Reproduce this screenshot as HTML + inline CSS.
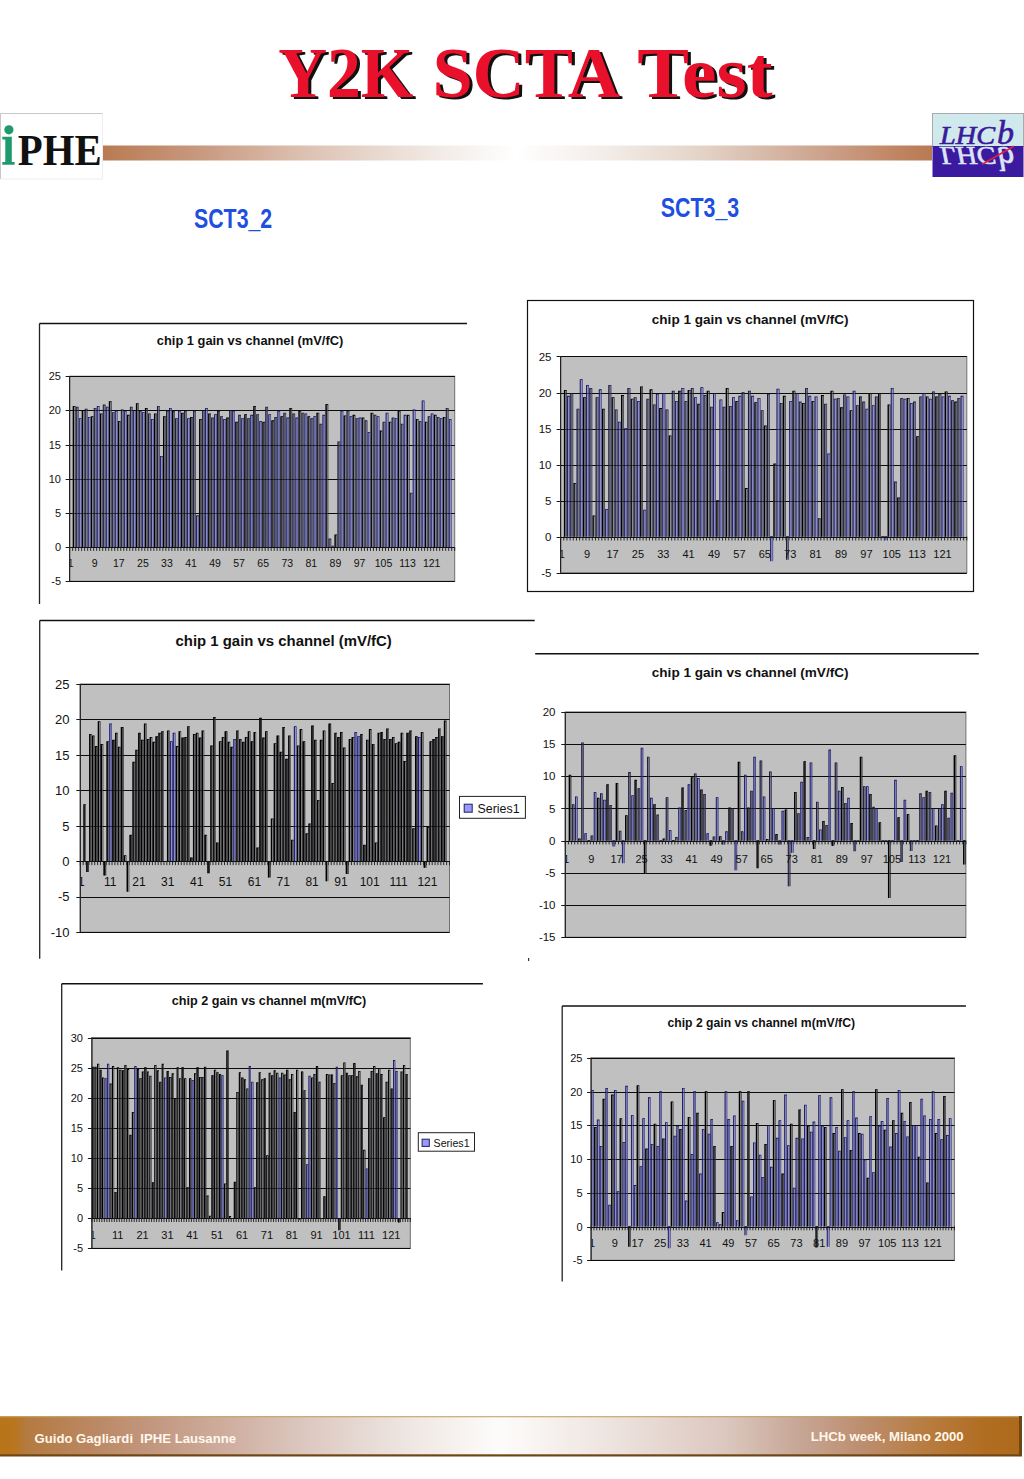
<!DOCTYPE html>
<html><head><meta charset="utf-8"><style>
html,body{margin:0;padding:0;background:#fff;}
svg{display:block;}
text{white-space:pre;}
</style></head><body>
<svg width="1024" height="1479" viewBox="0 0 1024 1479" font-family='"Liberation Sans", sans-serif'>

<defs>
<linearGradient id="hbar" x1="0" x2="1" y1="0" y2="0">
<stop offset="0" stop-color="#b97a52"/>
<stop offset="0.12" stop-color="#c89a80"/>
<stop offset="0.24" stop-color="#dcc0b0"/>
<stop offset="0.36" stop-color="#ece0d8"/>
<stop offset="0.47" stop-color="#fbf9f8"/>
<stop offset="0.5" stop-color="#ffffff"/>
<stop offset="0.53" stop-color="#fbf9f8"/>
<stop offset="0.6" stop-color="#f4eeea"/>
<stop offset="0.72" stop-color="#e4d4c8"/>
<stop offset="0.84" stop-color="#d0ac98"/>
<stop offset="0.96" stop-color="#c08462"/>
<stop offset="1" stop-color="#b97a52"/>
</linearGradient>
<linearGradient id="fbar" x1="0" x2="1" y1="0" y2="0">
<stop offset="0" stop-color="#b87418"/>
<stop offset="0.015" stop-color="#b8761e"/>
<stop offset="0.025" stop-color="#b47a40"/>
<stop offset="0.10" stop-color="#bc8a68"/>
<stop offset="0.16" stop-color="#c49a84"/>
<stop offset="0.23" stop-color="#d0b0a2"/>
<stop offset="0.30" stop-color="#dcc8c0"/>
<stop offset="0.40" stop-color="#eee6e2"/>
<stop offset="0.49" stop-color="#fdfcfb"/>
<stop offset="0.58" stop-color="#f0e8e4"/>
<stop offset="0.71" stop-color="#dcc8c0"/>
<stop offset="0.78" stop-color="#c8a898"/>
<stop offset="0.85" stop-color="#bc8c6c"/>
<stop offset="0.91" stop-color="#b87c40"/>
<stop offset="0.97" stop-color="#b06c20"/>
<stop offset="1" stop-color="#ae6a1c"/>
</linearGradient>
</defs>
<!-- title -->
<g font-family='"Liberation Serif", serif' font-weight="bold" font-size="71">
<g fill="#111" transform="translate(3,2.6)">
<text x="278.2" y="96.5" textLength="135.2" lengthAdjust="spacingAndGlyphs">Y2K</text>
<text x="432.4" y="96.5" textLength="187.6" lengthAdjust="spacingAndGlyphs">SCTA</text>
<text x="637.3" y="96.5" textLength="135.2" lengthAdjust="spacingAndGlyphs">Test</text>
</g>
<g fill="#e8102a">
<text x="278.2" y="96.5" textLength="135.2" lengthAdjust="spacingAndGlyphs">Y2K</text>
<text x="432.4" y="96.5" textLength="187.6" lengthAdjust="spacingAndGlyphs">SCTA</text>
<text x="637.3" y="96.5" textLength="135.2" lengthAdjust="spacingAndGlyphs">Test</text>
</g>
</g>
<!-- gradient bar -->
<rect x="102" y="145.5" width="830" height="15" fill="url(#hbar)"/>
<!-- IPHE logo -->
<rect x="0" y="113" width="103" height="66" fill="#fff"/>
<path d="M0.5 179V113.5H102.5" fill="none" stroke="#c8c8c8" stroke-width="1"/>
<path d="M102.5 113.5V179H0.5" fill="none" stroke="#eee" stroke-width="1"/>
<path d="M2.3 136.7H11.8V162H14.6V164.7H2.3V162H5.3V139.6H2.3Z" fill="#1e9a6e"/>
<circle cx="8.9" cy="129.8" r="4.6" fill="#1e9a6e"/>
<text x="17.8" y="164.7" font-family='"Liberation Serif", serif' font-weight="bold" font-size="44" fill="#111" textLength="83.8" lengthAdjust="spacingAndGlyphs">PHE</text>
<!-- LHCb logo -->
<rect x="932.5" y="113.5" width="91" height="33" fill="#cfe9ec" stroke="#aaa" stroke-width="1"/>
<rect x="932.5" y="146" width="91" height="31" fill="#3c1aa0"/>
<g font-family='"Liberation Serif", serif' font-style="italic" fill="#3a1a9a" stroke="#3a1a9a" stroke-width="0.6">
<text x="940" y="144.4" font-size="24.5" textLength="55" lengthAdjust="spacingAndGlyphs">LHC</text>
<text x="997" y="144.4" font-size="33" textLength="17" lengthAdjust="spacingAndGlyphs">b</text>
</g>
<g transform="translate(0,292) scale(1,-1)" font-family='"Liberation Serif", serif' font-style="italic" fill="#dde4f4" stroke="#dde4f4" stroke-width="0.6">
<text x="940" y="144.6" font-size="24.5" textLength="55" lengthAdjust="spacingAndGlyphs">LHC</text>
<text x="997" y="144.6" font-size="33" textLength="17" lengthAdjust="spacingAndGlyphs">b</text>
</g>
<line x1="982.3" y1="164.3" x2="1013.8" y2="146.2" stroke="#e02040" stroke-width="1.6"/>
<!-- SCT labels -->
<g font-family='"Liberation Sans", sans-serif' font-weight="bold" font-size="27.3" fill="#1f4fe0">
<text x="194" y="227.5" textLength="78.2" lengthAdjust="spacingAndGlyphs">SCT3_2</text>
<text x="660.7" y="216.5" textLength="78.5" lengthAdjust="spacingAndGlyphs">SCT3_3</text>
</g>
<rect x="528" y="958" width="1.2" height="3" fill="#333"/>
<!-- footer -->
<rect x="0" y="1416" width="1022" height="40.5" fill="#6e4612"/>
<rect x="0" y="1416" width="1019" height="38.3" fill="url(#fbar)"/>
<rect x="0" y="1416" width="1019" height="1.3" fill="#c8a46c" opacity="0.85"/>
<g font-family='"Liberation Sans", sans-serif' font-weight="bold" font-size="12.8" fill="#fff8ec">
<text x="34.5" y="1442.8" textLength="201.5" lengthAdjust="spacingAndGlyphs">Guido Gagliardi  IPHE Lausanne</text>
<text x="810.7" y="1441.3" textLength="153" lengthAdjust="spacingAndGlyphs">LHCb week, Milano 2000</text>
</g>

<clipPath id="clip140146022137024"><rect x="70.1" y="376.2" width="385.1" height="245.09999999999997"/></clipPath>
<line x1="39.5" y1="323.5" x2="39.5" y2="604" stroke="#222" stroke-width="1.3"/>
<line x1="39.5" y1="323.5" x2="467" y2="323.5" stroke="#111" stroke-width="1.3"/>
<text x="156.8" y="344.6" font-size="12.5" font-weight="bold" fill="#111" textLength="186.5" lengthAdjust="spacingAndGlyphs">chip 1 gain vs channel (mV/fC)</text>
<rect x="69.6" y="376.2" width="385.1" height="205.09999999999997" fill="#c0c0c0" stroke="#707070" stroke-width="1"/>
<line x1="65.6" y1="581.5" x2="454.7" y2="581.5" stroke="#1a1a1a" stroke-width="1"/>
<text x="61" y="585.3" font-size="11" text-anchor="end" fill="#111">-5</text>
<line x1="65.6" y1="547.5" x2="454.7" y2="547.5" stroke="#1a1a1a" stroke-width="1"/>
<text x="61" y="551.1" font-size="11" text-anchor="end" fill="#111">0</text>
<line x1="65.6" y1="513.5" x2="454.7" y2="513.5" stroke="#1a1a1a" stroke-width="1"/>
<text x="61" y="516.9" font-size="11" text-anchor="end" fill="#111">5</text>
<line x1="65.6" y1="479.5" x2="454.7" y2="479.5" stroke="#1a1a1a" stroke-width="1"/>
<text x="61" y="482.7" font-size="11" text-anchor="end" fill="#111">10</text>
<line x1="65.6" y1="445.5" x2="454.7" y2="445.5" stroke="#1a1a1a" stroke-width="1"/>
<text x="61" y="448.5" font-size="11" text-anchor="end" fill="#111">15</text>
<line x1="65.6" y1="410.5" x2="454.7" y2="410.5" stroke="#1a1a1a" stroke-width="1"/>
<text x="61" y="414.3" font-size="11" text-anchor="end" fill="#111">20</text>
<line x1="65.6" y1="376.5" x2="454.7" y2="376.5" stroke="#1a1a1a" stroke-width="1"/>
<text x="61" y="380.2" font-size="11" text-anchor="end" fill="#111">25</text>
<path d="M69.60 547.1v3.8 M72.61 547.1v3.8 M75.62 547.1v3.8 M78.63 547.1v3.8 M81.63 547.1v3.8 M84.64 547.1v3.8 M87.65 547.1v3.8 M90.66 547.1v3.8 M93.67 547.1v3.8 M96.68 547.1v3.8 M99.69 547.1v3.8 M102.69 547.1v3.8 M105.70 547.1v3.8 M108.71 547.1v3.8 M111.72 547.1v3.8 M114.73 547.1v3.8 M117.74 547.1v3.8 M120.75 547.1v3.8 M123.75 547.1v3.8 M126.76 547.1v3.8 M129.77 547.1v3.8 M132.78 547.1v3.8 M135.79 547.1v3.8 M138.80 547.1v3.8 M141.81 547.1v3.8 M144.81 547.1v3.8 M147.82 547.1v3.8 M150.83 547.1v3.8 M153.84 547.1v3.8 M156.85 547.1v3.8 M159.86 547.1v3.8 M162.87 547.1v3.8 M165.88 547.1v3.8 M168.88 547.1v3.8 M171.89 547.1v3.8 M174.90 547.1v3.8 M177.91 547.1v3.8 M180.92 547.1v3.8 M183.93 547.1v3.8 M186.94 547.1v3.8 M189.94 547.1v3.8 M192.95 547.1v3.8 M195.96 547.1v3.8 M198.97 547.1v3.8 M201.98 547.1v3.8 M204.99 547.1v3.8 M208.00 547.1v3.8 M211.00 547.1v3.8 M214.01 547.1v3.8 M217.02 547.1v3.8 M220.03 547.1v3.8 M223.04 547.1v3.8 M226.05 547.1v3.8 M229.06 547.1v3.8 M232.06 547.1v3.8 M235.07 547.1v3.8 M238.08 547.1v3.8 M241.09 547.1v3.8 M244.10 547.1v3.8 M247.11 547.1v3.8 M250.12 547.1v3.8 M253.12 547.1v3.8 M256.13 547.1v3.8 M259.14 547.1v3.8 M262.15 547.1v3.8 M265.16 547.1v3.8 M268.17 547.1v3.8 M271.18 547.1v3.8 M274.18 547.1v3.8 M277.19 547.1v3.8 M280.20 547.1v3.8 M283.21 547.1v3.8 M286.22 547.1v3.8 M289.23 547.1v3.8 M292.24 547.1v3.8 M295.24 547.1v3.8 M298.25 547.1v3.8 M301.26 547.1v3.8 M304.27 547.1v3.8 M307.28 547.1v3.8 M310.29 547.1v3.8 M313.30 547.1v3.8 M316.30 547.1v3.8 M319.31 547.1v3.8 M322.32 547.1v3.8 M325.33 547.1v3.8 M328.34 547.1v3.8 M331.35 547.1v3.8 M334.36 547.1v3.8 M337.36 547.1v3.8 M340.37 547.1v3.8 M343.38 547.1v3.8 M346.39 547.1v3.8 M349.40 547.1v3.8 M352.41 547.1v3.8 M355.42 547.1v3.8 M358.43 547.1v3.8 M361.43 547.1v3.8 M364.44 547.1v3.8 M367.45 547.1v3.8 M370.46 547.1v3.8 M373.47 547.1v3.8 M376.48 547.1v3.8 M379.49 547.1v3.8 M382.49 547.1v3.8 M385.50 547.1v3.8 M388.51 547.1v3.8 M391.52 547.1v3.8 M394.53 547.1v3.8 M397.54 547.1v3.8 M400.55 547.1v3.8 M403.55 547.1v3.8 M406.56 547.1v3.8 M409.57 547.1v3.8 M412.58 547.1v3.8 M415.59 547.1v3.8 M418.60 547.1v3.8 M421.61 547.1v3.8 M424.61 547.1v3.8 M427.62 547.1v3.8 M430.63 547.1v3.8 M433.64 547.1v3.8 M436.65 547.1v3.8 M439.66 547.1v3.8 M442.67 547.1v3.8 M445.67 547.1v3.8 M448.68 547.1v3.8 M451.69 547.1v3.8 M454.70 547.1v3.8" stroke="#1a1a1a" stroke-width="0.9"/>
<path d="M72.73 406.28h2.76v140.84h-2.76Z M81.76 410.38h2.76v136.73h-2.76Z M90.79 416.54h2.76v130.58h-2.76Z M99.81 413.80h2.76v133.32h-2.76Z M108.84 401.50h2.76v145.62h-2.76Z M117.86 421.32h2.76v125.79h-2.76Z M126.89 415.17h2.76v131.95h-2.76Z M135.91 403.55h2.76v143.57h-2.76Z M144.94 408.33h2.76v138.78h-2.76Z M153.97 413.80h2.76v133.32h-2.76Z M162.99 416.54h2.76v130.58h-2.76Z M172.02 411.07h2.76v136.05h-2.76Z M181.04 413.12h2.76v134.00h-2.76Z M190.07 417.22h2.76v129.90h-2.76Z M199.09 419.27h2.76v127.85h-2.76Z M208.12 413.80h2.76v133.32h-2.76Z M217.15 411.07h2.76v136.05h-2.76Z M226.17 417.90h2.76v129.21h-2.76Z M235.20 422.01h2.76v125.11h-2.76Z M244.22 414.49h2.76v132.63h-2.76Z M253.25 406.28h2.76v140.84h-2.76Z M262.27 422.01h2.76v125.11h-2.76Z M271.30 420.64h2.76v126.48h-2.76Z M280.33 416.54h2.76v130.58h-2.76Z M289.35 408.33h2.76v138.78h-2.76Z M298.38 411.07h2.76v136.05h-2.76Z M307.40 416.54h2.76v130.58h-2.76Z M316.43 413.12h2.76v134.00h-2.76Z M325.46 404.23h2.76v142.89h-2.76Z M334.48 534.81h2.76v12.31h-2.76Z M343.51 415.85h2.76v131.26h-2.76Z M352.53 415.17h2.76v131.95h-2.76Z M361.56 417.90h2.76v129.21h-2.76Z M370.58 413.12h2.76v134.00h-2.76Z M379.61 430.89h2.76v116.22h-2.76Z M388.64 422.01h2.76v125.11h-2.76Z M397.66 411.07h2.76v136.05h-2.76Z M406.69 415.17h2.76v131.95h-2.76Z M415.71 419.27h2.76v127.85h-2.76Z M424.74 422.01h2.76v125.11h-2.76Z M433.76 415.17h2.76v131.95h-2.76Z M442.79 417.22h2.76v129.90h-2.76Z" fill="#8a8a94"/>
<path d="M72.73 405.98h1.30v141.14h-1.30Z M72.73 405.98h2.76v0.8h-2.76Z M75.09 406.28h0.40v140.84h-0.40Z M81.76 410.08h1.30v137.03h-1.30Z M81.76 410.08h2.76v0.8h-2.76Z M84.12 410.38h0.40v136.73h-0.40Z M90.79 416.24h1.30v130.88h-1.30Z M90.79 416.24h2.76v0.8h-2.76Z M93.14 416.54h0.40v130.58h-0.40Z M99.81 413.50h1.30v133.62h-1.30Z M99.81 413.50h2.76v0.8h-2.76Z M102.17 413.80h0.40v133.32h-0.40Z M108.84 401.20h1.30v145.92h-1.30Z M108.84 401.20h2.76v0.8h-2.76Z M111.20 401.50h0.40v145.62h-0.40Z M117.86 421.02h1.30v126.09h-1.30Z M117.86 421.02h2.76v0.8h-2.76Z M120.22 421.32h0.40v125.79h-0.40Z M126.89 414.87h1.30v132.25h-1.30Z M126.89 414.87h2.76v0.8h-2.76Z M129.25 415.17h0.40v131.95h-0.40Z M135.91 403.25h1.30v143.87h-1.30Z M135.91 403.25h2.76v0.8h-2.76Z M138.27 403.55h0.40v143.57h-0.40Z M144.94 408.03h1.30v139.08h-1.30Z M144.94 408.03h2.76v0.8h-2.76Z M147.30 408.33h0.40v138.78h-0.40Z M153.97 413.50h1.30v133.62h-1.30Z M153.97 413.50h2.76v0.8h-2.76Z M156.32 413.80h0.40v133.32h-0.40Z M162.99 416.24h1.30v130.88h-1.30Z M162.99 416.24h2.76v0.8h-2.76Z M165.35 416.54h0.40v130.58h-0.40Z M172.02 410.77h1.30v136.35h-1.30Z M172.02 410.77h2.76v0.8h-2.76Z M174.38 411.07h0.40v136.05h-0.40Z M181.04 412.82h1.30v134.30h-1.30Z M181.04 412.82h2.76v0.8h-2.76Z M183.40 413.12h0.40v134.00h-0.40Z M190.07 416.92h1.30v130.20h-1.30Z M190.07 416.92h2.76v0.8h-2.76Z M192.43 417.22h0.40v129.90h-0.40Z M199.09 418.97h1.30v128.15h-1.30Z M199.09 418.97h2.76v0.8h-2.76Z M201.45 419.27h0.40v127.85h-0.40Z M208.12 413.50h1.30v133.62h-1.30Z M208.12 413.50h2.76v0.8h-2.76Z M210.48 413.80h0.40v133.32h-0.40Z M217.15 410.77h1.30v136.35h-1.30Z M217.15 410.77h2.76v0.8h-2.76Z M219.50 411.07h0.40v136.05h-0.40Z M226.17 417.60h1.30v129.51h-1.30Z M226.17 417.60h2.76v0.8h-2.76Z M228.53 417.90h0.40v129.21h-0.40Z M235.20 421.71h1.30v125.41h-1.30Z M235.20 421.71h2.76v0.8h-2.76Z M237.56 422.01h0.40v125.11h-0.40Z M244.22 414.19h1.30v132.93h-1.30Z M244.22 414.19h2.76v0.8h-2.76Z M246.58 414.49h0.40v132.63h-0.40Z M253.25 405.98h1.30v141.14h-1.30Z M253.25 405.98h2.76v0.8h-2.76Z M255.61 406.28h0.40v140.84h-0.40Z M262.27 421.71h1.30v125.41h-1.30Z M262.27 421.71h2.76v0.8h-2.76Z M264.63 422.01h0.40v125.11h-0.40Z M271.30 420.34h1.30v126.78h-1.30Z M271.30 420.34h2.76v0.8h-2.76Z M273.66 420.64h0.40v126.48h-0.40Z M280.33 416.24h1.30v130.88h-1.30Z M280.33 416.24h2.76v0.8h-2.76Z M282.69 416.54h0.40v130.58h-0.40Z M289.35 408.03h1.30v139.08h-1.30Z M289.35 408.03h2.76v0.8h-2.76Z M291.71 408.33h0.40v138.78h-0.40Z M298.38 410.77h1.30v136.35h-1.30Z M298.38 410.77h2.76v0.8h-2.76Z M300.74 411.07h0.40v136.05h-0.40Z M307.40 416.24h1.30v130.88h-1.30Z M307.40 416.24h2.76v0.8h-2.76Z M309.76 416.54h0.40v130.58h-0.40Z M316.43 412.82h1.30v134.30h-1.30Z M316.43 412.82h2.76v0.8h-2.76Z M318.79 413.12h0.40v134.00h-0.40Z M325.46 403.93h1.30v143.19h-1.30Z M325.46 403.93h2.76v0.8h-2.76Z M327.81 404.23h0.40v142.89h-0.40Z M334.48 534.51h1.30v12.61h-1.30Z M334.48 534.51h2.76v0.8h-2.76Z M336.84 534.81h0.40v12.31h-0.40Z M343.51 415.55h1.30v131.56h-1.30Z M343.51 415.55h2.76v0.8h-2.76Z M345.87 415.85h0.40v131.26h-0.40Z M352.53 414.87h1.30v132.25h-1.30Z M352.53 414.87h2.76v0.8h-2.76Z M354.89 415.17h0.40v131.95h-0.40Z M361.56 417.60h1.30v129.51h-1.30Z M361.56 417.60h2.76v0.8h-2.76Z M363.92 417.90h0.40v129.21h-0.40Z M370.58 412.82h1.30v134.30h-1.30Z M370.58 412.82h2.76v0.8h-2.76Z M372.94 413.12h0.40v134.00h-0.40Z M379.61 430.59h1.30v116.52h-1.30Z M379.61 430.59h2.76v0.8h-2.76Z M381.97 430.89h0.40v116.22h-0.40Z M388.64 421.71h1.30v125.41h-1.30Z M388.64 421.71h2.76v0.8h-2.76Z M390.99 422.01h0.40v125.11h-0.40Z M397.66 410.77h1.30v136.35h-1.30Z M397.66 410.77h2.76v0.8h-2.76Z M400.02 411.07h0.40v136.05h-0.40Z M406.69 414.87h1.30v132.25h-1.30Z M406.69 414.87h2.76v0.8h-2.76Z M409.05 415.17h0.40v131.95h-0.40Z M415.71 418.97h1.30v128.15h-1.30Z M415.71 418.97h2.76v0.8h-2.76Z M418.07 419.27h0.40v127.85h-0.40Z M424.74 421.71h1.30v125.41h-1.30Z M424.74 421.71h2.76v0.8h-2.76Z M427.10 422.01h0.40v125.11h-0.40Z M433.76 414.87h1.30v132.25h-1.30Z M433.76 414.87h2.76v0.8h-2.76Z M436.12 415.17h0.40v131.95h-0.40Z M442.79 416.92h1.30v130.20h-1.30Z M442.79 416.92h2.76v0.8h-2.76Z M445.15 417.22h0.40v129.90h-0.40Z" fill="#000000"/>
<path d="M75.74 406.96h2.76v140.15h-2.76Z M84.77 409.02h2.76v138.10h-2.76Z M93.79 408.33h2.76v138.78h-2.76Z M102.82 404.91h2.76v142.20h-2.76Z M111.85 412.43h2.76v134.68h-2.76Z M120.87 409.70h2.76v137.42h-2.76Z M129.90 406.96h2.76v140.15h-2.76Z M138.92 411.07h2.76v136.05h-2.76Z M147.95 413.80h2.76v133.32h-2.76Z M156.97 406.28h2.76v140.84h-2.76Z M166.00 411.07h2.76v136.05h-2.76Z M175.03 418.59h2.76v128.53h-2.76Z M184.05 411.07h2.76v136.05h-2.76Z M193.08 411.07h2.76v136.05h-2.76Z M202.10 410.38h2.76v136.73h-2.76Z M211.13 417.90h2.76v129.21h-2.76Z M220.15 416.54h2.76v130.58h-2.76Z M229.18 410.38h2.76v136.73h-2.76Z M238.21 415.17h2.76v131.95h-2.76Z M247.23 418.59h2.76v128.53h-2.76Z M256.26 414.49h2.76v132.63h-2.76Z M265.28 406.96h2.76v140.15h-2.76Z M274.31 417.22h2.76v129.90h-2.76Z M283.34 413.12h2.76v134.00h-2.76Z M292.36 413.80h2.76v133.32h-2.76Z M301.39 413.12h2.76v134.00h-2.76Z M310.41 418.59h2.76v128.53h-2.76Z M319.44 424.06h2.76v123.06h-2.76Z M328.46 538.91h2.76v8.20h-2.76Z M337.49 441.83h2.76v105.28h-2.76Z M346.52 411.07h2.76v136.05h-2.76Z M355.54 418.59h2.76v128.53h-2.76Z M364.57 420.64h2.76v126.48h-2.76Z M373.59 415.17h2.76v131.95h-2.76Z M382.62 422.01h2.76v125.11h-2.76Z M391.64 417.90h2.76v129.21h-2.76Z M400.67 424.06h2.76v123.06h-2.76Z M409.70 493.11h2.76v54.01h-2.76Z M418.72 421.32h2.76v125.79h-2.76Z M427.75 416.54h2.76v130.58h-2.76Z M436.77 417.22h2.76v129.90h-2.76Z M445.80 408.33h2.76v138.78h-2.76Z" fill="#76768e"/>
<path d="M75.74 406.66h1.00v140.45h-1.00Z M75.74 406.66h2.76v0.8h-2.76Z M78.10 406.96h0.40v140.15h-0.40Z M84.77 408.72h1.00v138.40h-1.00Z M84.77 408.72h2.76v0.8h-2.76Z M87.13 409.02h0.40v138.10h-0.40Z M93.79 408.03h1.00v139.08h-1.00Z M93.79 408.03h2.76v0.8h-2.76Z M96.15 408.33h0.40v138.78h-0.40Z M102.82 404.61h1.00v142.50h-1.00Z M102.82 404.61h2.76v0.8h-2.76Z M105.18 404.91h0.40v142.20h-0.40Z M111.85 412.13h1.00v134.98h-1.00Z M111.85 412.13h2.76v0.8h-2.76Z M114.20 412.43h0.40v134.68h-0.40Z M120.87 409.40h1.00v137.72h-1.00Z M120.87 409.40h2.76v0.8h-2.76Z M123.23 409.70h0.40v137.42h-0.40Z M129.90 406.66h1.00v140.45h-1.00Z M129.90 406.66h2.76v0.8h-2.76Z M132.26 406.96h0.40v140.15h-0.40Z M138.92 410.77h1.00v136.35h-1.00Z M138.92 410.77h2.76v0.8h-2.76Z M141.28 411.07h0.40v136.05h-0.40Z M147.95 413.50h1.00v133.62h-1.00Z M147.95 413.50h2.76v0.8h-2.76Z M150.31 413.80h0.40v133.32h-0.40Z M156.97 405.98h1.00v141.14h-1.00Z M156.97 405.98h2.76v0.8h-2.76Z M159.33 406.28h0.40v140.84h-0.40Z M166.00 410.77h1.00v136.35h-1.00Z M166.00 410.77h2.76v0.8h-2.76Z M168.36 411.07h0.40v136.05h-0.40Z M175.03 418.29h1.00v128.83h-1.00Z M175.03 418.29h2.76v0.8h-2.76Z M177.38 418.59h0.40v128.53h-0.40Z M184.05 410.77h1.00v136.35h-1.00Z M184.05 410.77h2.76v0.8h-2.76Z M186.41 411.07h0.40v136.05h-0.40Z M193.08 410.77h1.00v136.35h-1.00Z M193.08 410.77h2.76v0.8h-2.76Z M195.44 411.07h0.40v136.05h-0.40Z M202.10 410.08h1.00v137.03h-1.00Z M202.10 410.08h2.76v0.8h-2.76Z M204.46 410.38h0.40v136.73h-0.40Z M211.13 417.60h1.00v129.51h-1.00Z M211.13 417.60h2.76v0.8h-2.76Z M213.49 417.90h0.40v129.21h-0.40Z M220.15 416.24h1.00v130.88h-1.00Z M220.15 416.24h2.76v0.8h-2.76Z M222.51 416.54h0.40v130.58h-0.40Z M229.18 410.08h1.00v137.03h-1.00Z M229.18 410.08h2.76v0.8h-2.76Z M231.54 410.38h0.40v136.73h-0.40Z M238.21 414.87h1.00v132.25h-1.00Z M238.21 414.87h2.76v0.8h-2.76Z M240.56 415.17h0.40v131.95h-0.40Z M247.23 418.29h1.00v128.83h-1.00Z M247.23 418.29h2.76v0.8h-2.76Z M249.59 418.59h0.40v128.53h-0.40Z M256.26 414.19h1.00v132.93h-1.00Z M256.26 414.19h2.76v0.8h-2.76Z M258.62 414.49h0.40v132.63h-0.40Z M265.28 406.66h1.00v140.45h-1.00Z M265.28 406.66h2.76v0.8h-2.76Z M267.64 406.96h0.40v140.15h-0.40Z M274.31 416.92h1.00v130.20h-1.00Z M274.31 416.92h2.76v0.8h-2.76Z M276.67 417.22h0.40v129.90h-0.40Z M283.34 412.82h1.00v134.30h-1.00Z M283.34 412.82h2.76v0.8h-2.76Z M285.69 413.12h0.40v134.00h-0.40Z M292.36 413.50h1.00v133.62h-1.00Z M292.36 413.50h2.76v0.8h-2.76Z M294.72 413.80h0.40v133.32h-0.40Z M301.39 412.82h1.00v134.30h-1.00Z M301.39 412.82h2.76v0.8h-2.76Z M303.75 413.12h0.40v134.00h-0.40Z M310.41 418.29h1.00v128.83h-1.00Z M310.41 418.29h2.76v0.8h-2.76Z M312.77 418.59h0.40v128.53h-0.40Z M319.44 423.76h1.00v123.36h-1.00Z M319.44 423.76h2.76v0.8h-2.76Z M321.80 424.06h0.40v123.06h-0.40Z M328.46 538.61h1.00v8.50h-1.00Z M328.46 538.61h2.76v0.8h-2.76Z M330.82 538.91h0.40v8.20h-0.40Z M337.49 441.53h1.00v105.58h-1.00Z M337.49 441.53h2.76v0.8h-2.76Z M339.85 441.83h0.40v105.28h-0.40Z M346.52 410.77h1.00v136.35h-1.00Z M346.52 410.77h2.76v0.8h-2.76Z M348.87 411.07h0.40v136.05h-0.40Z M355.54 418.29h1.00v128.83h-1.00Z M355.54 418.29h2.76v0.8h-2.76Z M357.90 418.59h0.40v128.53h-0.40Z M364.57 420.34h1.00v126.78h-1.00Z M364.57 420.34h2.76v0.8h-2.76Z M366.93 420.64h0.40v126.48h-0.40Z M373.59 414.87h1.00v132.25h-1.00Z M373.59 414.87h2.76v0.8h-2.76Z M375.95 415.17h0.40v131.95h-0.40Z M382.62 421.71h1.00v125.41h-1.00Z M382.62 421.71h2.76v0.8h-2.76Z M384.98 422.01h0.40v125.11h-0.40Z M391.64 417.60h1.00v129.51h-1.00Z M391.64 417.60h2.76v0.8h-2.76Z M394.00 417.90h0.40v129.21h-0.40Z M400.67 423.76h1.00v123.36h-1.00Z M400.67 423.76h2.76v0.8h-2.76Z M403.03 424.06h0.40v123.06h-0.40Z M409.70 492.81h1.00v54.31h-1.00Z M409.70 492.81h2.76v0.8h-2.76Z M412.05 493.11h0.40v54.01h-0.40Z M418.72 421.02h1.00v126.09h-1.00Z M418.72 421.02h2.76v0.8h-2.76Z M421.08 421.32h0.40v125.79h-0.40Z M427.75 416.24h1.00v130.88h-1.00Z M427.75 416.24h2.76v0.8h-2.76Z M430.11 416.54h0.40v130.58h-0.40Z M436.77 416.92h1.00v130.20h-1.00Z M436.77 416.92h2.76v0.8h-2.76Z M439.13 417.22h0.40v129.90h-0.40Z M445.80 408.03h1.00v139.08h-1.00Z M445.80 408.03h2.76v0.8h-2.76Z M448.16 408.33h0.40v138.78h-0.40Z" fill="#1e1e3a"/>
<path d="M78.75 418.59h2.76v128.53h-2.76Z M87.78 417.22h2.76v129.90h-2.76Z M96.80 406.28h2.76v140.84h-2.76Z M105.83 406.96h2.76v140.15h-2.76Z M114.85 411.07h2.76v136.05h-2.76Z M123.88 411.07h2.76v136.05h-2.76Z M132.91 410.38h2.76v136.73h-2.76Z M141.93 412.43h2.76v134.68h-2.76Z M150.96 419.27h2.76v127.85h-2.76Z M159.98 456.19h2.76v90.93h-2.76Z M169.01 408.33h2.76v138.78h-2.76Z M178.03 411.07h2.76v136.05h-2.76Z M187.06 418.59h2.76v128.53h-2.76Z M196.09 515.67h2.76v31.45h-2.76Z M205.11 408.33h2.76v138.78h-2.76Z M214.14 414.49h2.76v132.63h-2.76Z M223.16 419.27h2.76v127.85h-2.76Z M232.19 411.07h2.76v136.05h-2.76Z M241.21 418.59h2.76v128.53h-2.76Z M250.24 415.17h2.76v131.95h-2.76Z M259.27 421.32h2.76v125.79h-2.76Z M268.29 414.49h2.76v132.63h-2.76Z M277.32 411.07h2.76v136.05h-2.76Z M286.34 417.90h2.76v129.21h-2.76Z M295.37 417.90h2.76v129.21h-2.76Z M304.40 413.80h2.76v133.32h-2.76Z M313.42 416.54h2.76v130.58h-2.76Z M322.45 415.17h2.76v131.95h-2.76Z M331.47 546.09h2.76v1.03h-2.76Z M340.50 411.07h2.76v136.05h-2.76Z M349.52 416.54h2.76v130.58h-2.76Z M358.55 417.90h2.76v129.21h-2.76Z M367.58 432.26h2.76v114.86h-2.76Z M376.60 416.54h2.76v130.58h-2.76Z M385.63 413.12h2.76v134.00h-2.76Z M394.65 418.59h2.76v128.53h-2.76Z M403.68 415.17h2.76v131.95h-2.76Z M412.70 409.70h2.76v137.42h-2.76Z M421.73 400.81h2.76v146.30h-2.76Z M430.76 413.80h2.76v133.32h-2.76Z M439.78 418.59h2.76v128.53h-2.76Z M448.81 419.27h2.76v127.85h-2.76Z" fill="#8c8cc6"/>
<path d="M78.75 418.29h0.90v128.83h-0.90Z M78.75 418.29h2.76v0.8h-2.76Z M81.11 418.59h0.40v128.53h-0.40Z M87.78 416.92h0.90v130.20h-0.90Z M87.78 416.92h2.76v0.8h-2.76Z M90.14 417.22h0.40v129.90h-0.40Z M96.80 405.98h0.90v141.14h-0.90Z M96.80 405.98h2.76v0.8h-2.76Z M99.16 406.28h0.40v140.84h-0.40Z M105.83 406.66h0.90v140.45h-0.90Z M105.83 406.66h2.76v0.8h-2.76Z M108.19 406.96h0.40v140.15h-0.40Z M114.85 410.77h0.90v136.35h-0.90Z M114.85 410.77h2.76v0.8h-2.76Z M117.21 411.07h0.40v136.05h-0.40Z M123.88 410.77h0.90v136.35h-0.90Z M123.88 410.77h2.76v0.8h-2.76Z M126.24 411.07h0.40v136.05h-0.40Z M132.91 410.08h0.90v137.03h-0.90Z M132.91 410.08h2.76v0.8h-2.76Z M135.26 410.38h0.40v136.73h-0.40Z M141.93 412.13h0.90v134.98h-0.90Z M141.93 412.13h2.76v0.8h-2.76Z M144.29 412.43h0.40v134.68h-0.40Z M150.96 418.97h0.90v128.15h-0.90Z M150.96 418.97h2.76v0.8h-2.76Z M153.32 419.27h0.40v127.85h-0.40Z M159.98 455.89h0.90v91.23h-0.90Z M159.98 455.89h2.76v0.8h-2.76Z M162.34 456.19h0.40v90.93h-0.40Z M169.01 408.03h0.90v139.08h-0.90Z M169.01 408.03h2.76v0.8h-2.76Z M171.37 408.33h0.40v138.78h-0.40Z M178.03 410.77h0.90v136.35h-0.90Z M178.03 410.77h2.76v0.8h-2.76Z M180.39 411.07h0.40v136.05h-0.40Z M187.06 418.29h0.90v128.83h-0.90Z M187.06 418.29h2.76v0.8h-2.76Z M189.42 418.59h0.40v128.53h-0.40Z M196.09 515.37h0.90v31.75h-0.90Z M196.09 515.37h2.76v0.8h-2.76Z M198.44 515.67h0.40v31.45h-0.40Z M205.11 408.03h0.90v139.08h-0.90Z M205.11 408.03h2.76v0.8h-2.76Z M207.47 408.33h0.40v138.78h-0.40Z M214.14 414.19h0.90v132.93h-0.90Z M214.14 414.19h2.76v0.8h-2.76Z M216.50 414.49h0.40v132.63h-0.40Z M223.16 418.97h0.90v128.15h-0.90Z M223.16 418.97h2.76v0.8h-2.76Z M225.52 419.27h0.40v127.85h-0.40Z M232.19 410.77h0.90v136.35h-0.90Z M232.19 410.77h2.76v0.8h-2.76Z M234.55 411.07h0.40v136.05h-0.40Z M241.21 418.29h0.90v128.83h-0.90Z M241.21 418.29h2.76v0.8h-2.76Z M243.57 418.59h0.40v128.53h-0.40Z M250.24 414.87h0.90v132.25h-0.90Z M250.24 414.87h2.76v0.8h-2.76Z M252.60 415.17h0.40v131.95h-0.40Z M259.27 421.02h0.90v126.09h-0.90Z M259.27 421.02h2.76v0.8h-2.76Z M261.62 421.32h0.40v125.79h-0.40Z M268.29 414.19h0.90v132.93h-0.90Z M268.29 414.19h2.76v0.8h-2.76Z M270.65 414.49h0.40v132.63h-0.40Z M277.32 410.77h0.90v136.35h-0.90Z M277.32 410.77h2.76v0.8h-2.76Z M279.68 411.07h0.40v136.05h-0.40Z M286.34 417.60h0.90v129.51h-0.90Z M286.34 417.60h2.76v0.8h-2.76Z M288.70 417.90h0.40v129.21h-0.40Z M295.37 417.60h0.90v129.51h-0.90Z M295.37 417.60h2.76v0.8h-2.76Z M297.73 417.90h0.40v129.21h-0.40Z M304.40 413.50h0.90v133.62h-0.90Z M304.40 413.50h2.76v0.8h-2.76Z M306.75 413.80h0.40v133.32h-0.40Z M313.42 416.24h0.90v130.88h-0.90Z M313.42 416.24h2.76v0.8h-2.76Z M315.78 416.54h0.40v130.58h-0.40Z M322.45 414.87h0.90v132.25h-0.90Z M322.45 414.87h2.76v0.8h-2.76Z M324.81 415.17h0.40v131.95h-0.40Z M331.47 545.79h0.90v1.33h-0.90Z M331.47 545.79h2.76v0.8h-2.76Z M333.83 546.09h0.40v1.03h-0.40Z M340.50 410.77h0.90v136.35h-0.90Z M340.50 410.77h2.76v0.8h-2.76Z M342.86 411.07h0.40v136.05h-0.40Z M349.52 416.24h0.90v130.88h-0.90Z M349.52 416.24h2.76v0.8h-2.76Z M351.88 416.54h0.40v130.58h-0.40Z M358.55 417.60h0.90v129.51h-0.90Z M358.55 417.60h2.76v0.8h-2.76Z M360.91 417.90h0.40v129.21h-0.40Z M367.58 431.96h0.90v115.16h-0.90Z M367.58 431.96h2.76v0.8h-2.76Z M369.93 432.26h0.40v114.86h-0.40Z M376.60 416.24h0.90v130.88h-0.90Z M376.60 416.24h2.76v0.8h-2.76Z M378.96 416.54h0.40v130.58h-0.40Z M385.63 412.82h0.90v134.30h-0.90Z M385.63 412.82h2.76v0.8h-2.76Z M387.99 413.12h0.40v134.00h-0.40Z M394.65 418.29h0.90v128.83h-0.90Z M394.65 418.29h2.76v0.8h-2.76Z M397.01 418.59h0.40v128.53h-0.40Z M403.68 414.87h0.90v132.25h-0.90Z M403.68 414.87h2.76v0.8h-2.76Z M406.04 415.17h0.40v131.95h-0.40Z M412.70 409.40h0.90v137.72h-0.90Z M412.70 409.40h2.76v0.8h-2.76Z M415.06 409.70h0.40v137.42h-0.40Z M421.73 400.51h0.90v146.60h-0.90Z M421.73 400.51h2.76v0.8h-2.76Z M424.09 400.81h0.40v146.30h-0.40Z M430.76 413.50h0.90v133.62h-0.90Z M430.76 413.50h2.76v0.8h-2.76Z M433.11 413.80h0.40v133.32h-0.40Z M439.78 418.29h0.90v128.83h-0.90Z M439.78 418.29h2.76v0.8h-2.76Z M442.14 418.59h0.40v128.53h-0.40Z M448.81 418.97h0.90v128.15h-0.90Z M448.81 418.97h2.76v0.8h-2.76Z M451.17 419.27h0.40v127.85h-0.40Z" fill="#18185a"/>
<path d="M69.6 581.5H454.7 M69.6 547.5H454.7 M69.6 513.5H454.7 M69.6 479.5H454.7 M69.6 445.5H454.7 M69.6 410.5H454.7 M69.6 376.5H454.7" stroke="#000" stroke-opacity="0.55" stroke-width="1"/>
<line x1="69.6" y1="376.2" x2="69.6" y2="581.3" stroke="#222" stroke-width="1.2"/>
<line x1="69.6" y1="547.5" x2="454.7" y2="547.5" stroke="#111" stroke-width="1.2"/>
<g clip-path="url(#clip140146022137024)"><text x="70.7" y="566.8" font-size="10.5" text-anchor="middle" fill="#111">1</text><text x="94.7" y="566.8" font-size="10.5" text-anchor="middle" fill="#111">9</text><text x="118.8" y="566.8" font-size="10.5" text-anchor="middle" fill="#111">17</text><text x="142.9" y="566.8" font-size="10.5" text-anchor="middle" fill="#111">25</text><text x="166.9" y="566.8" font-size="10.5" text-anchor="middle" fill="#111">33</text><text x="191.0" y="566.8" font-size="10.5" text-anchor="middle" fill="#111">41</text><text x="215.1" y="566.8" font-size="10.5" text-anchor="middle" fill="#111">49</text><text x="239.1" y="566.8" font-size="10.5" text-anchor="middle" fill="#111">57</text><text x="263.2" y="566.8" font-size="10.5" text-anchor="middle" fill="#111">65</text><text x="287.3" y="566.8" font-size="10.5" text-anchor="middle" fill="#111">73</text><text x="311.3" y="566.8" font-size="10.5" text-anchor="middle" fill="#111">81</text><text x="335.4" y="566.8" font-size="10.5" text-anchor="middle" fill="#111">89</text><text x="359.5" y="566.8" font-size="10.5" text-anchor="middle" fill="#111">97</text><text x="383.5" y="566.8" font-size="10.5" text-anchor="middle" fill="#111">105</text><text x="407.6" y="566.8" font-size="10.5" text-anchor="middle" fill="#111">113</text><text x="431.7" y="566.8" font-size="10.5" text-anchor="middle" fill="#111">121</text></g>
<clipPath id="clip140146022136896"><rect x="561.1" y="356.5" width="406.19999999999993" height="256.20000000000005"/></clipPath>
<rect x="527.5" y="300.5" width="446.0" height="291.0" fill="#fff" stroke="#111" stroke-width="1.2"/>
<text x="651.8" y="323.5" font-size="13" font-weight="bold" fill="#111" textLength="196.7" lengthAdjust="spacingAndGlyphs">chip 1 gain vs channel (mV/fC)</text>
<rect x="560.6" y="356.5" width="406.19999999999993" height="216.20000000000005" fill="#c0c0c0" stroke="#707070" stroke-width="1"/>
<line x1="556.6" y1="573.5" x2="966.8" y2="573.5" stroke="#1a1a1a" stroke-width="1"/>
<text x="551.5" y="576.8" font-size="11.5" text-anchor="end" fill="#111">-5</text>
<line x1="556.6" y1="537.5" x2="966.8" y2="537.5" stroke="#1a1a1a" stroke-width="1"/>
<text x="551.5" y="540.8" font-size="11.5" text-anchor="end" fill="#111">0</text>
<line x1="556.6" y1="501.5" x2="966.8" y2="501.5" stroke="#1a1a1a" stroke-width="1"/>
<text x="551.5" y="504.8" font-size="11.5" text-anchor="end" fill="#111">5</text>
<line x1="556.6" y1="465.5" x2="966.8" y2="465.5" stroke="#1a1a1a" stroke-width="1"/>
<text x="551.5" y="468.7" font-size="11.5" text-anchor="end" fill="#111">10</text>
<line x1="556.6" y1="429.5" x2="966.8" y2="429.5" stroke="#1a1a1a" stroke-width="1"/>
<text x="551.5" y="432.7" font-size="11.5" text-anchor="end" fill="#111">15</text>
<line x1="556.6" y1="393.5" x2="966.8" y2="393.5" stroke="#1a1a1a" stroke-width="1"/>
<text x="551.5" y="396.7" font-size="11.5" text-anchor="end" fill="#111">20</text>
<line x1="556.6" y1="356.5" x2="966.8" y2="356.5" stroke="#1a1a1a" stroke-width="1"/>
<text x="551.5" y="360.6" font-size="11.5" text-anchor="end" fill="#111">25</text>
<path d="M560.60 536.7v3.8 M563.77 536.7v3.8 M566.95 536.7v3.8 M570.12 536.7v3.8 M573.29 536.7v3.8 M576.47 536.7v3.8 M579.64 536.7v3.8 M582.81 536.7v3.8 M585.99 536.7v3.8 M589.16 536.7v3.8 M592.33 536.7v3.8 M595.51 536.7v3.8 M598.68 536.7v3.8 M601.85 536.7v3.8 M605.03 536.7v3.8 M608.20 536.7v3.8 M611.38 536.7v3.8 M614.55 536.7v3.8 M617.72 536.7v3.8 M620.90 536.7v3.8 M624.07 536.7v3.8 M627.24 536.7v3.8 M630.42 536.7v3.8 M633.59 536.7v3.8 M636.76 536.7v3.8 M639.94 536.7v3.8 M643.11 536.7v3.8 M646.28 536.7v3.8 M649.46 536.7v3.8 M652.63 536.7v3.8 M655.80 536.7v3.8 M658.98 536.7v3.8 M662.15 536.7v3.8 M665.32 536.7v3.8 M668.50 536.7v3.8 M671.67 536.7v3.8 M674.84 536.7v3.8 M678.02 536.7v3.8 M681.19 536.7v3.8 M684.36 536.7v3.8 M687.54 536.7v3.8 M690.71 536.7v3.8 M693.88 536.7v3.8 M697.06 536.7v3.8 M700.23 536.7v3.8 M703.40 536.7v3.8 M706.58 536.7v3.8 M709.75 536.7v3.8 M712.92 536.7v3.8 M716.10 536.7v3.8 M719.27 536.7v3.8 M722.45 536.7v3.8 M725.62 536.7v3.8 M728.79 536.7v3.8 M731.97 536.7v3.8 M735.14 536.7v3.8 M738.31 536.7v3.8 M741.49 536.7v3.8 M744.66 536.7v3.8 M747.83 536.7v3.8 M751.01 536.7v3.8 M754.18 536.7v3.8 M757.35 536.7v3.8 M760.53 536.7v3.8 M763.70 536.7v3.8 M766.87 536.7v3.8 M770.05 536.7v3.8 M773.22 536.7v3.8 M776.39 536.7v3.8 M779.57 536.7v3.8 M782.74 536.7v3.8 M785.91 536.7v3.8 M789.09 536.7v3.8 M792.26 536.7v3.8 M795.43 536.7v3.8 M798.61 536.7v3.8 M801.78 536.7v3.8 M804.95 536.7v3.8 M808.13 536.7v3.8 M811.30 536.7v3.8 M814.47 536.7v3.8 M817.65 536.7v3.8 M820.82 536.7v3.8 M824.00 536.7v3.8 M827.17 536.7v3.8 M830.34 536.7v3.8 M833.52 536.7v3.8 M836.69 536.7v3.8 M839.86 536.7v3.8 M843.04 536.7v3.8 M846.21 536.7v3.8 M849.38 536.7v3.8 M852.56 536.7v3.8 M855.73 536.7v3.8 M858.90 536.7v3.8 M862.08 536.7v3.8 M865.25 536.7v3.8 M868.42 536.7v3.8 M871.60 536.7v3.8 M874.77 536.7v3.8 M877.94 536.7v3.8 M881.12 536.7v3.8 M884.29 536.7v3.8 M887.46 536.7v3.8 M890.64 536.7v3.8 M893.81 536.7v3.8 M896.98 536.7v3.8 M900.16 536.7v3.8 M903.33 536.7v3.8 M906.50 536.7v3.8 M909.68 536.7v3.8 M912.85 536.7v3.8 M916.02 536.7v3.8 M919.20 536.7v3.8 M922.37 536.7v3.8 M925.55 536.7v3.8 M928.72 536.7v3.8 M931.89 536.7v3.8 M935.07 536.7v3.8 M938.24 536.7v3.8 M941.41 536.7v3.8 M944.59 536.7v3.8 M947.76 536.7v3.8 M950.93 536.7v3.8 M954.11 536.7v3.8 M957.28 536.7v3.8 M960.45 536.7v3.8 M963.63 536.7v3.8 M966.80 536.7v3.8" stroke="#1a1a1a" stroke-width="0.9"/>
<path d="M563.90 390.37h2.92v146.30h-2.92Z M573.42 483.34h2.92v53.33h-2.92Z M582.94 397.58h2.92v139.09h-2.92Z M592.46 515.77h2.92v20.90h-2.92Z M601.98 409.11h2.92v127.56h-2.92Z M611.50 397.58h2.92v139.09h-2.92Z M621.02 395.42h2.92v141.25h-2.92Z M630.54 399.02h2.92v137.65h-2.92Z M640.06 386.77h2.92v149.90h-2.92Z M649.58 389.65h2.92v147.02h-2.92Z M659.10 408.39h2.92v128.28h-2.92Z M668.62 435.77h2.92v100.89h-2.92Z M678.14 391.09h2.92v145.57h-2.92Z M687.66 390.37h2.92v146.30h-2.92Z M697.18 404.06h2.92v132.60h-2.92Z M706.70 391.09h2.92v145.57h-2.92Z M716.22 500.63h2.92v36.03h-2.92Z M725.74 388.21h2.92v148.46h-2.92Z M735.26 401.18h2.92v135.49h-2.92Z M744.78 488.38h2.92v48.28h-2.92Z M754.30 402.62h2.92v134.04h-2.92Z M763.82 425.68h2.92v110.98h-2.92Z M773.35 463.88h2.92v72.79h-2.92Z M782.87 396.14h2.92v140.53h-2.92Z M792.39 391.09h2.92v145.57h-2.92Z M801.91 403.34h2.92v133.32h-2.92Z M811.43 401.18h2.92v135.49h-2.92Z M820.95 395.42h2.92v141.25h-2.92Z M830.47 391.09h2.92v145.57h-2.92Z M839.99 407.67h2.92v129.00h-2.92Z M849.51 410.55h2.92v126.12h-2.92Z M859.03 396.86h2.92v139.81h-2.92Z M868.55 393.25h2.92v143.41h-2.92Z M878.07 393.25h2.92v143.41h-2.92Z M887.59 404.78h2.92v131.88h-2.92Z M897.11 497.75h2.92v38.92h-2.92Z M906.63 398.30h2.92v138.37h-2.92Z M916.15 436.49h2.92v100.17h-2.92Z M925.67 396.86h2.92v139.81h-2.92Z M935.19 396.86h2.92v139.81h-2.92Z M944.71 391.81h2.92v144.85h-2.92Z M954.23 401.90h2.92v134.76h-2.92Z" fill="#8a8a94"/>
<path d="M563.90 390.07h1.30v146.60h-1.30Z M563.90 390.07h2.92v0.8h-2.92Z M566.42 390.37h0.40v146.30h-0.40Z M573.42 483.04h1.30v53.63h-1.30Z M573.42 483.04h2.92v0.8h-2.92Z M575.94 483.34h0.40v53.33h-0.40Z M582.94 397.28h1.30v139.39h-1.30Z M582.94 397.28h2.92v0.8h-2.92Z M585.46 397.58h0.40v139.09h-0.40Z M592.46 515.47h1.30v21.20h-1.30Z M592.46 515.47h2.92v0.8h-2.92Z M594.98 515.77h0.40v20.90h-0.40Z M601.98 408.81h1.30v127.86h-1.30Z M601.98 408.81h2.92v0.8h-2.92Z M604.50 409.11h0.40v127.56h-0.40Z M611.50 397.28h1.30v139.39h-1.30Z M611.50 397.28h2.92v0.8h-2.92Z M614.02 397.58h0.40v139.09h-0.40Z M621.02 395.12h1.30v141.55h-1.30Z M621.02 395.12h2.92v0.8h-2.92Z M623.54 395.42h0.40v141.25h-0.40Z M630.54 398.72h1.30v137.95h-1.30Z M630.54 398.72h2.92v0.8h-2.92Z M633.06 399.02h0.40v137.65h-0.40Z M640.06 386.47h1.30v150.20h-1.30Z M640.06 386.47h2.92v0.8h-2.92Z M642.58 386.77h0.40v149.90h-0.40Z M649.58 389.35h1.30v147.32h-1.30Z M649.58 389.35h2.92v0.8h-2.92Z M652.10 389.65h0.40v147.02h-0.40Z M659.10 408.09h1.30v128.58h-1.30Z M659.10 408.09h2.92v0.8h-2.92Z M661.62 408.39h0.40v128.28h-0.40Z M668.62 435.47h1.30v101.19h-1.30Z M668.62 435.47h2.92v0.8h-2.92Z M671.15 435.77h0.40v100.89h-0.40Z M678.14 390.79h1.30v145.87h-1.30Z M678.14 390.79h2.92v0.8h-2.92Z M680.67 391.09h0.40v145.57h-0.40Z M687.66 390.07h1.30v146.60h-1.30Z M687.66 390.07h2.92v0.8h-2.92Z M690.19 390.37h0.40v146.30h-0.40Z M697.18 403.76h1.30v132.90h-1.30Z M697.18 403.76h2.92v0.8h-2.92Z M699.71 404.06h0.40v132.60h-0.40Z M706.70 390.79h1.30v145.87h-1.30Z M706.70 390.79h2.92v0.8h-2.92Z M709.23 391.09h0.40v145.57h-0.40Z M716.22 500.33h1.30v36.33h-1.30Z M716.22 500.33h2.92v0.8h-2.92Z M718.75 500.63h0.40v36.03h-0.40Z M725.74 387.91h1.30v148.76h-1.30Z M725.74 387.91h2.92v0.8h-2.92Z M728.27 388.21h0.40v148.46h-0.40Z M735.26 400.88h1.30v135.79h-1.30Z M735.26 400.88h2.92v0.8h-2.92Z M737.79 401.18h0.40v135.49h-0.40Z M744.78 488.08h1.30v48.58h-1.30Z M744.78 488.08h2.92v0.8h-2.92Z M747.31 488.38h0.40v48.28h-0.40Z M754.30 402.32h1.30v134.34h-1.30Z M754.30 402.32h2.92v0.8h-2.92Z M756.83 402.62h0.40v134.04h-0.40Z M763.82 425.38h1.30v111.28h-1.30Z M763.82 425.38h2.92v0.8h-2.92Z M766.35 425.68h0.40v110.98h-0.40Z M773.35 463.58h1.30v73.09h-1.30Z M773.35 463.58h2.92v0.8h-2.92Z M775.87 463.88h0.40v72.79h-0.40Z M782.87 395.84h1.30v140.83h-1.30Z M782.87 395.84h2.92v0.8h-2.92Z M785.39 396.14h0.40v140.53h-0.40Z M792.39 390.79h1.30v145.87h-1.30Z M792.39 390.79h2.92v0.8h-2.92Z M794.91 391.09h0.40v145.57h-0.40Z M801.91 403.04h1.30v133.62h-1.30Z M801.91 403.04h2.92v0.8h-2.92Z M804.43 403.34h0.40v133.32h-0.40Z M811.43 400.88h1.30v135.79h-1.30Z M811.43 400.88h2.92v0.8h-2.92Z M813.95 401.18h0.40v135.49h-0.40Z M820.95 395.12h1.30v141.55h-1.30Z M820.95 395.12h2.92v0.8h-2.92Z M823.47 395.42h0.40v141.25h-0.40Z M830.47 390.79h1.30v145.87h-1.30Z M830.47 390.79h2.92v0.8h-2.92Z M832.99 391.09h0.40v145.57h-0.40Z M839.99 407.37h1.30v129.30h-1.30Z M839.99 407.37h2.92v0.8h-2.92Z M842.51 407.67h0.40v129.00h-0.40Z M849.51 410.25h1.30v126.42h-1.30Z M849.51 410.25h2.92v0.8h-2.92Z M852.03 410.55h0.40v126.12h-0.40Z M859.03 396.56h1.30v140.11h-1.30Z M859.03 396.56h2.92v0.8h-2.92Z M861.55 396.86h0.40v139.81h-0.40Z M868.55 392.95h1.30v143.71h-1.30Z M868.55 392.95h2.92v0.8h-2.92Z M871.07 393.25h0.40v143.41h-0.40Z M878.07 392.95h1.30v143.71h-1.30Z M878.07 392.95h2.92v0.8h-2.92Z M880.59 393.25h0.40v143.41h-0.40Z M887.59 404.48h1.30v132.18h-1.30Z M887.59 404.48h2.92v0.8h-2.92Z M890.11 404.78h0.40v131.88h-0.40Z M897.11 497.45h1.30v39.22h-1.30Z M897.11 497.45h2.92v0.8h-2.92Z M899.63 497.75h0.40v38.92h-0.40Z M906.63 398.00h1.30v138.67h-1.30Z M906.63 398.00h2.92v0.8h-2.92Z M909.15 398.30h0.40v138.37h-0.40Z M916.15 436.19h1.30v100.47h-1.30Z M916.15 436.19h2.92v0.8h-2.92Z M918.67 436.49h0.40v100.17h-0.40Z M925.67 396.56h1.30v140.11h-1.30Z M925.67 396.56h2.92v0.8h-2.92Z M928.19 396.86h0.40v139.81h-0.40Z M935.19 396.56h1.30v140.11h-1.30Z M935.19 396.56h2.92v0.8h-2.92Z M937.71 396.86h0.40v139.81h-0.40Z M944.71 391.51h1.30v145.15h-1.30Z M944.71 391.51h2.92v0.8h-2.92Z M947.23 391.81h0.40v144.85h-0.40Z M954.23 401.60h1.30v135.06h-1.30Z M954.23 401.60h2.92v0.8h-2.92Z M956.75 401.90h0.40v134.76h-0.40Z" fill="#000000"/>
<path d="M567.07 396.14h2.92v140.53h-2.92Z M579.77 379.56h2.92v157.11h-2.92Z M586.11 385.33h2.92v151.34h-2.92Z M598.81 389.65h2.92v147.02h-2.92Z M605.15 509.28h2.92v27.39h-2.92Z M617.85 422.08h2.92v114.59h-2.92Z M624.19 428.57h2.92v108.10h-2.92Z M636.89 401.18h2.92v135.49h-2.92Z M643.23 510.00h2.92v26.66h-2.92Z M655.93 393.97h2.92v142.69h-2.92Z M662.27 393.25h2.92v143.41h-2.92Z M674.97 401.18h2.92v135.49h-2.92Z M681.32 388.21h2.92v148.46h-2.92Z M694.01 397.58h2.92v139.09h-2.92Z M700.36 387.49h2.92v149.18h-2.92Z M713.05 393.25h2.92v143.41h-2.92Z M719.40 399.74h2.92v136.93h-2.92Z M732.09 397.58h2.92v139.09h-2.92Z M738.44 396.14h2.92v140.53h-2.92Z M751.13 396.14h2.92v140.53h-2.92Z M757.48 398.30h2.92v138.37h-2.92Z M770.17 536.67h2.92v24.50h-2.92Z M776.52 388.93h2.92v147.74h-2.92Z M789.21 401.18h2.92v135.49h-2.92Z M795.56 393.25h2.92v143.41h-2.92Z M808.25 396.14h2.92v140.53h-2.92Z M814.60 396.86h2.92v139.81h-2.92Z M827.29 453.79h2.92v82.88h-2.92Z M833.64 399.02h2.92v137.65h-2.92Z M846.33 396.86h2.92v139.81h-2.92Z M852.68 391.09h2.92v145.57h-2.92Z M865.38 409.11h2.92v127.56h-2.92Z M871.72 405.51h2.92v131.16h-2.92Z M884.42 536.67h2.92v3.60h-2.92Z M890.76 388.21h2.92v148.46h-2.92Z M903.46 399.02h2.92v137.65h-2.92Z M909.80 403.34h2.92v133.32h-2.92Z M922.50 393.25h2.92v143.41h-2.92Z M928.84 399.02h2.92v137.65h-2.92Z M941.54 396.86h2.92v139.81h-2.92Z M947.88 396.14h2.92v140.53h-2.92Z M960.58 396.14h2.92v140.53h-2.92Z" fill="#8c8cc6"/>
<path d="M567.07 395.84h0.90v140.83h-0.90Z M567.07 395.84h2.92v0.8h-2.92Z M569.60 396.14h0.40v140.53h-0.40Z M579.77 379.26h0.90v157.41h-0.90Z M579.77 379.26h2.92v0.8h-2.92Z M582.29 379.56h0.40v157.11h-0.40Z M586.11 385.03h0.90v151.64h-0.90Z M586.11 385.03h2.92v0.8h-2.92Z M588.64 385.33h0.40v151.34h-0.40Z M598.81 389.35h0.90v147.32h-0.90Z M598.81 389.35h2.92v0.8h-2.92Z M601.33 389.65h0.40v147.02h-0.40Z M605.15 508.98h0.90v27.69h-0.90Z M605.15 508.98h2.92v0.8h-2.92Z M607.68 509.28h0.40v27.39h-0.40Z M617.85 421.78h0.90v114.89h-0.90Z M617.85 421.78h2.92v0.8h-2.92Z M620.37 422.08h0.40v114.59h-0.40Z M624.19 428.27h0.90v108.40h-0.90Z M624.19 428.27h2.92v0.8h-2.92Z M626.72 428.57h0.40v108.10h-0.40Z M636.89 400.88h0.90v135.79h-0.90Z M636.89 400.88h2.92v0.8h-2.92Z M639.41 401.18h0.40v135.49h-0.40Z M643.23 509.70h0.90v26.96h-0.90Z M643.23 509.70h2.92v0.8h-2.92Z M645.76 510.00h0.40v26.66h-0.40Z M655.93 393.67h0.90v142.99h-0.90Z M655.93 393.67h2.92v0.8h-2.92Z M658.45 393.97h0.40v142.69h-0.40Z M662.27 392.95h0.90v143.71h-0.90Z M662.27 392.95h2.92v0.8h-2.92Z M664.80 393.25h0.40v143.41h-0.40Z M674.97 400.88h0.90v135.79h-0.90Z M674.97 400.88h2.92v0.8h-2.92Z M677.49 401.18h0.40v135.49h-0.40Z M681.32 387.91h0.90v148.76h-0.90Z M681.32 387.91h2.92v0.8h-2.92Z M683.84 388.21h0.40v148.46h-0.40Z M694.01 397.28h0.90v139.39h-0.90Z M694.01 397.28h2.92v0.8h-2.92Z M696.53 397.58h0.40v139.09h-0.40Z M700.36 387.19h0.90v149.48h-0.90Z M700.36 387.19h2.92v0.8h-2.92Z M702.88 387.49h0.40v149.18h-0.40Z M713.05 392.95h0.90v143.71h-0.90Z M713.05 392.95h2.92v0.8h-2.92Z M715.57 393.25h0.40v143.41h-0.40Z M719.40 399.44h0.90v137.23h-0.90Z M719.40 399.44h2.92v0.8h-2.92Z M721.92 399.74h0.40v136.93h-0.40Z M732.09 397.28h0.90v139.39h-0.90Z M732.09 397.28h2.92v0.8h-2.92Z M734.61 397.58h0.40v139.09h-0.40Z M738.44 395.84h0.90v140.83h-0.90Z M738.44 395.84h2.92v0.8h-2.92Z M740.96 396.14h0.40v140.53h-0.40Z M751.13 395.84h0.90v140.83h-0.90Z M751.13 395.84h2.92v0.8h-2.92Z M753.65 396.14h0.40v140.53h-0.40Z M757.48 398.00h0.90v138.67h-0.90Z M757.48 398.00h2.92v0.8h-2.92Z M760.00 398.30h0.40v138.37h-0.40Z M770.17 536.37h0.90v24.80h-0.90Z M770.17 536.37h2.92v0.8h-2.92Z M772.70 536.67h0.40v24.50h-0.40Z M776.52 388.63h0.90v148.04h-0.90Z M776.52 388.63h2.92v0.8h-2.92Z M779.04 388.93h0.40v147.74h-0.40Z M789.21 400.88h0.90v135.79h-0.90Z M789.21 400.88h2.92v0.8h-2.92Z M791.74 401.18h0.40v135.49h-0.40Z M795.56 392.95h0.90v143.71h-0.90Z M795.56 392.95h2.92v0.8h-2.92Z M798.08 393.25h0.40v143.41h-0.40Z M808.25 395.84h0.90v140.83h-0.90Z M808.25 395.84h2.92v0.8h-2.92Z M810.78 396.14h0.40v140.53h-0.40Z M814.60 396.56h0.90v140.11h-0.90Z M814.60 396.56h2.92v0.8h-2.92Z M817.12 396.86h0.40v139.81h-0.40Z M827.29 453.49h0.90v83.18h-0.90Z M827.29 453.49h2.92v0.8h-2.92Z M829.82 453.79h0.40v82.88h-0.40Z M833.64 398.72h0.90v137.95h-0.90Z M833.64 398.72h2.92v0.8h-2.92Z M836.16 399.02h0.40v137.65h-0.40Z M846.33 396.56h0.90v140.11h-0.90Z M846.33 396.56h2.92v0.8h-2.92Z M848.86 396.86h0.40v139.81h-0.40Z M852.68 390.79h0.90v145.87h-0.90Z M852.68 390.79h2.92v0.8h-2.92Z M855.20 391.09h0.40v145.57h-0.40Z M865.38 408.81h0.90v127.86h-0.90Z M865.38 408.81h2.92v0.8h-2.92Z M867.90 409.11h0.40v127.56h-0.40Z M871.72 405.21h0.90v131.46h-0.90Z M871.72 405.21h2.92v0.8h-2.92Z M874.25 405.51h0.40v131.16h-0.40Z M884.42 536.37h0.90v3.90h-0.90Z M884.42 536.37h2.92v0.8h-2.92Z M886.94 536.67h0.40v3.60h-0.40Z M890.76 387.91h0.90v148.76h-0.90Z M890.76 387.91h2.92v0.8h-2.92Z M893.29 388.21h0.40v148.46h-0.40Z M903.46 398.72h0.90v137.95h-0.90Z M903.46 398.72h2.92v0.8h-2.92Z M905.98 399.02h0.40v137.65h-0.40Z M909.80 403.04h0.90v133.62h-0.90Z M909.80 403.04h2.92v0.8h-2.92Z M912.33 403.34h0.40v133.32h-0.40Z M922.50 392.95h0.90v143.71h-0.90Z M922.50 392.95h2.92v0.8h-2.92Z M925.02 393.25h0.40v143.41h-0.40Z M928.84 398.72h0.90v137.95h-0.90Z M928.84 398.72h2.92v0.8h-2.92Z M931.37 399.02h0.40v137.65h-0.40Z M941.54 396.56h0.90v140.11h-0.90Z M941.54 396.56h2.92v0.8h-2.92Z M944.06 396.86h0.40v139.81h-0.40Z M947.88 395.84h0.90v140.83h-0.90Z M947.88 395.84h2.92v0.8h-2.92Z M950.41 396.14h0.40v140.53h-0.40Z M960.58 395.84h0.90v140.83h-0.90Z M960.58 395.84h2.92v0.8h-2.92Z M963.10 396.14h0.40v140.53h-0.40Z" fill="#18185a"/>
<path d="M570.25 393.25h2.92v143.41h-2.92Z M576.59 409.11h2.92v127.56h-2.92Z M589.29 388.21h2.92v148.46h-2.92Z M595.63 397.58h2.92v139.09h-2.92Z M608.33 385.33h2.92v151.34h-2.92Z M614.67 409.83h2.92v126.84h-2.92Z M627.37 388.21h2.92v148.46h-2.92Z M633.71 397.58h2.92v139.09h-2.92Z M646.41 399.02h2.92v137.65h-2.92Z M652.75 404.78h2.92v131.88h-2.92Z M665.45 409.83h2.92v126.84h-2.92Z M671.80 391.09h2.92v145.57h-2.92Z M684.49 401.18h2.92v135.49h-2.92Z M690.84 388.21h2.92v148.46h-2.92Z M703.53 395.42h2.92v141.25h-2.92Z M709.88 406.95h2.92v129.72h-2.92Z M722.57 406.95h2.92v129.72h-2.92Z M728.92 406.23h2.92v130.44h-2.92Z M741.61 392.53h2.92v144.13h-2.92Z M747.96 391.09h2.92v145.57h-2.92Z M760.65 410.55h2.92v126.12h-2.92Z M767.00 393.97h2.92v142.69h-2.92Z M779.69 403.34h2.92v133.32h-2.92Z M786.04 536.67h2.92v23.06h-2.92Z M798.73 401.90h2.92v134.76h-2.92Z M805.08 388.21h2.92v148.46h-2.92Z M817.77 518.65h2.92v18.02h-2.92Z M824.12 404.06h2.92v132.60h-2.92Z M836.81 398.30h2.92v138.37h-2.92Z M843.16 394.70h2.92v141.97h-2.92Z M855.85 405.51h2.92v131.16h-2.92Z M862.20 401.90h2.92v134.76h-2.92Z M874.90 396.86h2.92v139.81h-2.92Z M881.24 536.67h2.92v0.40h-2.92Z M893.94 481.90h2.92v54.77h-2.92Z M900.28 398.30h2.92v138.37h-2.92Z M912.98 401.90h2.92v134.76h-2.92Z M919.32 396.86h2.92v139.81h-2.92Z M932.02 391.81h2.92v144.85h-2.92Z M938.36 393.97h2.92v142.69h-2.92Z M951.06 400.46h2.92v136.21h-2.92Z M957.40 398.30h2.92v138.37h-2.92Z" fill="#76768e"/>
<path d="M570.25 392.95h1.00v143.71h-1.00Z M570.25 392.95h2.92v0.8h-2.92Z M572.77 393.25h0.40v143.41h-0.40Z M576.59 408.81h1.00v127.86h-1.00Z M576.59 408.81h2.92v0.8h-2.92Z M579.12 409.11h0.40v127.56h-0.40Z M589.29 387.91h1.00v148.76h-1.00Z M589.29 387.91h2.92v0.8h-2.92Z M591.81 388.21h0.40v148.46h-0.40Z M595.63 397.28h1.00v139.39h-1.00Z M595.63 397.28h2.92v0.8h-2.92Z M598.16 397.58h0.40v139.09h-0.40Z M608.33 385.03h1.00v151.64h-1.00Z M608.33 385.03h2.92v0.8h-2.92Z M610.85 385.33h0.40v151.34h-0.40Z M614.67 409.53h1.00v127.14h-1.00Z M614.67 409.53h2.92v0.8h-2.92Z M617.20 409.83h0.40v126.84h-0.40Z M627.37 387.91h1.00v148.76h-1.00Z M627.37 387.91h2.92v0.8h-2.92Z M629.89 388.21h0.40v148.46h-0.40Z M633.71 397.28h1.00v139.39h-1.00Z M633.71 397.28h2.92v0.8h-2.92Z M636.24 397.58h0.40v139.09h-0.40Z M646.41 398.72h1.00v137.95h-1.00Z M646.41 398.72h2.92v0.8h-2.92Z M648.93 399.02h0.40v137.65h-0.40Z M652.75 404.48h1.00v132.18h-1.00Z M652.75 404.48h2.92v0.8h-2.92Z M655.28 404.78h0.40v131.88h-0.40Z M665.45 409.53h1.00v127.14h-1.00Z M665.45 409.53h2.92v0.8h-2.92Z M667.97 409.83h0.40v126.84h-0.40Z M671.80 390.79h1.00v145.87h-1.00Z M671.80 390.79h2.92v0.8h-2.92Z M674.32 391.09h0.40v145.57h-0.40Z M684.49 400.88h1.00v135.79h-1.00Z M684.49 400.88h2.92v0.8h-2.92Z M687.01 401.18h0.40v135.49h-0.40Z M690.84 387.91h1.00v148.76h-1.00Z M690.84 387.91h2.92v0.8h-2.92Z M693.36 388.21h0.40v148.46h-0.40Z M703.53 395.12h1.00v141.55h-1.00Z M703.53 395.12h2.92v0.8h-2.92Z M706.05 395.42h0.40v141.25h-0.40Z M709.88 406.65h1.00v130.02h-1.00Z M709.88 406.65h2.92v0.8h-2.92Z M712.40 406.95h0.40v129.72h-0.40Z M722.57 406.65h1.00v130.02h-1.00Z M722.57 406.65h2.92v0.8h-2.92Z M725.09 406.95h0.40v129.72h-0.40Z M728.92 405.93h1.00v130.74h-1.00Z M728.92 405.93h2.92v0.8h-2.92Z M731.44 406.23h0.40v130.44h-0.40Z M741.61 392.23h1.00v144.43h-1.00Z M741.61 392.23h2.92v0.8h-2.92Z M744.13 392.53h0.40v144.13h-0.40Z M747.96 390.79h1.00v145.87h-1.00Z M747.96 390.79h2.92v0.8h-2.92Z M750.48 391.09h0.40v145.57h-0.40Z M760.65 410.25h1.00v126.42h-1.00Z M760.65 410.25h2.92v0.8h-2.92Z M763.17 410.55h0.40v126.12h-0.40Z M767.00 393.67h1.00v142.99h-1.00Z M767.00 393.67h2.92v0.8h-2.92Z M769.52 393.97h0.40v142.69h-0.40Z M779.69 403.04h1.00v133.62h-1.00Z M779.69 403.04h2.92v0.8h-2.92Z M782.22 403.34h0.40v133.32h-0.40Z M786.04 536.37h1.00v23.36h-1.00Z M786.04 536.37h2.92v0.8h-2.92Z M788.56 536.67h0.40v23.06h-0.40Z M798.73 401.60h1.00v135.06h-1.00Z M798.73 401.60h2.92v0.8h-2.92Z M801.26 401.90h0.40v134.76h-0.40Z M805.08 387.91h1.00v148.76h-1.00Z M805.08 387.91h2.92v0.8h-2.92Z M807.60 388.21h0.40v148.46h-0.40Z M817.77 518.35h1.00v18.32h-1.00Z M817.77 518.35h2.92v0.8h-2.92Z M820.30 518.65h0.40v18.02h-0.40Z M824.12 403.76h1.00v132.90h-1.00Z M824.12 403.76h2.92v0.8h-2.92Z M826.64 404.06h0.40v132.60h-0.40Z M836.81 398.00h1.00v138.67h-1.00Z M836.81 398.00h2.92v0.8h-2.92Z M839.34 398.30h0.40v138.37h-0.40Z M843.16 394.40h1.00v142.27h-1.00Z M843.16 394.40h2.92v0.8h-2.92Z M845.68 394.70h0.40v141.97h-0.40Z M855.85 405.21h1.00v131.46h-1.00Z M855.85 405.21h2.92v0.8h-2.92Z M858.38 405.51h0.40v131.16h-0.40Z M862.20 401.60h1.00v135.06h-1.00Z M862.20 401.60h2.92v0.8h-2.92Z M864.72 401.90h0.40v134.76h-0.40Z M874.90 396.56h1.00v140.11h-1.00Z M874.90 396.56h2.92v0.8h-2.92Z M877.42 396.86h0.40v139.81h-0.40Z M881.24 536.37h1.00v0.70h-1.00Z M881.24 536.37h2.92v0.8h-2.92Z M883.77 536.67h0.40v0.40h-0.40Z M893.94 481.60h1.00v55.07h-1.00Z M893.94 481.60h2.92v0.8h-2.92Z M896.46 481.90h0.40v54.77h-0.40Z M900.28 398.00h1.00v138.67h-1.00Z M900.28 398.00h2.92v0.8h-2.92Z M902.81 398.30h0.40v138.37h-0.40Z M912.98 401.60h1.00v135.06h-1.00Z M912.98 401.60h2.92v0.8h-2.92Z M915.50 401.90h0.40v134.76h-0.40Z M919.32 396.56h1.00v140.11h-1.00Z M919.32 396.56h2.92v0.8h-2.92Z M921.85 396.86h0.40v139.81h-0.40Z M932.02 391.51h1.00v145.15h-1.00Z M932.02 391.51h2.92v0.8h-2.92Z M934.54 391.81h0.40v144.85h-0.40Z M938.36 393.67h1.00v142.99h-1.00Z M938.36 393.67h2.92v0.8h-2.92Z M940.89 393.97h0.40v142.69h-0.40Z M951.06 400.16h1.00v136.51h-1.00Z M951.06 400.16h2.92v0.8h-2.92Z M953.58 400.46h0.40v136.21h-0.40Z M957.40 398.00h1.00v138.67h-1.00Z M957.40 398.00h2.92v0.8h-2.92Z M959.93 398.30h0.40v138.37h-0.40Z" fill="#1e1e3a"/>
<path d="M560.6 573.5H966.8 M560.6 537.5H966.8 M560.6 501.5H966.8 M560.6 465.5H966.8 M560.6 429.5H966.8 M560.6 393.5H966.8 M560.6 356.5H966.8" stroke="#000" stroke-opacity="0.55" stroke-width="1"/>
<line x1="560.6" y1="356.5" x2="560.6" y2="572.7" stroke="#222" stroke-width="1.2"/>
<line x1="560.6" y1="537.5" x2="966.8" y2="537.5" stroke="#111" stroke-width="1.2"/>
<g clip-path="url(#clip140146022136896)"><text x="561.7" y="557.9" font-size="11" text-anchor="middle" fill="#111">1</text><text x="587.1" y="557.9" font-size="11" text-anchor="middle" fill="#111">9</text><text x="612.5" y="557.9" font-size="11" text-anchor="middle" fill="#111">17</text><text x="637.9" y="557.9" font-size="11" text-anchor="middle" fill="#111">25</text><text x="663.3" y="557.9" font-size="11" text-anchor="middle" fill="#111">33</text><text x="688.6" y="557.9" font-size="11" text-anchor="middle" fill="#111">41</text><text x="714.0" y="557.9" font-size="11" text-anchor="middle" fill="#111">49</text><text x="739.4" y="557.9" font-size="11" text-anchor="middle" fill="#111">57</text><text x="764.8" y="557.9" font-size="11" text-anchor="middle" fill="#111">65</text><text x="790.2" y="557.9" font-size="11" text-anchor="middle" fill="#111">73</text><text x="815.6" y="557.9" font-size="11" text-anchor="middle" fill="#111">81</text><text x="841.0" y="557.9" font-size="11" text-anchor="middle" fill="#111">89</text><text x="866.4" y="557.9" font-size="11" text-anchor="middle" fill="#111">97</text><text x="891.7" y="557.9" font-size="11" text-anchor="middle" fill="#111">105</text><text x="917.1" y="557.9" font-size="11" text-anchor="middle" fill="#111">113</text><text x="942.5" y="557.9" font-size="11" text-anchor="middle" fill="#111">121</text></g>
<clipPath id="clip140146022125504"><rect x="80.8" y="684" width="369.2" height="288.20000000000005"/></clipPath>
<line x1="39.7" y1="620.5" x2="39.7" y2="958.75" stroke="#222" stroke-width="1.3"/>
<line x1="39.7" y1="620.5" x2="534.7" y2="620.5" stroke="#111" stroke-width="1.3"/>
<text x="175.5" y="646.3" font-size="14.5" font-weight="bold" fill="#111" textLength="216.3" lengthAdjust="spacingAndGlyphs">chip 1 gain vs channel (mV/fC)</text>
<rect x="80.3" y="684" width="369.2" height="248.20000000000005" fill="#c0c0c0" stroke="#707070" stroke-width="1"/>
<line x1="76.3" y1="932.5" x2="449.5" y2="932.5" stroke="#1a1a1a" stroke-width="1"/>
<text x="69.5" y="936.9" font-size="13" text-anchor="end" fill="#111">-10</text>
<line x1="76.3" y1="897.5" x2="449.5" y2="897.5" stroke="#1a1a1a" stroke-width="1"/>
<text x="69.5" y="901.4" font-size="13" text-anchor="end" fill="#111">-5</text>
<line x1="76.3" y1="861.5" x2="449.5" y2="861.5" stroke="#1a1a1a" stroke-width="1"/>
<text x="69.5" y="866.0" font-size="13" text-anchor="end" fill="#111">0</text>
<line x1="76.3" y1="826.5" x2="449.5" y2="826.5" stroke="#1a1a1a" stroke-width="1"/>
<text x="69.5" y="830.5" font-size="13" text-anchor="end" fill="#111">5</text>
<line x1="76.3" y1="790.5" x2="449.5" y2="790.5" stroke="#1a1a1a" stroke-width="1"/>
<text x="69.5" y="795.1" font-size="13" text-anchor="end" fill="#111">10</text>
<line x1="76.3" y1="755.5" x2="449.5" y2="755.5" stroke="#1a1a1a" stroke-width="1"/>
<text x="69.5" y="759.6" font-size="13" text-anchor="end" fill="#111">15</text>
<line x1="76.3" y1="719.5" x2="449.5" y2="719.5" stroke="#1a1a1a" stroke-width="1"/>
<text x="69.5" y="724.1" font-size="13" text-anchor="end" fill="#111">20</text>
<line x1="76.3" y1="684.5" x2="449.5" y2="684.5" stroke="#1a1a1a" stroke-width="1"/>
<text x="69.5" y="688.7" font-size="13" text-anchor="end" fill="#111">25</text>
<path d="M80.30 861.3v3.8 M83.18 861.3v3.8 M86.07 861.3v3.8 M88.95 861.3v3.8 M91.84 861.3v3.8 M94.72 861.3v3.8 M97.61 861.3v3.8 M100.49 861.3v3.8 M103.38 861.3v3.8 M106.26 861.3v3.8 M109.14 861.3v3.8 M112.03 861.3v3.8 M114.91 861.3v3.8 M117.80 861.3v3.8 M120.68 861.3v3.8 M123.57 861.3v3.8 M126.45 861.3v3.8 M129.33 861.3v3.8 M132.22 861.3v3.8 M135.10 861.3v3.8 M137.99 861.3v3.8 M140.87 861.3v3.8 M143.76 861.3v3.8 M146.64 861.3v3.8 M149.52 861.3v3.8 M152.41 861.3v3.8 M155.29 861.3v3.8 M158.18 861.3v3.8 M161.06 861.3v3.8 M163.95 861.3v3.8 M166.83 861.3v3.8 M169.72 861.3v3.8 M172.60 861.3v3.8 M175.48 861.3v3.8 M178.37 861.3v3.8 M181.25 861.3v3.8 M184.14 861.3v3.8 M187.02 861.3v3.8 M189.91 861.3v3.8 M192.79 861.3v3.8 M195.68 861.3v3.8 M198.56 861.3v3.8 M201.44 861.3v3.8 M204.33 861.3v3.8 M207.21 861.3v3.8 M210.10 861.3v3.8 M212.98 861.3v3.8 M215.87 861.3v3.8 M218.75 861.3v3.8 M221.63 861.3v3.8 M224.52 861.3v3.8 M227.40 861.3v3.8 M230.29 861.3v3.8 M233.17 861.3v3.8 M236.06 861.3v3.8 M238.94 861.3v3.8 M241.82 861.3v3.8 M244.71 861.3v3.8 M247.59 861.3v3.8 M250.48 861.3v3.8 M253.36 861.3v3.8 M256.25 861.3v3.8 M259.13 861.3v3.8 M262.02 861.3v3.8 M264.90 861.3v3.8 M267.78 861.3v3.8 M270.67 861.3v3.8 M273.55 861.3v3.8 M276.44 861.3v3.8 M279.32 861.3v3.8 M282.21 861.3v3.8 M285.09 861.3v3.8 M287.97 861.3v3.8 M290.86 861.3v3.8 M293.74 861.3v3.8 M296.63 861.3v3.8 M299.51 861.3v3.8 M302.40 861.3v3.8 M305.28 861.3v3.8 M308.17 861.3v3.8 M311.05 861.3v3.8 M313.93 861.3v3.8 M316.82 861.3v3.8 M319.70 861.3v3.8 M322.59 861.3v3.8 M325.47 861.3v3.8 M328.36 861.3v3.8 M331.24 861.3v3.8 M334.12 861.3v3.8 M337.01 861.3v3.8 M339.89 861.3v3.8 M342.78 861.3v3.8 M345.66 861.3v3.8 M348.55 861.3v3.8 M351.43 861.3v3.8 M354.32 861.3v3.8 M357.20 861.3v3.8 M360.08 861.3v3.8 M362.97 861.3v3.8 M365.85 861.3v3.8 M368.74 861.3v3.8 M371.62 861.3v3.8 M374.51 861.3v3.8 M377.39 861.3v3.8 M380.27 861.3v3.8 M383.16 861.3v3.8 M386.04 861.3v3.8 M388.93 861.3v3.8 M391.81 861.3v3.8 M394.70 861.3v3.8 M397.58 861.3v3.8 M400.47 861.3v3.8 M403.35 861.3v3.8 M406.23 861.3v3.8 M409.12 861.3v3.8 M412.00 861.3v3.8 M414.89 861.3v3.8 M417.77 861.3v3.8 M420.66 861.3v3.8 M423.54 861.3v3.8 M426.43 861.3v3.8 M429.31 861.3v3.8 M432.19 861.3v3.8 M435.08 861.3v3.8 M437.96 861.3v3.8 M440.85 861.3v3.8 M443.73 861.3v3.8 M446.62 861.3v3.8 M449.50 861.3v3.8" stroke="#1a1a1a" stroke-width="0.9"/>
<path d="M83.31 804.55h2.63v56.73h-2.63Z M89.08 734.35h2.63v126.94h-2.63Z M91.96 735.77h2.63v125.52h-2.63Z M97.73 721.58h2.63v139.70h-2.63Z M100.62 744.28h2.63v117.01h-2.63Z M106.38 741.44h2.63v119.85h-2.63Z M115.04 732.93h2.63v128.35h-2.63Z M117.92 747.11h2.63v114.17h-2.63Z M123.69 855.61h2.63v5.67h-2.63Z M126.58 861.29h2.63v30.49h-2.63Z M132.34 762.01h2.63v99.28h-2.63Z M135.23 749.95h2.63v111.34h-2.63Z M141.00 740.02h2.63v121.26h-2.63Z M143.88 723.71h2.63v137.57h-2.63Z M149.65 737.19h2.63v124.10h-2.63Z M152.53 742.15h2.63v119.14h-2.63Z M158.30 732.93h2.63v128.35h-2.63Z M161.19 731.51h2.63v129.77h-2.63Z M166.96 730.80h2.63v130.48h-2.63Z M175.61 746.40h2.63v114.88h-2.63Z M178.49 731.51h2.63v129.77h-2.63Z M184.26 737.19h2.63v124.10h-2.63Z M187.15 726.55h2.63v134.74h-2.63Z M192.92 734.35h2.63v126.94h-2.63Z M195.80 732.93h2.63v128.35h-2.63Z M201.57 730.80h2.63v130.48h-2.63Z M204.45 835.05h2.63v26.24h-2.63Z M210.22 745.70h2.63v115.59h-2.63Z M213.11 717.33h2.63v143.96h-2.63Z M218.88 741.44h2.63v119.85h-2.63Z M221.76 737.19h2.63v124.10h-2.63Z M227.53 742.15h2.63v119.14h-2.63Z M230.41 747.11h2.63v114.17h-2.63Z M236.18 730.80h2.63v130.48h-2.63Z M239.07 739.31h2.63v121.97h-2.63Z M244.83 737.19h2.63v124.10h-2.63Z M247.72 731.51h2.63v129.77h-2.63Z M253.49 732.22h2.63v129.06h-2.63Z M256.37 847.81h2.63v13.47h-2.63Z M262.14 737.89h2.63v123.39h-2.63Z M265.02 731.51h2.63v129.77h-2.63Z M270.79 818.74h2.63v42.55h-2.63Z M273.68 743.57h2.63v117.72h-2.63Z M279.45 752.08h2.63v109.21h-2.63Z M282.33 727.26h2.63v134.03h-2.63Z M288.10 735.77h2.63v125.52h-2.63Z M290.98 840.01h2.63v21.27h-2.63Z M296.75 745.70h2.63v115.59h-2.63Z M299.64 729.39h2.63v131.90h-2.63Z M305.41 833.63h2.63v27.66h-2.63Z M308.29 823.70h2.63v37.58h-2.63Z M314.06 740.02h2.63v121.26h-2.63Z M316.94 800.30h2.63v60.99h-2.63Z M322.71 730.80h2.63v130.48h-2.63Z M325.60 861.29h2.63v19.86h-2.63Z M331.37 783.28h2.63v78.01h-2.63Z M334.25 732.93h2.63v128.35h-2.63Z M340.02 732.22h2.63v129.06h-2.63Z M342.90 747.82h2.63v113.46h-2.63Z M348.67 739.31h2.63v121.97h-2.63Z M351.56 737.19h2.63v124.10h-2.63Z M360.21 734.35h2.63v126.94h-2.63Z M365.98 740.02h2.63v121.26h-2.63Z M368.86 729.39h2.63v131.90h-2.63Z M374.63 842.85h2.63v18.44h-2.63Z M377.52 732.93h2.63v128.35h-2.63Z M383.28 739.31h2.63v121.97h-2.63Z M386.17 728.68h2.63v132.61h-2.63Z M391.94 737.19h2.63v124.10h-2.63Z M394.82 743.57h2.63v117.72h-2.63Z M400.59 732.93h2.63v128.35h-2.63Z M403.48 761.30h2.63v99.99h-2.63Z M409.24 730.80h2.63v130.48h-2.63Z M412.13 828.67h2.63v32.62h-2.63Z M420.78 732.22h2.63v129.06h-2.63Z M426.55 827.25h2.63v34.04h-2.63Z M429.43 741.44h2.63v119.85h-2.63Z M435.20 737.19h2.63v124.10h-2.63Z M438.09 728.68h2.63v132.61h-2.63Z M443.86 720.88h2.63v140.41h-2.63Z" fill="#a4a4a8"/>
<path d="M83.31 804.25h1.50v57.03h-1.50Z M83.31 804.25h2.63v0.8h-2.63Z M85.54 804.55h0.40v56.73h-0.40Z M89.08 734.05h1.50v127.24h-1.50Z M89.08 734.05h2.63v0.8h-2.63Z M91.31 734.35h0.40v126.94h-0.40Z M91.96 735.47h1.50v125.82h-1.50Z M91.96 735.47h2.63v0.8h-2.63Z M94.20 735.77h0.40v125.52h-0.40Z M97.73 721.28h1.50v140.00h-1.50Z M97.73 721.28h2.63v0.8h-2.63Z M99.97 721.58h0.40v139.70h-0.40Z M100.62 743.98h1.50v117.31h-1.50Z M100.62 743.98h2.63v0.8h-2.63Z M102.85 744.28h0.40v117.01h-0.40Z M106.38 741.14h1.50v120.15h-1.50Z M106.38 741.14h2.63v0.8h-2.63Z M108.62 741.44h0.40v119.85h-0.40Z M115.04 732.63h1.50v128.65h-1.50Z M115.04 732.63h2.63v0.8h-2.63Z M117.27 732.93h0.40v128.35h-0.40Z M117.92 746.81h1.50v114.47h-1.50Z M117.92 746.81h2.63v0.8h-2.63Z M120.16 747.11h0.40v114.17h-0.40Z M123.69 855.31h1.50v5.97h-1.50Z M123.69 855.31h2.63v0.8h-2.63Z M125.92 855.61h0.40v5.67h-0.40Z M126.58 860.99h1.50v30.79h-1.50Z M126.58 860.99h2.63v0.8h-2.63Z M128.81 861.29h0.40v30.49h-0.40Z M132.34 761.71h1.50v99.58h-1.50Z M132.34 761.71h2.63v0.8h-2.63Z M134.58 762.01h0.40v99.28h-0.40Z M135.23 749.65h1.50v111.64h-1.50Z M135.23 749.65h2.63v0.8h-2.63Z M137.46 749.95h0.40v111.34h-0.40Z M141.00 739.72h1.50v121.56h-1.50Z M141.00 739.72h2.63v0.8h-2.63Z M143.23 740.02h0.40v121.26h-0.40Z M143.88 723.41h1.50v137.87h-1.50Z M143.88 723.41h2.63v0.8h-2.63Z M146.12 723.71h0.40v137.57h-0.40Z M149.65 736.89h1.50v124.40h-1.50Z M149.65 736.89h2.63v0.8h-2.63Z M151.88 737.19h0.40v124.10h-0.40Z M152.53 741.85h1.50v119.44h-1.50Z M152.53 741.85h2.63v0.8h-2.63Z M154.77 742.15h0.40v119.14h-0.40Z M158.30 732.63h1.50v128.65h-1.50Z M158.30 732.63h2.63v0.8h-2.63Z M160.54 732.93h0.40v128.35h-0.40Z M161.19 731.21h1.50v130.07h-1.50Z M161.19 731.21h2.63v0.8h-2.63Z M163.42 731.51h0.40v129.77h-0.40Z M166.96 730.50h1.50v130.78h-1.50Z M166.96 730.50h2.63v0.8h-2.63Z M169.19 730.80h0.40v130.48h-0.40Z M175.61 746.10h1.50v115.18h-1.50Z M175.61 746.10h2.63v0.8h-2.63Z M177.84 746.40h0.40v114.88h-0.40Z M178.49 731.21h1.50v130.07h-1.50Z M178.49 731.21h2.63v0.8h-2.63Z M180.73 731.51h0.40v129.77h-0.40Z M184.26 736.89h1.50v124.40h-1.50Z M184.26 736.89h2.63v0.8h-2.63Z M186.50 737.19h0.40v124.10h-0.40Z M187.15 726.25h1.50v135.04h-1.50Z M187.15 726.25h2.63v0.8h-2.63Z M189.38 726.55h0.40v134.74h-0.40Z M192.92 734.05h1.50v127.24h-1.50Z M192.92 734.05h2.63v0.8h-2.63Z M195.15 734.35h0.40v126.94h-0.40Z M195.80 732.63h1.50v128.65h-1.50Z M195.80 732.63h2.63v0.8h-2.63Z M198.03 732.93h0.40v128.35h-0.40Z M201.57 730.50h1.50v130.78h-1.50Z M201.57 730.50h2.63v0.8h-2.63Z M203.80 730.80h0.40v130.48h-0.40Z M204.45 834.75h1.50v26.54h-1.50Z M204.45 834.75h2.63v0.8h-2.63Z M206.69 835.05h0.40v26.24h-0.40Z M210.22 745.40h1.50v115.89h-1.50Z M210.22 745.40h2.63v0.8h-2.63Z M212.46 745.70h0.40v115.59h-0.40Z M213.11 717.03h1.50v144.26h-1.50Z M213.11 717.03h2.63v0.8h-2.63Z M215.34 717.33h0.40v143.96h-0.40Z M218.88 741.14h1.50v120.15h-1.50Z M218.88 741.14h2.63v0.8h-2.63Z M221.11 741.44h0.40v119.85h-0.40Z M221.76 736.89h1.50v124.40h-1.50Z M221.76 736.89h2.63v0.8h-2.63Z M223.99 737.19h0.40v124.10h-0.40Z M227.53 741.85h1.50v119.44h-1.50Z M227.53 741.85h2.63v0.8h-2.63Z M229.76 742.15h0.40v119.14h-0.40Z M230.41 746.81h1.50v114.47h-1.50Z M230.41 746.81h2.63v0.8h-2.63Z M232.65 747.11h0.40v114.17h-0.40Z M236.18 730.50h1.50v130.78h-1.50Z M236.18 730.50h2.63v0.8h-2.63Z M238.42 730.80h0.40v130.48h-0.40Z M239.07 739.01h1.50v122.27h-1.50Z M239.07 739.01h2.63v0.8h-2.63Z M241.30 739.31h0.40v121.97h-0.40Z M244.83 736.89h1.50v124.40h-1.50Z M244.83 736.89h2.63v0.8h-2.63Z M247.07 737.19h0.40v124.10h-0.40Z M247.72 731.21h1.50v130.07h-1.50Z M247.72 731.21h2.63v0.8h-2.63Z M249.95 731.51h0.40v129.77h-0.40Z M253.49 731.92h1.50v129.36h-1.50Z M253.49 731.92h2.63v0.8h-2.63Z M255.72 732.22h0.40v129.06h-0.40Z M256.37 847.51h1.50v13.77h-1.50Z M256.37 847.51h2.63v0.8h-2.63Z M258.61 847.81h0.40v13.47h-0.40Z M262.14 737.59h1.50v123.69h-1.50Z M262.14 737.59h2.63v0.8h-2.63Z M264.38 737.89h0.40v123.39h-0.40Z M265.02 731.21h1.50v130.07h-1.50Z M265.02 731.21h2.63v0.8h-2.63Z M267.26 731.51h0.40v129.77h-0.40Z M270.79 818.44h1.50v42.85h-1.50Z M270.79 818.44h2.63v0.8h-2.63Z M273.03 818.74h0.40v42.55h-0.40Z M273.68 743.27h1.50v118.02h-1.50Z M273.68 743.27h2.63v0.8h-2.63Z M275.91 743.57h0.40v117.72h-0.40Z M279.45 751.78h1.50v109.51h-1.50Z M279.45 751.78h2.63v0.8h-2.63Z M281.68 752.08h0.40v109.21h-0.40Z M282.33 726.96h1.50v134.33h-1.50Z M282.33 726.96h2.63v0.8h-2.63Z M284.57 727.26h0.40v134.03h-0.40Z M288.10 735.47h1.50v125.82h-1.50Z M288.10 735.47h2.63v0.8h-2.63Z M290.33 735.77h0.40v125.52h-0.40Z M290.98 839.71h1.50v21.57h-1.50Z M290.98 839.71h2.63v0.8h-2.63Z M293.22 840.01h0.40v21.27h-0.40Z M296.75 745.40h1.50v115.89h-1.50Z M296.75 745.40h2.63v0.8h-2.63Z M298.99 745.70h0.40v115.59h-0.40Z M299.64 729.09h1.50v132.20h-1.50Z M299.64 729.09h2.63v0.8h-2.63Z M301.87 729.39h0.40v131.90h-0.40Z M305.41 833.33h1.50v27.96h-1.50Z M305.41 833.33h2.63v0.8h-2.63Z M307.64 833.63h0.40v27.66h-0.40Z M308.29 823.40h1.50v37.88h-1.50Z M308.29 823.40h2.63v0.8h-2.63Z M310.52 823.70h0.40v37.58h-0.40Z M314.06 739.72h1.50v121.56h-1.50Z M314.06 739.72h2.63v0.8h-2.63Z M316.29 740.02h0.40v121.26h-0.40Z M316.94 800.00h1.50v61.29h-1.50Z M316.94 800.00h2.63v0.8h-2.63Z M319.18 800.30h0.40v60.99h-0.40Z M322.71 730.50h1.50v130.78h-1.50Z M322.71 730.50h2.63v0.8h-2.63Z M324.95 730.80h0.40v130.48h-0.40Z M325.60 860.99h1.50v20.16h-1.50Z M325.60 860.99h2.63v0.8h-2.63Z M327.83 861.29h0.40v19.86h-0.40Z M331.37 782.98h1.50v78.31h-1.50Z M331.37 782.98h2.63v0.8h-2.63Z M333.60 783.28h0.40v78.01h-0.40Z M334.25 732.63h1.50v128.65h-1.50Z M334.25 732.63h2.63v0.8h-2.63Z M336.48 732.93h0.40v128.35h-0.40Z M340.02 731.92h1.50v129.36h-1.50Z M340.02 731.92h2.63v0.8h-2.63Z M342.25 732.22h0.40v129.06h-0.40Z M342.90 747.52h1.50v113.76h-1.50Z M342.90 747.52h2.63v0.8h-2.63Z M345.14 747.82h0.40v113.46h-0.40Z M348.67 739.01h1.50v122.27h-1.50Z M348.67 739.01h2.63v0.8h-2.63Z M350.91 739.31h0.40v121.97h-0.40Z M351.56 736.89h1.50v124.40h-1.50Z M351.56 736.89h2.63v0.8h-2.63Z M353.79 737.19h0.40v124.10h-0.40Z M360.21 734.05h1.50v127.24h-1.50Z M360.21 734.05h2.63v0.8h-2.63Z M362.44 734.35h0.40v126.94h-0.40Z M365.98 739.72h1.50v121.56h-1.50Z M365.98 739.72h2.63v0.8h-2.63Z M368.21 740.02h0.40v121.26h-0.40Z M368.86 729.09h1.50v132.20h-1.50Z M368.86 729.09h2.63v0.8h-2.63Z M371.10 729.39h0.40v131.90h-0.40Z M374.63 842.55h1.50v18.74h-1.50Z M374.63 842.55h2.63v0.8h-2.63Z M376.87 842.85h0.40v18.44h-0.40Z M377.52 732.63h1.50v128.65h-1.50Z M377.52 732.63h2.63v0.8h-2.63Z M379.75 732.93h0.40v128.35h-0.40Z M383.28 739.01h1.50v122.27h-1.50Z M383.28 739.01h2.63v0.8h-2.63Z M385.52 739.31h0.40v121.97h-0.40Z M386.17 728.38h1.50v132.91h-1.50Z M386.17 728.38h2.63v0.8h-2.63Z M388.40 728.68h0.40v132.61h-0.40Z M391.94 736.89h1.50v124.40h-1.50Z M391.94 736.89h2.63v0.8h-2.63Z M394.17 737.19h0.40v124.10h-0.40Z M394.82 743.27h1.50v118.02h-1.50Z M394.82 743.27h2.63v0.8h-2.63Z M397.06 743.57h0.40v117.72h-0.40Z M400.59 732.63h1.50v128.65h-1.50Z M400.59 732.63h2.63v0.8h-2.63Z M402.82 732.93h0.40v128.35h-0.40Z M403.48 761.00h1.50v100.29h-1.50Z M403.48 761.00h2.63v0.8h-2.63Z M405.71 761.30h0.40v99.99h-0.40Z M409.24 730.50h1.50v130.78h-1.50Z M409.24 730.50h2.63v0.8h-2.63Z M411.48 730.80h0.40v130.48h-0.40Z M412.13 828.37h1.50v32.92h-1.50Z M412.13 828.37h2.63v0.8h-2.63Z M414.36 828.67h0.40v32.62h-0.40Z M420.78 731.92h1.50v129.36h-1.50Z M420.78 731.92h2.63v0.8h-2.63Z M423.02 732.22h0.40v129.06h-0.40Z M426.55 826.95h1.50v34.34h-1.50Z M426.55 826.95h2.63v0.8h-2.63Z M428.78 827.25h0.40v34.04h-0.40Z M429.43 741.14h1.50v120.15h-1.50Z M429.43 741.14h2.63v0.8h-2.63Z M431.67 741.44h0.40v119.85h-0.40Z M435.20 736.89h1.50v124.40h-1.50Z M435.20 736.89h2.63v0.8h-2.63Z M437.44 737.19h0.40v124.10h-0.40Z M438.09 728.38h1.50v132.91h-1.50Z M438.09 728.38h2.63v0.8h-2.63Z M440.32 728.68h0.40v132.61h-0.40Z M443.86 720.58h1.50v140.71h-1.50Z M443.86 720.58h2.63v0.8h-2.63Z M446.09 720.88h0.40v140.41h-0.40Z" fill="#000000"/>
<path d="M86.19 861.29h2.63v10.64h-2.63Z M94.85 746.40h2.63v114.88h-2.63Z M103.50 861.29h2.63v14.18h-2.63Z M112.15 740.02h2.63v121.26h-2.63Z M120.81 727.26h2.63v134.03h-2.63Z M129.46 835.05h2.63v26.24h-2.63Z M138.11 732.93h2.63v128.35h-2.63Z M146.77 739.31h2.63v121.97h-2.63Z M155.42 736.48h2.63v124.81h-2.63Z M164.07 861.29h2.63v0.40h-2.63Z M181.38 737.89h2.63v123.39h-2.63Z M190.03 857.74h2.63v3.55h-2.63Z M198.68 737.89h2.63v123.39h-2.63Z M207.34 861.29h2.63v12.06h-2.63Z M215.99 842.85h2.63v18.44h-2.63Z M224.64 731.51h2.63v129.77h-2.63Z M241.95 742.15h2.63v119.14h-2.63Z M250.60 741.44h2.63v119.85h-2.63Z M259.26 718.04h2.63v143.25h-2.63Z M267.91 861.29h2.63v16.31h-2.63Z M276.56 735.77h2.63v125.52h-2.63Z M285.22 759.17h2.63v102.12h-2.63Z M302.52 741.44h2.63v119.85h-2.63Z M311.18 725.84h2.63v135.45h-2.63Z M319.83 740.02h2.63v121.26h-2.63Z M328.48 723.71h2.63v137.57h-2.63Z M337.13 737.19h2.63v124.10h-2.63Z M345.79 861.29h2.63v12.76h-2.63Z M363.09 844.98h2.63v16.31h-2.63Z M371.75 744.28h2.63v117.01h-2.63Z M380.40 732.22h2.63v129.06h-2.63Z M389.05 739.31h2.63v121.97h-2.63Z M397.71 742.15h2.63v119.14h-2.63Z M406.36 732.93h2.63v128.35h-2.63Z M415.01 736.48h2.63v124.81h-2.63Z M423.67 861.29h2.63v6.38h-2.63Z M432.32 739.31h2.63v121.97h-2.63Z M440.97 736.48h2.63v124.81h-2.63Z" fill="#5c5c64"/>
<path d="M86.19 860.99h1.40v10.94h-1.40Z M86.19 860.99h2.63v0.8h-2.63Z M88.43 861.29h0.40v10.64h-0.40Z M94.85 746.10h1.40v115.18h-1.40Z M94.85 746.10h2.63v0.8h-2.63Z M97.08 746.40h0.40v114.88h-0.40Z M103.50 860.99h1.40v14.48h-1.40Z M103.50 860.99h2.63v0.8h-2.63Z M105.73 861.29h0.40v14.18h-0.40Z M112.15 739.72h1.40v121.56h-1.40Z M112.15 739.72h2.63v0.8h-2.63Z M114.39 740.02h0.40v121.26h-0.40Z M120.81 726.96h1.40v134.33h-1.40Z M120.81 726.96h2.63v0.8h-2.63Z M123.04 727.26h0.40v134.03h-0.40Z M129.46 834.75h1.40v26.54h-1.40Z M129.46 834.75h2.63v0.8h-2.63Z M131.69 835.05h0.40v26.24h-0.40Z M138.11 732.63h1.40v128.65h-1.40Z M138.11 732.63h2.63v0.8h-2.63Z M140.35 732.93h0.40v128.35h-0.40Z M146.77 739.01h1.40v122.27h-1.40Z M146.77 739.01h2.63v0.8h-2.63Z M149.00 739.31h0.40v121.97h-0.40Z M155.42 736.18h1.40v125.11h-1.40Z M155.42 736.18h2.63v0.8h-2.63Z M157.65 736.48h0.40v124.81h-0.40Z M164.07 860.99h1.40v0.70h-1.40Z M164.07 860.99h2.63v0.8h-2.63Z M166.31 861.29h0.40v0.40h-0.40Z M181.38 737.59h1.40v123.69h-1.40Z M181.38 737.59h2.63v0.8h-2.63Z M183.61 737.89h0.40v123.39h-0.40Z M190.03 857.44h1.40v3.85h-1.40Z M190.03 857.44h2.63v0.8h-2.63Z M192.27 857.74h0.40v3.55h-0.40Z M198.68 737.59h1.40v123.69h-1.40Z M198.68 737.59h2.63v0.8h-2.63Z M200.92 737.89h0.40v123.39h-0.40Z M207.34 860.99h1.40v12.36h-1.40Z M207.34 860.99h2.63v0.8h-2.63Z M209.57 861.29h0.40v12.06h-0.40Z M215.99 842.55h1.40v18.74h-1.40Z M215.99 842.55h2.63v0.8h-2.63Z M218.23 842.85h0.40v18.44h-0.40Z M224.64 731.21h1.40v130.07h-1.40Z M224.64 731.21h2.63v0.8h-2.63Z M226.88 731.51h0.40v129.77h-0.40Z M241.95 741.85h1.40v119.44h-1.40Z M241.95 741.85h2.63v0.8h-2.63Z M244.18 742.15h0.40v119.14h-0.40Z M250.60 741.14h1.40v120.15h-1.40Z M250.60 741.14h2.63v0.8h-2.63Z M252.84 741.44h0.40v119.85h-0.40Z M259.26 717.74h1.40v143.55h-1.40Z M259.26 717.74h2.63v0.8h-2.63Z M261.49 718.04h0.40v143.25h-0.40Z M267.91 860.99h1.40v16.61h-1.40Z M267.91 860.99h2.63v0.8h-2.63Z M270.14 861.29h0.40v16.31h-0.40Z M276.56 735.47h1.40v125.82h-1.40Z M276.56 735.47h2.63v0.8h-2.63Z M278.80 735.77h0.40v125.52h-0.40Z M285.22 758.87h1.40v102.42h-1.40Z M285.22 758.87h2.63v0.8h-2.63Z M287.45 759.17h0.40v102.12h-0.40Z M302.52 741.14h1.40v120.15h-1.40Z M302.52 741.14h2.63v0.8h-2.63Z M304.76 741.44h0.40v119.85h-0.40Z M311.18 725.54h1.40v135.75h-1.40Z M311.18 725.54h2.63v0.8h-2.63Z M313.41 725.84h0.40v135.45h-0.40Z M319.83 739.72h1.40v121.56h-1.40Z M319.83 739.72h2.63v0.8h-2.63Z M322.06 740.02h0.40v121.26h-0.40Z M328.48 723.41h1.40v137.87h-1.40Z M328.48 723.41h2.63v0.8h-2.63Z M330.72 723.71h0.40v137.57h-0.40Z M337.13 736.89h1.40v124.40h-1.40Z M337.13 736.89h2.63v0.8h-2.63Z M339.37 737.19h0.40v124.10h-0.40Z M345.79 860.99h1.40v13.06h-1.40Z M345.79 860.99h2.63v0.8h-2.63Z M348.02 861.29h0.40v12.76h-0.40Z M363.09 844.68h1.40v16.61h-1.40Z M363.09 844.68h2.63v0.8h-2.63Z M365.33 844.98h0.40v16.31h-0.40Z M371.75 743.98h1.40v117.31h-1.40Z M371.75 743.98h2.63v0.8h-2.63Z M373.98 744.28h0.40v117.01h-0.40Z M380.40 731.92h1.40v129.36h-1.40Z M380.40 731.92h2.63v0.8h-2.63Z M382.63 732.22h0.40v129.06h-0.40Z M389.05 739.01h1.40v122.27h-1.40Z M389.05 739.01h2.63v0.8h-2.63Z M391.29 739.31h0.40v121.97h-0.40Z M397.71 741.85h1.40v119.44h-1.40Z M397.71 741.85h2.63v0.8h-2.63Z M399.94 742.15h0.40v119.14h-0.40Z M406.36 732.63h1.40v128.65h-1.40Z M406.36 732.63h2.63v0.8h-2.63Z M408.59 732.93h0.40v128.35h-0.40Z M415.01 736.18h1.40v125.11h-1.40Z M415.01 736.18h2.63v0.8h-2.63Z M417.25 736.48h0.40v124.81h-0.40Z M423.67 860.99h1.40v6.68h-1.40Z M423.67 860.99h2.63v0.8h-2.63Z M425.90 861.29h0.40v6.38h-0.40Z M432.32 739.01h1.40v122.27h-1.40Z M432.32 739.01h2.63v0.8h-2.63Z M434.55 739.31h0.40v121.97h-0.40Z M440.97 736.18h1.40v125.11h-1.40Z M440.97 736.18h2.63v0.8h-2.63Z M443.21 736.48h0.40v124.81h-0.40Z" fill="#000000"/>
<path d="M109.27 723.71h2.63v137.57h-2.63Z M169.84 741.44h2.63v119.85h-2.63Z M172.73 732.93h2.63v128.35h-2.63Z M233.30 739.31h2.63v121.97h-2.63Z M293.87 726.55h2.63v134.74h-2.63Z M354.44 732.22h2.63v129.06h-2.63Z M357.32 736.48h2.63v124.81h-2.63Z M417.90 737.19h2.63v124.10h-2.63Z" fill="#9090d0"/>
<path d="M109.27 723.41h1.00v137.87h-1.00Z M109.27 723.41h2.63v0.8h-2.63Z M111.50 723.71h0.40v137.57h-0.40Z M169.84 741.14h1.00v120.15h-1.00Z M169.84 741.14h2.63v0.8h-2.63Z M172.07 741.44h0.40v119.85h-0.40Z M172.73 732.63h1.00v128.65h-1.00Z M172.73 732.63h2.63v0.8h-2.63Z M174.96 732.93h0.40v128.35h-0.40Z M233.30 739.01h1.00v122.27h-1.00Z M233.30 739.01h2.63v0.8h-2.63Z M235.53 739.31h0.40v121.97h-0.40Z M293.87 726.25h1.00v135.04h-1.00Z M293.87 726.25h2.63v0.8h-2.63Z M296.10 726.55h0.40v134.74h-0.40Z M354.44 731.92h1.00v129.36h-1.00Z M354.44 731.92h2.63v0.8h-2.63Z M356.68 732.22h0.40v129.06h-0.40Z M357.32 736.18h1.00v125.11h-1.00Z M357.32 736.18h2.63v0.8h-2.63Z M359.56 736.48h0.40v124.81h-0.40Z M417.90 736.89h1.00v124.40h-1.00Z M417.90 736.89h2.63v0.8h-2.63Z M420.13 737.19h0.40v124.10h-0.40Z" fill="#14145a"/>
<path d="M80.3 932.5H449.5 M80.3 897.5H449.5 M80.3 861.5H449.5 M80.3 826.5H449.5 M80.3 790.5H449.5 M80.3 755.5H449.5 M80.3 719.5H449.5 M80.3 684.5H449.5" stroke="#000" stroke-opacity="0.55" stroke-width="1"/>
<line x1="80.3" y1="684" x2="80.3" y2="932.2" stroke="#222" stroke-width="1.2"/>
<line x1="80.3" y1="861.5" x2="449.5" y2="861.5" stroke="#111" stroke-width="1.2"/>
<g clip-path="url(#clip140146022125504)"><text x="81.3" y="885.7" font-size="12" text-anchor="middle" fill="#111">1</text><text x="110.2" y="885.7" font-size="12" text-anchor="middle" fill="#111">11</text><text x="139.0" y="885.7" font-size="12" text-anchor="middle" fill="#111">21</text><text x="167.8" y="885.7" font-size="12" text-anchor="middle" fill="#111">31</text><text x="196.7" y="885.7" font-size="12" text-anchor="middle" fill="#111">41</text><text x="225.5" y="885.7" font-size="12" text-anchor="middle" fill="#111">51</text><text x="254.4" y="885.7" font-size="12" text-anchor="middle" fill="#111">61</text><text x="283.2" y="885.7" font-size="12" text-anchor="middle" fill="#111">71</text><text x="312.1" y="885.7" font-size="12" text-anchor="middle" fill="#111">81</text><text x="340.9" y="885.7" font-size="12" text-anchor="middle" fill="#111">91</text><text x="369.7" y="885.7" font-size="12" text-anchor="middle" fill="#111">101</text><text x="398.6" y="885.7" font-size="12" text-anchor="middle" fill="#111">111</text><text x="427.4" y="885.7" font-size="12" text-anchor="middle" fill="#111">121</text></g>
<rect x="459.5" y="796.4" width="65.89999999999998" height="21.899999999999977" fill="#fff" stroke="#222" stroke-width="1"/>
<rect x="464.2" y="804.2" width="8" height="8" fill="#9999ff" stroke="#202060" stroke-width="1"/>
<text x="477.6" y="812.7" font-size="12.5" fill="#111" textLength="42" lengthAdjust="spacingAndGlyphs">Series1</text>
<clipPath id="clip140146022125120"><rect x="565.8" y="711.9" width="400.6" height="265.30000000000007"/></clipPath>
<line x1="535.2" y1="653.75" x2="978.8" y2="653.75" stroke="#111" stroke-width="1.3"/>
<text x="651.8" y="677.2" font-size="13" font-weight="bold" fill="#111" textLength="196.7" lengthAdjust="spacingAndGlyphs">chip 1 gain vs channel (mV/fC)</text>
<rect x="565.3" y="711.9" width="400.6" height="225.30000000000007" fill="#c0c0c0" stroke="#707070" stroke-width="1"/>
<line x1="561.3" y1="937.5" x2="965.9" y2="937.5" stroke="#1a1a1a" stroke-width="1"/>
<text x="555.5" y="941.3" font-size="11.5" text-anchor="end" fill="#111">-15</text>
<line x1="561.3" y1="905.5" x2="965.9" y2="905.5" stroke="#1a1a1a" stroke-width="1"/>
<text x="555.5" y="909.2" font-size="11.5" text-anchor="end" fill="#111">-10</text>
<line x1="561.3" y1="873.5" x2="965.9" y2="873.5" stroke="#1a1a1a" stroke-width="1"/>
<text x="555.5" y="877.0" font-size="11.5" text-anchor="end" fill="#111">-5</text>
<line x1="561.3" y1="841.5" x2="965.9" y2="841.5" stroke="#1a1a1a" stroke-width="1"/>
<text x="555.5" y="844.8" font-size="11.5" text-anchor="end" fill="#111">0</text>
<line x1="561.3" y1="808.5" x2="965.9" y2="808.5" stroke="#1a1a1a" stroke-width="1"/>
<text x="555.5" y="812.6" font-size="11.5" text-anchor="end" fill="#111">5</text>
<line x1="561.3" y1="776.5" x2="965.9" y2="776.5" stroke="#1a1a1a" stroke-width="1"/>
<text x="555.5" y="780.4" font-size="11.5" text-anchor="end" fill="#111">10</text>
<line x1="561.3" y1="744.5" x2="965.9" y2="744.5" stroke="#1a1a1a" stroke-width="1"/>
<text x="555.5" y="748.2" font-size="11.5" text-anchor="end" fill="#111">15</text>
<line x1="561.3" y1="712.5" x2="965.9" y2="712.5" stroke="#1a1a1a" stroke-width="1"/>
<text x="555.5" y="716.0" font-size="11.5" text-anchor="end" fill="#111">20</text>
<path d="M565.30 840.6v3.8 M568.43 840.6v3.8 M571.56 840.6v3.8 M574.69 840.6v3.8 M577.82 840.6v3.8 M580.95 840.6v3.8 M584.08 840.6v3.8 M587.21 840.6v3.8 M590.34 840.6v3.8 M593.47 840.6v3.8 M596.60 840.6v3.8 M599.73 840.6v3.8 M602.86 840.6v3.8 M605.99 840.6v3.8 M609.12 840.6v3.8 M612.25 840.6v3.8 M615.38 840.6v3.8 M618.50 840.6v3.8 M621.63 840.6v3.8 M624.76 840.6v3.8 M627.89 840.6v3.8 M631.02 840.6v3.8 M634.15 840.6v3.8 M637.28 840.6v3.8 M640.41 840.6v3.8 M643.54 840.6v3.8 M646.67 840.6v3.8 M649.80 840.6v3.8 M652.93 840.6v3.8 M656.06 840.6v3.8 M659.19 840.6v3.8 M662.32 840.6v3.8 M665.45 840.6v3.8 M668.58 840.6v3.8 M671.71 840.6v3.8 M674.84 840.6v3.8 M677.97 840.6v3.8 M681.10 840.6v3.8 M684.23 840.6v3.8 M687.36 840.6v3.8 M690.49 840.6v3.8 M693.62 840.6v3.8 M696.75 840.6v3.8 M699.88 840.6v3.8 M703.01 840.6v3.8 M706.14 840.6v3.8 M709.27 840.6v3.8 M712.40 840.6v3.8 M715.52 840.6v3.8 M718.65 840.6v3.8 M721.78 840.6v3.8 M724.91 840.6v3.8 M728.04 840.6v3.8 M731.17 840.6v3.8 M734.30 840.6v3.8 M737.43 840.6v3.8 M740.56 840.6v3.8 M743.69 840.6v3.8 M746.82 840.6v3.8 M749.95 840.6v3.8 M753.08 840.6v3.8 M756.21 840.6v3.8 M759.34 840.6v3.8 M762.47 840.6v3.8 M765.60 840.6v3.8 M768.73 840.6v3.8 M771.86 840.6v3.8 M774.99 840.6v3.8 M778.12 840.6v3.8 M781.25 840.6v3.8 M784.38 840.6v3.8 M787.51 840.6v3.8 M790.64 840.6v3.8 M793.77 840.6v3.8 M796.90 840.6v3.8 M800.03 840.6v3.8 M803.16 840.6v3.8 M806.29 840.6v3.8 M809.42 840.6v3.8 M812.55 840.6v3.8 M815.67 840.6v3.8 M818.80 840.6v3.8 M821.93 840.6v3.8 M825.06 840.6v3.8 M828.19 840.6v3.8 M831.32 840.6v3.8 M834.45 840.6v3.8 M837.58 840.6v3.8 M840.71 840.6v3.8 M843.84 840.6v3.8 M846.97 840.6v3.8 M850.10 840.6v3.8 M853.23 840.6v3.8 M856.36 840.6v3.8 M859.49 840.6v3.8 M862.62 840.6v3.8 M865.75 840.6v3.8 M868.88 840.6v3.8 M872.01 840.6v3.8 M875.14 840.6v3.8 M878.27 840.6v3.8 M881.40 840.6v3.8 M884.53 840.6v3.8 M887.66 840.6v3.8 M890.79 840.6v3.8 M893.92 840.6v3.8 M897.05 840.6v3.8 M900.18 840.6v3.8 M903.31 840.6v3.8 M906.44 840.6v3.8 M909.57 840.6v3.8 M912.70 840.6v3.8 M915.83 840.6v3.8 M918.95 840.6v3.8 M922.08 840.6v3.8 M925.21 840.6v3.8 M928.34 840.6v3.8 M931.47 840.6v3.8 M934.60 840.6v3.8 M937.73 840.6v3.8 M940.86 840.6v3.8 M943.99 840.6v3.8 M947.12 840.6v3.8 M950.25 840.6v3.8 M953.38 840.6v3.8 M956.51 840.6v3.8 M959.64 840.6v3.8 M962.77 840.6v3.8 M965.90 840.6v3.8" stroke="#1a1a1a" stroke-width="0.9"/>
<path d="M568.73 774.98h2.53v65.66h-2.53Z M578.12 838.71h2.53v1.93h-2.53Z M587.51 840.64h2.53v0.40h-2.53Z M596.90 798.16h2.53v42.49h-2.53Z M606.29 784.64h2.53v56.00h-2.53Z M615.67 783.35h2.53v57.29h-2.53Z M625.06 815.54h2.53v25.10h-2.53Z M634.45 780.13h2.53v60.51h-2.53Z M643.84 840.64h2.53v33.47h-2.53Z M653.23 804.59h2.53v36.05h-2.53Z M662.62 838.71h2.53v1.93h-2.53Z M672.01 840.64h2.53v1.29h-2.53Z M681.40 787.86h2.53v52.78h-2.53Z M690.79 777.56h2.53v63.08h-2.53Z M700.18 789.79h2.53v50.85h-2.53Z M709.57 840.64h2.53v5.15h-2.53Z M718.95 836.46h2.53v4.18h-2.53Z M728.34 807.81h2.53v32.83h-2.53Z M737.73 762.11h2.53v78.53h-2.53Z M747.12 807.81h2.53v32.83h-2.53Z M756.51 840.64h2.53v27.68h-2.53Z M765.90 839.36h2.53v1.29h-2.53Z M775.29 834.21h2.53v6.44h-2.53Z M784.68 809.74h2.53v30.90h-2.53Z M794.07 792.36h2.53v48.28h-2.53Z M803.46 761.47h2.53v79.18h-2.53Z M812.85 840.64h2.53v8.37h-2.53Z M822.23 821.33h2.53v19.31h-2.53Z M831.62 840.64h2.53v5.47h-2.53Z M841.01 787.21h2.53v53.43h-2.53Z M850.40 823.26h2.53v17.38h-2.53Z M859.79 756.96h2.53v83.68h-2.53Z M869.18 794.30h2.53v46.35h-2.53Z M878.57 822.62h2.53v18.02h-2.53Z M887.96 840.64h2.53v57.29h-2.53Z M897.35 817.47h2.53v23.17h-2.53Z M906.74 814.25h2.53v26.39h-2.53Z M916.12 840.64h2.53v0.64h-2.53Z M925.51 791.08h2.53v49.57h-2.53Z M934.90 825.84h2.53v14.81h-2.53Z M944.29 791.08h2.53v49.57h-2.53Z M953.68 755.67h2.53v84.97h-2.53Z M963.07 840.64h2.53v23.82h-2.53Z" fill="#8a8a94"/>
<path d="M568.73 774.68h1.30v65.96h-1.30Z M568.73 774.68h2.53v0.8h-2.53Z M570.71 774.98h0.55v65.66h-0.55Z M578.12 838.41h1.30v2.23h-1.30Z M578.12 838.41h2.53v0.8h-2.53Z M580.10 838.71h0.55v1.93h-0.55Z M587.51 840.34h1.30v0.70h-1.30Z M587.51 840.34h2.53v0.8h-2.53Z M589.49 840.64h0.55v0.40h-0.55Z M596.90 797.86h1.30v42.79h-1.30Z M596.90 797.86h2.53v0.8h-2.53Z M598.88 798.16h0.55v42.49h-0.55Z M606.29 784.34h1.30v56.30h-1.30Z M606.29 784.34h2.53v0.8h-2.53Z M608.27 784.64h0.55v56.00h-0.55Z M615.67 783.05h1.30v57.59h-1.30Z M615.67 783.05h2.53v0.8h-2.53Z M617.65 783.35h0.55v57.29h-0.55Z M625.06 815.24h1.30v25.40h-1.30Z M625.06 815.24h2.53v0.8h-2.53Z M627.04 815.54h0.55v25.10h-0.55Z M634.45 779.83h1.30v60.81h-1.30Z M634.45 779.83h2.53v0.8h-2.53Z M636.43 780.13h0.55v60.51h-0.55Z M643.84 840.34h1.30v33.77h-1.30Z M643.84 840.34h2.53v0.8h-2.53Z M645.82 840.64h0.55v33.47h-0.55Z M653.23 804.29h1.30v36.35h-1.30Z M653.23 804.29h2.53v0.8h-2.53Z M655.21 804.59h0.55v36.05h-0.55Z M662.62 838.41h1.30v2.23h-1.30Z M662.62 838.41h2.53v0.8h-2.53Z M664.60 838.71h0.55v1.93h-0.55Z M672.01 840.34h1.30v1.59h-1.30Z M672.01 840.34h2.53v0.8h-2.53Z M673.99 840.64h0.55v1.29h-0.55Z M681.40 787.56h1.30v53.08h-1.30Z M681.40 787.56h2.53v0.8h-2.53Z M683.38 787.86h0.55v52.78h-0.55Z M690.79 777.26h1.30v63.38h-1.30Z M690.79 777.26h2.53v0.8h-2.53Z M692.77 777.56h0.55v63.08h-0.55Z M700.18 789.49h1.30v51.15h-1.30Z M700.18 789.49h2.53v0.8h-2.53Z M702.16 789.79h0.55v50.85h-0.55Z M709.57 840.34h1.30v5.45h-1.30Z M709.57 840.34h2.53v0.8h-2.53Z M711.55 840.64h0.55v5.15h-0.55Z M718.95 836.16h1.30v4.48h-1.30Z M718.95 836.16h2.53v0.8h-2.53Z M720.93 836.46h0.55v4.18h-0.55Z M728.34 807.51h1.30v33.13h-1.30Z M728.34 807.51h2.53v0.8h-2.53Z M730.32 807.81h0.55v32.83h-0.55Z M737.73 761.81h1.30v78.83h-1.30Z M737.73 761.81h2.53v0.8h-2.53Z M739.71 762.11h0.55v78.53h-0.55Z M747.12 807.51h1.30v33.13h-1.30Z M747.12 807.51h2.53v0.8h-2.53Z M749.10 807.81h0.55v32.83h-0.55Z M756.51 840.34h1.30v27.98h-1.30Z M756.51 840.34h2.53v0.8h-2.53Z M758.49 840.64h0.55v27.68h-0.55Z M765.90 839.06h1.30v1.59h-1.30Z M765.90 839.06h2.53v0.8h-2.53Z M767.88 839.36h0.55v1.29h-0.55Z M775.29 833.91h1.30v6.74h-1.30Z M775.29 833.91h2.53v0.8h-2.53Z M777.27 834.21h0.55v6.44h-0.55Z M784.68 809.44h1.30v31.20h-1.30Z M784.68 809.44h2.53v0.8h-2.53Z M786.66 809.74h0.55v30.90h-0.55Z M794.07 792.06h1.30v48.58h-1.30Z M794.07 792.06h2.53v0.8h-2.53Z M796.05 792.36h0.55v48.28h-0.55Z M803.46 761.17h1.30v79.48h-1.30Z M803.46 761.17h2.53v0.8h-2.53Z M805.44 761.47h0.55v79.18h-0.55Z M812.85 840.34h1.30v8.67h-1.30Z M812.85 840.34h2.53v0.8h-2.53Z M814.83 840.64h0.55v8.37h-0.55Z M822.23 821.03h1.30v19.61h-1.30Z M822.23 821.03h2.53v0.8h-2.53Z M824.21 821.33h0.55v19.31h-0.55Z M831.62 840.34h1.30v5.77h-1.30Z M831.62 840.34h2.53v0.8h-2.53Z M833.60 840.64h0.55v5.47h-0.55Z M841.01 786.91h1.30v53.73h-1.30Z M841.01 786.91h2.53v0.8h-2.53Z M842.99 787.21h0.55v53.43h-0.55Z M850.40 822.96h1.30v17.68h-1.30Z M850.40 822.96h2.53v0.8h-2.53Z M852.38 823.26h0.55v17.38h-0.55Z M859.79 756.66h1.30v83.98h-1.30Z M859.79 756.66h2.53v0.8h-2.53Z M861.77 756.96h0.55v83.68h-0.55Z M869.18 794.00h1.30v46.65h-1.30Z M869.18 794.00h2.53v0.8h-2.53Z M871.16 794.30h0.55v46.35h-0.55Z M878.57 822.32h1.30v18.32h-1.30Z M878.57 822.32h2.53v0.8h-2.53Z M880.55 822.62h0.55v18.02h-0.55Z M887.96 840.34h1.30v57.59h-1.30Z M887.96 840.34h2.53v0.8h-2.53Z M889.94 840.64h0.55v57.29h-0.55Z M897.35 817.17h1.30v23.47h-1.30Z M897.35 817.17h2.53v0.8h-2.53Z M899.33 817.47h0.55v23.17h-0.55Z M906.74 813.95h1.30v26.69h-1.30Z M906.74 813.95h2.53v0.8h-2.53Z M908.72 814.25h0.55v26.39h-0.55Z M916.12 840.34h1.30v0.94h-1.30Z M916.12 840.34h2.53v0.8h-2.53Z M918.10 840.64h0.55v0.64h-0.55Z M925.51 790.78h1.30v49.87h-1.30Z M925.51 790.78h2.53v0.8h-2.53Z M927.49 791.08h0.55v49.57h-0.55Z M934.90 825.54h1.30v15.11h-1.30Z M934.90 825.54h2.53v0.8h-2.53Z M936.88 825.84h0.55v14.81h-0.55Z M944.29 790.78h1.30v49.87h-1.30Z M944.29 790.78h2.53v0.8h-2.53Z M946.27 791.08h0.55v49.57h-0.55Z M953.68 755.37h1.30v85.27h-1.30Z M953.68 755.37h2.53v0.8h-2.53Z M955.66 755.67h0.55v84.97h-0.55Z M963.07 840.34h1.30v24.12h-1.30Z M963.07 840.34h2.53v0.8h-2.53Z M965.05 840.64h0.55v23.82h-0.55Z" fill="#000000"/>
<path d="M571.86 804.59h2.53v36.05h-2.53Z M581.25 742.80h2.53v97.84h-2.53Z M590.64 835.82h2.53v4.83h-2.53Z M600.03 793.65h2.53v46.99h-2.53Z M609.42 805.24h2.53v35.40h-2.53Z M618.80 830.99h2.53v9.66h-2.53Z M628.19 772.41h2.53v68.23h-2.53Z M637.58 788.50h2.53v52.14h-2.53Z M646.97 756.96h2.53v83.68h-2.53Z M656.36 814.89h2.53v25.75h-2.53Z M665.75 797.51h2.53v43.13h-2.53Z M675.14 837.42h2.53v3.22h-2.53Z M684.53 810.39h2.53v30.25h-2.53Z M693.92 773.70h2.53v66.95h-2.53Z M703.31 794.30h2.53v46.35h-2.53Z M712.70 836.78h2.53v3.86h-2.53Z M722.08 840.64h2.53v3.86h-2.53Z M731.47 808.46h2.53v32.19h-2.53Z M740.86 831.63h2.53v9.01h-2.53Z M750.25 791.08h2.53v49.57h-2.53Z M759.64 760.82h2.53v79.82h-2.53Z M769.03 771.77h2.53v68.88h-2.53Z M778.42 840.64h2.53v3.86h-2.53Z M787.81 840.64h2.53v45.70h-2.53Z M797.20 813.61h2.53v27.04h-2.53Z M806.59 837.42h2.53v3.22h-2.53Z M815.98 802.02h2.53v38.62h-2.53Z M825.36 825.19h2.53v15.45h-2.53Z M834.75 762.75h2.53v77.89h-2.53Z M844.14 803.31h2.53v37.34h-2.53Z M853.53 840.64h2.53v10.62h-2.53Z M862.92 786.57h2.53v54.07h-2.53Z M872.31 807.17h2.53v33.47h-2.53Z M881.70 840.64h2.53v0.40h-2.53Z M891.09 840.64h2.53v0.40h-2.53Z M900.48 840.64h2.53v21.24h-2.53Z M909.87 840.64h2.53v10.30h-2.53Z M919.25 793.65h2.53v46.99h-2.53Z M928.64 792.36h2.53v48.28h-2.53Z M938.03 808.46h2.53v32.19h-2.53Z M947.42 818.11h2.53v22.53h-2.53Z M956.81 840.64h2.53v1.29h-2.53Z" fill="#76768e"/>
<path d="M571.86 804.29h1.00v36.35h-1.00Z M571.86 804.29h2.53v0.8h-2.53Z M573.84 804.59h0.55v36.05h-0.55Z M581.25 742.50h1.00v98.14h-1.00Z M581.25 742.50h2.53v0.8h-2.53Z M583.23 742.80h0.55v97.84h-0.55Z M590.64 835.52h1.00v5.13h-1.00Z M590.64 835.52h2.53v0.8h-2.53Z M592.62 835.82h0.55v4.83h-0.55Z M600.03 793.35h1.00v47.29h-1.00Z M600.03 793.35h2.53v0.8h-2.53Z M602.01 793.65h0.55v46.99h-0.55Z M609.42 804.94h1.00v35.70h-1.00Z M609.42 804.94h2.53v0.8h-2.53Z M611.40 805.24h0.55v35.40h-0.55Z M618.80 830.69h1.00v9.96h-1.00Z M618.80 830.69h2.53v0.8h-2.53Z M620.78 830.99h0.55v9.66h-0.55Z M628.19 772.11h1.00v68.53h-1.00Z M628.19 772.11h2.53v0.8h-2.53Z M630.17 772.41h0.55v68.23h-0.55Z M637.58 788.20h1.00v52.44h-1.00Z M637.58 788.20h2.53v0.8h-2.53Z M639.56 788.50h0.55v52.14h-0.55Z M646.97 756.66h1.00v83.98h-1.00Z M646.97 756.66h2.53v0.8h-2.53Z M648.95 756.96h0.55v83.68h-0.55Z M656.36 814.59h1.00v26.05h-1.00Z M656.36 814.59h2.53v0.8h-2.53Z M658.34 814.89h0.55v25.75h-0.55Z M665.75 797.21h1.00v43.43h-1.00Z M665.75 797.21h2.53v0.8h-2.53Z M667.73 797.51h0.55v43.13h-0.55Z M675.14 837.12h1.00v3.52h-1.00Z M675.14 837.12h2.53v0.8h-2.53Z M677.12 837.42h0.55v3.22h-0.55Z M684.53 810.09h1.00v30.55h-1.00Z M684.53 810.09h2.53v0.8h-2.53Z M686.51 810.39h0.55v30.25h-0.55Z M693.92 773.40h1.00v67.25h-1.00Z M693.92 773.40h2.53v0.8h-2.53Z M695.90 773.70h0.55v66.95h-0.55Z M703.31 794.00h1.00v46.65h-1.00Z M703.31 794.00h2.53v0.8h-2.53Z M705.29 794.30h0.55v46.35h-0.55Z M712.70 836.48h1.00v4.16h-1.00Z M712.70 836.48h2.53v0.8h-2.53Z M714.68 836.78h0.55v3.86h-0.55Z M722.08 840.34h1.00v4.16h-1.00Z M722.08 840.34h2.53v0.8h-2.53Z M724.06 840.64h0.55v3.86h-0.55Z M731.47 808.16h1.00v32.49h-1.00Z M731.47 808.16h2.53v0.8h-2.53Z M733.45 808.46h0.55v32.19h-0.55Z M740.86 831.33h1.00v9.31h-1.00Z M740.86 831.33h2.53v0.8h-2.53Z M742.84 831.63h0.55v9.01h-0.55Z M750.25 790.78h1.00v49.87h-1.00Z M750.25 790.78h2.53v0.8h-2.53Z M752.23 791.08h0.55v49.57h-0.55Z M759.64 760.52h1.00v80.12h-1.00Z M759.64 760.52h2.53v0.8h-2.53Z M761.62 760.82h0.55v79.82h-0.55Z M769.03 771.47h1.00v69.18h-1.00Z M769.03 771.47h2.53v0.8h-2.53Z M771.01 771.77h0.55v68.88h-0.55Z M778.42 840.34h1.00v4.16h-1.00Z M778.42 840.34h2.53v0.8h-2.53Z M780.40 840.64h0.55v3.86h-0.55Z M787.81 840.34h1.00v46.00h-1.00Z M787.81 840.34h2.53v0.8h-2.53Z M789.79 840.64h0.55v45.70h-0.55Z M797.20 813.31h1.00v27.34h-1.00Z M797.20 813.31h2.53v0.8h-2.53Z M799.18 813.61h0.55v27.04h-0.55Z M806.59 837.12h1.00v3.52h-1.00Z M806.59 837.12h2.53v0.8h-2.53Z M808.57 837.42h0.55v3.22h-0.55Z M815.98 801.72h1.00v38.92h-1.00Z M815.98 801.72h2.53v0.8h-2.53Z M817.95 802.02h0.55v38.62h-0.55Z M825.36 824.89h1.00v15.75h-1.00Z M825.36 824.89h2.53v0.8h-2.53Z M827.34 825.19h0.55v15.45h-0.55Z M834.75 762.45h1.00v78.19h-1.00Z M834.75 762.45h2.53v0.8h-2.53Z M836.73 762.75h0.55v77.89h-0.55Z M844.14 803.01h1.00v37.64h-1.00Z M844.14 803.01h2.53v0.8h-2.53Z M846.12 803.31h0.55v37.34h-0.55Z M853.53 840.34h1.00v10.92h-1.00Z M853.53 840.34h2.53v0.8h-2.53Z M855.51 840.64h0.55v10.62h-0.55Z M862.92 786.27h1.00v54.37h-1.00Z M862.92 786.27h2.53v0.8h-2.53Z M864.90 786.57h0.55v54.07h-0.55Z M872.31 806.87h1.00v33.77h-1.00Z M872.31 806.87h2.53v0.8h-2.53Z M874.29 807.17h0.55v33.47h-0.55Z M881.70 840.34h1.00v0.70h-1.00Z M881.70 840.34h2.53v0.8h-2.53Z M883.68 840.64h0.55v0.40h-0.55Z M891.09 840.34h1.00v0.70h-1.00Z M891.09 840.34h2.53v0.8h-2.53Z M893.07 840.64h0.55v0.40h-0.55Z M900.48 840.34h1.00v21.54h-1.00Z M900.48 840.34h2.53v0.8h-2.53Z M902.46 840.64h0.55v21.24h-0.55Z M909.87 840.34h1.00v10.60h-1.00Z M909.87 840.34h2.53v0.8h-2.53Z M911.85 840.64h0.55v10.30h-0.55Z M919.25 793.35h1.00v47.29h-1.00Z M919.25 793.35h2.53v0.8h-2.53Z M921.23 793.65h0.55v46.99h-0.55Z M928.64 792.06h1.00v48.58h-1.00Z M928.64 792.06h2.53v0.8h-2.53Z M930.62 792.36h0.55v48.28h-0.55Z M938.03 808.16h1.00v32.49h-1.00Z M938.03 808.16h2.53v0.8h-2.53Z M940.01 808.46h0.55v32.19h-0.55Z M947.42 817.81h1.00v22.83h-1.00Z M947.42 817.81h2.53v0.8h-2.53Z M949.40 818.11h0.55v22.53h-0.55Z M956.81 840.34h1.00v1.59h-1.00Z M956.81 840.34h2.53v0.8h-2.53Z M958.79 840.64h0.55v1.29h-0.55Z" fill="#1e1e3a"/>
<path d="M574.99 796.87h2.53v43.77h-2.53Z M584.38 833.56h2.53v7.08h-2.53Z M593.77 792.36h2.53v48.28h-2.53Z M603.16 800.09h2.53v40.55h-2.53Z M612.55 840.64h2.53v5.79h-2.53Z M621.93 840.64h2.53v22.53h-2.53Z M631.32 795.58h2.53v45.06h-2.53Z M640.71 747.95h2.53v92.69h-2.53Z M650.10 798.16h2.53v42.49h-2.53Z M659.49 840.64h2.53v0.40h-2.53Z M668.88 830.34h2.53v10.30h-2.53Z M678.27 807.81h2.53v32.83h-2.53Z M687.66 784.64h2.53v56.00h-2.53Z M697.05 778.20h2.53v62.44h-2.53Z M706.44 833.56h2.53v7.08h-2.53Z M715.83 797.51h2.53v43.13h-2.53Z M725.21 831.63h2.53v9.01h-2.53Z M734.60 840.64h2.53v29.61h-2.53Z M743.99 774.98h2.53v65.66h-2.53Z M753.38 756.96h2.53v83.68h-2.53Z M762.77 796.87h2.53v43.77h-2.53Z M772.16 808.46h2.53v32.19h-2.53Z M781.55 811.03h2.53v29.61h-2.53Z M790.94 840.64h2.53v12.23h-2.53Z M800.33 782.06h2.53v58.58h-2.53Z M809.72 762.75h2.53v77.89h-2.53Z M819.10 829.70h2.53v10.94h-2.53Z M828.49 749.88h2.53v90.76h-2.53Z M837.88 791.08h2.53v49.57h-2.53Z M847.27 798.16h2.53v42.49h-2.53Z M856.66 840.64h2.53v0.40h-2.53Z M866.05 786.57h2.53v54.07h-2.53Z M875.44 808.46h2.53v32.19h-2.53Z M884.83 840.64h2.53v0.40h-2.53Z M894.22 780.13h2.53v60.51h-2.53Z M903.61 800.09h2.53v40.55h-2.53Z M913.00 840.64h2.53v0.40h-2.53Z M922.38 797.51h2.53v43.13h-2.53Z M931.77 808.46h2.53v32.19h-2.53Z M941.16 804.59h2.53v36.05h-2.53Z M950.55 793.01h2.53v47.63h-2.53Z M959.94 766.62h2.53v74.03h-2.53Z" fill="#8c8cc6"/>
<path d="M574.99 796.57h0.90v44.07h-0.90Z M574.99 796.57h2.53v0.8h-2.53Z M576.97 796.87h0.55v43.77h-0.55Z M584.38 833.26h0.90v7.38h-0.90Z M584.38 833.26h2.53v0.8h-2.53Z M586.36 833.56h0.55v7.08h-0.55Z M593.77 792.06h0.90v48.58h-0.90Z M593.77 792.06h2.53v0.8h-2.53Z M595.75 792.36h0.55v48.28h-0.55Z M603.16 799.79h0.90v40.85h-0.90Z M603.16 799.79h2.53v0.8h-2.53Z M605.14 800.09h0.55v40.55h-0.55Z M612.55 840.34h0.90v6.09h-0.90Z M612.55 840.34h2.53v0.8h-2.53Z M614.53 840.64h0.55v5.79h-0.55Z M621.93 840.34h0.90v22.83h-0.90Z M621.93 840.34h2.53v0.8h-2.53Z M623.91 840.64h0.55v22.53h-0.55Z M631.32 795.28h0.90v45.36h-0.90Z M631.32 795.28h2.53v0.8h-2.53Z M633.30 795.58h0.55v45.06h-0.55Z M640.71 747.65h0.90v92.99h-0.90Z M640.71 747.65h2.53v0.8h-2.53Z M642.69 747.95h0.55v92.69h-0.55Z M650.10 797.86h0.90v42.79h-0.90Z M650.10 797.86h2.53v0.8h-2.53Z M652.08 798.16h0.55v42.49h-0.55Z M659.49 840.34h0.90v0.70h-0.90Z M659.49 840.34h2.53v0.8h-2.53Z M661.47 840.64h0.55v0.40h-0.55Z M668.88 830.04h0.90v10.60h-0.90Z M668.88 830.04h2.53v0.8h-2.53Z M670.86 830.34h0.55v10.30h-0.55Z M678.27 807.51h0.90v33.13h-0.90Z M678.27 807.51h2.53v0.8h-2.53Z M680.25 807.81h0.55v32.83h-0.55Z M687.66 784.34h0.90v56.30h-0.90Z M687.66 784.34h2.53v0.8h-2.53Z M689.64 784.64h0.55v56.00h-0.55Z M697.05 777.90h0.90v62.74h-0.90Z M697.05 777.90h2.53v0.8h-2.53Z M699.03 778.20h0.55v62.44h-0.55Z M706.44 833.26h0.90v7.38h-0.90Z M706.44 833.26h2.53v0.8h-2.53Z M708.42 833.56h0.55v7.08h-0.55Z M715.83 797.21h0.90v43.43h-0.90Z M715.83 797.21h2.53v0.8h-2.53Z M717.80 797.51h0.55v43.13h-0.55Z M725.21 831.33h0.90v9.31h-0.90Z M725.21 831.33h2.53v0.8h-2.53Z M727.19 831.63h0.55v9.01h-0.55Z M734.60 840.34h0.90v29.91h-0.90Z M734.60 840.34h2.53v0.8h-2.53Z M736.58 840.64h0.55v29.61h-0.55Z M743.99 774.68h0.90v65.96h-0.90Z M743.99 774.68h2.53v0.8h-2.53Z M745.97 774.98h0.55v65.66h-0.55Z M753.38 756.66h0.90v83.98h-0.90Z M753.38 756.66h2.53v0.8h-2.53Z M755.36 756.96h0.55v83.68h-0.55Z M762.77 796.57h0.90v44.07h-0.90Z M762.77 796.57h2.53v0.8h-2.53Z M764.75 796.87h0.55v43.77h-0.55Z M772.16 808.16h0.90v32.49h-0.90Z M772.16 808.16h2.53v0.8h-2.53Z M774.14 808.46h0.55v32.19h-0.55Z M781.55 810.73h0.90v29.91h-0.90Z M781.55 810.73h2.53v0.8h-2.53Z M783.53 811.03h0.55v29.61h-0.55Z M790.94 840.34h0.90v12.53h-0.90Z M790.94 840.34h2.53v0.8h-2.53Z M792.92 840.64h0.55v12.23h-0.55Z M800.33 781.76h0.90v58.88h-0.90Z M800.33 781.76h2.53v0.8h-2.53Z M802.31 782.06h0.55v58.58h-0.55Z M809.72 762.45h0.90v78.19h-0.90Z M809.72 762.45h2.53v0.8h-2.53Z M811.70 762.75h0.55v77.89h-0.55Z M819.10 829.40h0.90v11.24h-0.90Z M819.10 829.40h2.53v0.8h-2.53Z M821.08 829.70h0.55v10.94h-0.55Z M828.49 749.58h0.90v91.06h-0.90Z M828.49 749.58h2.53v0.8h-2.53Z M830.47 749.88h0.55v90.76h-0.55Z M837.88 790.78h0.90v49.87h-0.90Z M837.88 790.78h2.53v0.8h-2.53Z M839.86 791.08h0.55v49.57h-0.55Z M847.27 797.86h0.90v42.79h-0.90Z M847.27 797.86h2.53v0.8h-2.53Z M849.25 798.16h0.55v42.49h-0.55Z M856.66 840.34h0.90v0.70h-0.90Z M856.66 840.34h2.53v0.8h-2.53Z M858.64 840.64h0.55v0.40h-0.55Z M866.05 786.27h0.90v54.37h-0.90Z M866.05 786.27h2.53v0.8h-2.53Z M868.03 786.57h0.55v54.07h-0.55Z M875.44 808.16h0.90v32.49h-0.90Z M875.44 808.16h2.53v0.8h-2.53Z M877.42 808.46h0.55v32.19h-0.55Z M884.83 840.34h0.90v0.70h-0.90Z M884.83 840.34h2.53v0.8h-2.53Z M886.81 840.64h0.55v0.40h-0.55Z M894.22 779.83h0.90v60.81h-0.90Z M894.22 779.83h2.53v0.8h-2.53Z M896.20 780.13h0.55v60.51h-0.55Z M903.61 799.79h0.90v40.85h-0.90Z M903.61 799.79h2.53v0.8h-2.53Z M905.59 800.09h0.55v40.55h-0.55Z M913.00 840.34h0.90v0.70h-0.90Z M913.00 840.34h2.53v0.8h-2.53Z M914.98 840.64h0.55v0.40h-0.55Z M922.38 797.21h0.90v43.43h-0.90Z M922.38 797.21h2.53v0.8h-2.53Z M924.36 797.51h0.55v43.13h-0.55Z M931.77 808.16h0.90v32.49h-0.90Z M931.77 808.16h2.53v0.8h-2.53Z M933.75 808.46h0.55v32.19h-0.55Z M941.16 804.29h0.90v36.35h-0.90Z M941.16 804.29h2.53v0.8h-2.53Z M943.14 804.59h0.55v36.05h-0.55Z M950.55 792.71h0.90v47.93h-0.90Z M950.55 792.71h2.53v0.8h-2.53Z M952.53 793.01h0.55v47.63h-0.55Z M959.94 766.32h0.90v74.33h-0.90Z M959.94 766.32h2.53v0.8h-2.53Z M961.92 766.62h0.55v74.03h-0.55Z" fill="#18185a"/>
<path d="M565.3 937.5H965.9 M565.3 905.5H965.9 M565.3 873.5H965.9 M565.3 841.5H965.9 M565.3 808.5H965.9 M565.3 776.5H965.9 M565.3 744.5H965.9 M565.3 712.5H965.9" stroke="#000" stroke-opacity="0.55" stroke-width="1"/>
<line x1="565.3" y1="711.9" x2="565.3" y2="937.2" stroke="#222" stroke-width="1.2"/>
<line x1="565.3" y1="841.5" x2="965.9" y2="841.5" stroke="#111" stroke-width="1.2"/>
<g clip-path="url(#clip140146022125120)"><text x="566.4" y="862.7" font-size="11" text-anchor="middle" fill="#111">1</text><text x="591.4" y="862.7" font-size="11" text-anchor="middle" fill="#111">9</text><text x="616.5" y="862.7" font-size="11" text-anchor="middle" fill="#111">17</text><text x="641.5" y="862.7" font-size="11" text-anchor="middle" fill="#111">25</text><text x="666.5" y="862.7" font-size="11" text-anchor="middle" fill="#111">33</text><text x="691.6" y="862.7" font-size="11" text-anchor="middle" fill="#111">41</text><text x="716.6" y="862.7" font-size="11" text-anchor="middle" fill="#111">49</text><text x="741.7" y="862.7" font-size="11" text-anchor="middle" fill="#111">57</text><text x="766.7" y="862.7" font-size="11" text-anchor="middle" fill="#111">65</text><text x="791.7" y="862.7" font-size="11" text-anchor="middle" fill="#111">73</text><text x="816.8" y="862.7" font-size="11" text-anchor="middle" fill="#111">81</text><text x="841.8" y="862.7" font-size="11" text-anchor="middle" fill="#111">89</text><text x="866.8" y="862.7" font-size="11" text-anchor="middle" fill="#111">97</text><text x="891.9" y="862.7" font-size="11" text-anchor="middle" fill="#111">105</text><text x="916.9" y="862.7" font-size="11" text-anchor="middle" fill="#111">113</text><text x="942.0" y="862.7" font-size="11" text-anchor="middle" fill="#111">121</text></g>
<clipPath id="clip140146022124928"><rect x="92.4" y="1037.5" width="318.4" height="250.79999999999995"/></clipPath>
<line x1="61.7" y1="983.75" x2="61.7" y2="1270.6" stroke="#222" stroke-width="1.3"/>
<line x1="61.7" y1="983.75" x2="482.9" y2="983.75" stroke="#111" stroke-width="1.3"/>
<text x="171.8" y="1004.8" font-size="12.5" font-weight="bold" fill="#111" textLength="194.5" lengthAdjust="spacingAndGlyphs">chip 2 gain vs channel m(mV/fC)</text>
<rect x="91.9" y="1037.5" width="318.4" height="210.79999999999995" fill="#c0c0c0" stroke="#707070" stroke-width="1"/>
<line x1="87.9" y1="1248.5" x2="410.3" y2="1248.5" stroke="#1a1a1a" stroke-width="1"/>
<text x="83" y="1252.3" font-size="11" text-anchor="end" fill="#111">-5</text>
<line x1="87.9" y1="1218.5" x2="410.3" y2="1218.5" stroke="#1a1a1a" stroke-width="1"/>
<text x="83" y="1222.1" font-size="11" text-anchor="end" fill="#111">0</text>
<line x1="87.9" y1="1188.5" x2="410.3" y2="1188.5" stroke="#1a1a1a" stroke-width="1"/>
<text x="83" y="1192.0" font-size="11" text-anchor="end" fill="#111">5</text>
<line x1="87.9" y1="1158.5" x2="410.3" y2="1158.5" stroke="#1a1a1a" stroke-width="1"/>
<text x="83" y="1161.9" font-size="11" text-anchor="end" fill="#111">10</text>
<line x1="87.9" y1="1128.5" x2="410.3" y2="1128.5" stroke="#1a1a1a" stroke-width="1"/>
<text x="83" y="1131.8" font-size="11" text-anchor="end" fill="#111">15</text>
<line x1="87.9" y1="1098.5" x2="410.3" y2="1098.5" stroke="#1a1a1a" stroke-width="1"/>
<text x="83" y="1101.7" font-size="11" text-anchor="end" fill="#111">20</text>
<line x1="87.9" y1="1068.5" x2="410.3" y2="1068.5" stroke="#1a1a1a" stroke-width="1"/>
<text x="83" y="1071.6" font-size="11" text-anchor="end" fill="#111">25</text>
<line x1="87.9" y1="1038.5" x2="410.3" y2="1038.5" stroke="#1a1a1a" stroke-width="1"/>
<text x="83" y="1041.5" font-size="11" text-anchor="end" fill="#111">30</text>
<path d="M91.90 1218.2v3.8 M94.39 1218.2v3.8 M96.88 1218.2v3.8 M99.36 1218.2v3.8 M101.85 1218.2v3.8 M104.34 1218.2v3.8 M106.83 1218.2v3.8 M109.31 1218.2v3.8 M111.80 1218.2v3.8 M114.29 1218.2v3.8 M116.78 1218.2v3.8 M119.26 1218.2v3.8 M121.75 1218.2v3.8 M124.24 1218.2v3.8 M126.72 1218.2v3.8 M129.21 1218.2v3.8 M131.70 1218.2v3.8 M134.19 1218.2v3.8 M136.68 1218.2v3.8 M139.16 1218.2v3.8 M141.65 1218.2v3.8 M144.14 1218.2v3.8 M146.62 1218.2v3.8 M149.11 1218.2v3.8 M151.60 1218.2v3.8 M154.09 1218.2v3.8 M156.57 1218.2v3.8 M159.06 1218.2v3.8 M161.55 1218.2v3.8 M164.04 1218.2v3.8 M166.53 1218.2v3.8 M169.01 1218.2v3.8 M171.50 1218.2v3.8 M173.99 1218.2v3.8 M176.47 1218.2v3.8 M178.96 1218.2v3.8 M181.45 1218.2v3.8 M183.94 1218.2v3.8 M186.43 1218.2v3.8 M188.91 1218.2v3.8 M191.40 1218.2v3.8 M193.89 1218.2v3.8 M196.38 1218.2v3.8 M198.86 1218.2v3.8 M201.35 1218.2v3.8 M203.84 1218.2v3.8 M206.32 1218.2v3.8 M208.81 1218.2v3.8 M211.30 1218.2v3.8 M213.79 1218.2v3.8 M216.27 1218.2v3.8 M218.76 1218.2v3.8 M221.25 1218.2v3.8 M223.74 1218.2v3.8 M226.22 1218.2v3.8 M228.71 1218.2v3.8 M231.20 1218.2v3.8 M233.69 1218.2v3.8 M236.17 1218.2v3.8 M238.66 1218.2v3.8 M241.15 1218.2v3.8 M243.64 1218.2v3.8 M246.12 1218.2v3.8 M248.61 1218.2v3.8 M251.10 1218.2v3.8 M253.59 1218.2v3.8 M256.07 1218.2v3.8 M258.56 1218.2v3.8 M261.05 1218.2v3.8 M263.54 1218.2v3.8 M266.02 1218.2v3.8 M268.51 1218.2v3.8 M271.00 1218.2v3.8 M273.49 1218.2v3.8 M275.98 1218.2v3.8 M278.46 1218.2v3.8 M280.95 1218.2v3.8 M283.44 1218.2v3.8 M285.92 1218.2v3.8 M288.41 1218.2v3.8 M290.90 1218.2v3.8 M293.39 1218.2v3.8 M295.88 1218.2v3.8 M298.36 1218.2v3.8 M300.85 1218.2v3.8 M303.34 1218.2v3.8 M305.82 1218.2v3.8 M308.31 1218.2v3.8 M310.80 1218.2v3.8 M313.29 1218.2v3.8 M315.77 1218.2v3.8 M318.26 1218.2v3.8 M320.75 1218.2v3.8 M323.24 1218.2v3.8 M325.73 1218.2v3.8 M328.21 1218.2v3.8 M330.70 1218.2v3.8 M333.19 1218.2v3.8 M335.67 1218.2v3.8 M338.16 1218.2v3.8 M340.65 1218.2v3.8 M343.14 1218.2v3.8 M345.62 1218.2v3.8 M348.11 1218.2v3.8 M350.60 1218.2v3.8 M353.09 1218.2v3.8 M355.57 1218.2v3.8 M358.06 1218.2v3.8 M360.55 1218.2v3.8 M363.04 1218.2v3.8 M365.52 1218.2v3.8 M368.01 1218.2v3.8 M370.50 1218.2v3.8 M372.99 1218.2v3.8 M375.48 1218.2v3.8 M377.96 1218.2v3.8 M380.45 1218.2v3.8 M382.94 1218.2v3.8 M385.42 1218.2v3.8 M387.91 1218.2v3.8 M390.40 1218.2v3.8 M392.89 1218.2v3.8 M395.38 1218.2v3.8 M397.86 1218.2v3.8 M400.35 1218.2v3.8 M402.84 1218.2v3.8 M405.32 1218.2v3.8 M407.81 1218.2v3.8 M410.30 1218.2v3.8" stroke="#1a1a1a" stroke-width="0.9"/>
<path d="M92.03 1067.01h2.24v151.17h-2.24Z M99.49 1070.02h2.24v148.16h-2.24Z M114.41 1192.29h2.24v25.90h-2.24Z M121.88 1070.63h2.24v147.56h-2.24Z M129.34 1135.07h2.24v83.12h-2.24Z M136.80 1069.42h2.24v148.76h-2.24Z M144.26 1067.61h2.24v150.57h-2.24Z M151.72 1182.65h2.24v35.53h-2.24Z M159.19 1082.07h2.24v136.12h-2.24Z M166.65 1071.23h2.24v146.96h-2.24Z M174.11 1098.33h2.24v119.85h-2.24Z M181.57 1067.61h2.24v150.57h-2.24Z M189.04 1078.46h2.24v139.73h-2.24Z M196.50 1067.61h2.24v150.57h-2.24Z M203.96 1067.01h2.24v151.17h-2.24Z M211.42 1075.44h2.24v142.74h-2.24Z M218.89 1074.24h2.24v143.95h-2.24Z M226.35 1050.75h2.24v167.44h-2.24Z M233.81 1182.05h2.24v36.14h-2.24Z M241.27 1077.85h2.24v140.33h-2.24Z M256.20 1082.67h2.24v135.51h-2.24Z M263.66 1078.46h2.24v139.73h-2.24Z M271.12 1075.44h2.24v142.74h-2.24Z M286.05 1070.02h2.24v148.16h-2.24Z M293.51 1112.18h2.24v106.00h-2.24Z M300.98 1071.83h2.24v146.36h-2.24Z M315.90 1066.41h2.24v151.78h-2.24Z M323.36 1196.50h2.24v21.68h-2.24Z M330.83 1074.84h2.24v143.34h-2.24Z M338.29 1218.19h2.24v12.05h-2.24Z M345.75 1073.03h2.24v145.15h-2.24Z M353.21 1063.40h2.24v154.79h-2.24Z M360.67 1085.08h2.24v133.11h-2.24Z M368.14 1078.46h2.24v139.73h-2.24Z M375.60 1073.64h2.24v144.55h-2.24Z M383.06 1117.60h2.24v100.58h-2.24Z M390.52 1088.69h2.24v129.49h-2.24Z M397.99 1218.19h2.24v4.22h-2.24Z M405.45 1074.24h2.24v143.95h-2.24Z" fill="#58585e"/>
<path d="M92.03 1066.71h1.10v151.47h-1.10Z M92.03 1066.71h2.24v0.8h-2.24Z M93.86 1067.01h0.40v151.17h-0.40Z M99.49 1069.72h1.10v148.46h-1.10Z M99.49 1069.72h2.24v0.8h-2.24Z M101.32 1070.02h0.40v148.16h-0.40Z M114.41 1191.99h1.10v26.20h-1.10Z M114.41 1191.99h2.24v0.8h-2.24Z M116.25 1192.29h0.40v25.90h-0.40Z M121.88 1070.33h1.10v147.86h-1.10Z M121.88 1070.33h2.24v0.8h-2.24Z M123.71 1070.63h0.40v147.56h-0.40Z M129.34 1134.77h1.10v83.42h-1.10Z M129.34 1134.77h2.24v0.8h-2.24Z M131.18 1135.07h0.40v83.12h-0.40Z M136.80 1069.12h1.10v149.06h-1.10Z M136.80 1069.12h2.24v0.8h-2.24Z M138.64 1069.42h0.40v148.76h-0.40Z M144.26 1067.31h1.10v150.87h-1.10Z M144.26 1067.31h2.24v0.8h-2.24Z M146.10 1067.61h0.40v150.57h-0.40Z M151.72 1182.35h1.10v35.83h-1.10Z M151.72 1182.35h2.24v0.8h-2.24Z M153.56 1182.65h0.40v35.53h-0.40Z M159.19 1081.77h1.10v136.42h-1.10Z M159.19 1081.77h2.24v0.8h-2.24Z M161.03 1082.07h0.40v136.12h-0.40Z M166.65 1070.93h1.10v147.26h-1.10Z M166.65 1070.93h2.24v0.8h-2.24Z M168.49 1071.23h0.40v146.96h-0.40Z M174.11 1098.03h1.10v120.15h-1.10Z M174.11 1098.03h2.24v0.8h-2.24Z M175.95 1098.33h0.40v119.85h-0.40Z M181.57 1067.31h1.10v150.87h-1.10Z M181.57 1067.31h2.24v0.8h-2.24Z M183.41 1067.61h0.40v150.57h-0.40Z M189.04 1078.16h1.10v140.03h-1.10Z M189.04 1078.16h2.24v0.8h-2.24Z M190.88 1078.46h0.40v139.73h-0.40Z M196.50 1067.31h1.10v150.87h-1.10Z M196.50 1067.31h2.24v0.8h-2.24Z M198.34 1067.61h0.40v150.57h-0.40Z M203.96 1066.71h1.10v151.47h-1.10Z M203.96 1066.71h2.24v0.8h-2.24Z M205.80 1067.01h0.40v151.17h-0.40Z M211.42 1075.14h1.10v143.04h-1.10Z M211.42 1075.14h2.24v0.8h-2.24Z M213.26 1075.44h0.40v142.74h-0.40Z M218.89 1073.94h1.10v144.25h-1.10Z M218.89 1073.94h2.24v0.8h-2.24Z M220.72 1074.24h0.40v143.95h-0.40Z M226.35 1050.45h1.10v167.74h-1.10Z M226.35 1050.45h2.24v0.8h-2.24Z M228.19 1050.75h0.40v167.44h-0.40Z M233.81 1181.75h1.10v36.44h-1.10Z M233.81 1181.75h2.24v0.8h-2.24Z M235.65 1182.05h0.40v36.14h-0.40Z M241.27 1077.55h1.10v140.63h-1.10Z M241.27 1077.55h2.24v0.8h-2.24Z M243.11 1077.85h0.40v140.33h-0.40Z M256.20 1082.37h1.10v135.81h-1.10Z M256.20 1082.37h2.24v0.8h-2.24Z M258.04 1082.67h0.40v135.51h-0.40Z M263.66 1078.16h1.10v140.03h-1.10Z M263.66 1078.16h2.24v0.8h-2.24Z M265.50 1078.46h0.40v139.73h-0.40Z M271.12 1075.14h1.10v143.04h-1.10Z M271.12 1075.14h2.24v0.8h-2.24Z M272.96 1075.44h0.40v142.74h-0.40Z M286.05 1069.72h1.10v148.46h-1.10Z M286.05 1069.72h2.24v0.8h-2.24Z M287.89 1070.02h0.40v148.16h-0.40Z M293.51 1111.88h1.10v106.30h-1.10Z M293.51 1111.88h2.24v0.8h-2.24Z M295.35 1112.18h0.40v106.00h-0.40Z M300.98 1071.53h1.10v146.66h-1.10Z M300.98 1071.53h2.24v0.8h-2.24Z M302.81 1071.83h0.40v146.36h-0.40Z M315.90 1066.11h1.10v152.08h-1.10Z M315.90 1066.11h2.24v0.8h-2.24Z M317.74 1066.41h0.40v151.78h-0.40Z M323.36 1196.20h1.10v21.98h-1.10Z M323.36 1196.20h2.24v0.8h-2.24Z M325.20 1196.50h0.40v21.68h-0.40Z M330.83 1074.54h1.10v143.64h-1.10Z M330.83 1074.54h2.24v0.8h-2.24Z M332.66 1074.84h0.40v143.34h-0.40Z M338.29 1217.89h1.10v12.35h-1.10Z M338.29 1217.89h2.24v0.8h-2.24Z M340.13 1218.19h0.40v12.05h-0.40Z M345.75 1072.73h1.10v145.45h-1.10Z M345.75 1072.73h2.24v0.8h-2.24Z M347.59 1073.03h0.40v145.15h-0.40Z M353.21 1063.10h1.10v155.09h-1.10Z M353.21 1063.10h2.24v0.8h-2.24Z M355.05 1063.40h0.40v154.79h-0.40Z M360.67 1084.78h1.10v133.41h-1.10Z M360.67 1084.78h2.24v0.8h-2.24Z M362.51 1085.08h0.40v133.11h-0.40Z M368.14 1078.16h1.10v140.03h-1.10Z M368.14 1078.16h2.24v0.8h-2.24Z M369.98 1078.46h0.40v139.73h-0.40Z M375.60 1073.34h1.10v144.85h-1.10Z M375.60 1073.34h2.24v0.8h-2.24Z M377.44 1073.64h0.40v144.55h-0.40Z M383.06 1117.30h1.10v100.88h-1.10Z M383.06 1117.30h2.24v0.8h-2.24Z M384.90 1117.60h0.40v100.58h-0.40Z M390.52 1088.39h1.10v129.79h-1.10Z M390.52 1088.39h2.24v0.8h-2.24Z M392.36 1088.69h0.40v129.49h-0.40Z M397.99 1217.89h1.10v4.52h-1.10Z M397.99 1217.89h2.24v0.8h-2.24Z M399.82 1218.19h0.40v4.22h-0.40Z M405.45 1073.94h1.10v144.25h-1.10Z M405.45 1073.94h2.24v0.8h-2.24Z M407.29 1074.24h0.40v143.95h-0.40Z" fill="#000000"/>
<path d="M94.51 1067.01h2.24v151.17h-2.24Z M97.00 1064.00h2.24v154.19h-2.24Z M101.97 1077.85h2.24v140.33h-2.24Z M109.44 1083.88h2.24v134.31h-2.24Z M111.92 1066.41h2.24v151.78h-2.24Z M116.90 1067.61h2.24v150.57h-2.24Z M119.39 1070.02h2.24v148.16h-2.24Z M124.36 1065.21h2.24v152.98h-2.24Z M126.85 1069.42h2.24v148.76h-2.24Z M131.82 1112.18h2.24v106.00h-2.24Z M139.29 1078.46h2.24v139.73h-2.24Z M141.78 1071.83h2.24v146.36h-2.24Z M146.75 1071.83h2.24v146.36h-2.24Z M149.24 1076.05h2.24v142.14h-2.24Z M154.21 1065.21h2.24v152.98h-2.24Z M156.70 1070.63h2.24v147.56h-2.24Z M161.67 1064.00h2.24v154.19h-2.24Z M169.14 1077.25h2.24v140.93h-2.24Z M171.62 1073.64h2.24v144.55h-2.24Z M176.60 1067.61h2.24v150.57h-2.24Z M179.09 1078.46h2.24v139.73h-2.24Z M184.06 1078.46h2.24v139.73h-2.24Z M186.55 1187.47h2.24v30.72h-2.24Z M194.01 1073.64h2.24v144.55h-2.24Z M198.99 1077.25h2.24v140.93h-2.24Z M201.47 1077.25h2.24v140.93h-2.24Z M206.45 1195.90h2.24v22.28h-2.24Z M208.94 1216.08h2.24v2.11h-2.24Z M213.91 1070.02h2.24v148.16h-2.24Z M216.40 1072.43h2.24v145.75h-2.24Z M223.86 1183.86h2.24v34.33h-2.24Z M228.84 1216.38h2.24v1.81h-2.24Z M231.32 1218.19h2.24v0.40h-2.24Z M236.30 1092.31h2.24v125.88h-2.24Z M238.79 1072.43h2.24v145.75h-2.24Z M243.76 1079.66h2.24v138.53h-2.24Z M246.25 1088.69h2.24v129.49h-2.24Z M253.71 1187.47h2.24v30.72h-2.24Z M258.69 1072.43h2.24v145.75h-2.24Z M261.18 1079.66h2.24v138.53h-2.24Z M266.15 1155.55h2.24v62.64h-2.24Z M268.64 1073.03h2.24v145.15h-2.24Z M273.61 1070.63h2.24v147.56h-2.24Z M276.10 1073.03h2.24v145.15h-2.24Z M281.08 1073.03h2.24v145.15h-2.24Z M283.56 1074.84h2.24v143.34h-2.24Z M288.54 1079.66h2.24v138.53h-2.24Z M291.02 1074.24h2.24v143.95h-2.24Z M296.00 1070.02h2.24v148.16h-2.24Z M298.49 1218.19h2.24v1.81h-2.24Z M303.46 1090.50h2.24v127.68h-2.24Z M310.93 1077.85h2.24v140.33h-2.24Z M313.41 1074.24h2.24v143.95h-2.24Z M318.39 1082.07h2.24v136.12h-2.24Z M320.88 1218.19h2.24v0.40h-2.24Z M325.85 1074.24h2.24v143.95h-2.24Z M328.34 1074.84h2.24v143.34h-2.24Z M333.31 1083.27h2.24v134.91h-2.24Z M340.77 1075.44h2.24v142.74h-2.24Z M343.26 1062.80h2.24v155.39h-2.24Z M348.24 1075.44h2.24v142.74h-2.24Z M350.73 1075.44h2.24v142.74h-2.24Z M355.70 1076.65h2.24v141.54h-2.24Z M358.19 1071.23h2.24v146.96h-2.24Z M363.16 1150.13h2.24v68.06h-2.24Z M370.62 1071.23h2.24v146.96h-2.24Z M373.11 1066.41h2.24v151.78h-2.24Z M378.09 1068.22h2.24v149.97h-2.24Z M380.58 1074.24h2.24v143.95h-2.24Z M385.55 1082.07h2.24v136.12h-2.24Z M388.04 1070.02h2.24v148.16h-2.24Z M400.48 1071.83h2.24v146.36h-2.24Z M402.96 1065.21h2.24v152.98h-2.24Z" fill="#a8a8ac"/>
<path d="M94.51 1066.71h1.15v151.47h-1.15Z M94.51 1066.71h2.24v0.8h-2.24Z M96.35 1067.01h0.40v151.17h-0.40Z M97.00 1063.70h1.15v154.49h-1.15Z M97.00 1063.70h2.24v0.8h-2.24Z M98.84 1064.00h0.40v154.19h-0.40Z M101.97 1077.55h1.15v140.63h-1.15Z M101.97 1077.55h2.24v0.8h-2.24Z M103.81 1077.85h0.40v140.33h-0.40Z M109.44 1083.58h1.15v134.61h-1.15Z M109.44 1083.58h2.24v0.8h-2.24Z M111.27 1083.88h0.40v134.31h-0.40Z M111.92 1066.11h1.15v152.08h-1.15Z M111.92 1066.11h2.24v0.8h-2.24Z M113.76 1066.41h0.40v151.78h-0.40Z M116.90 1067.31h1.15v150.87h-1.15Z M116.90 1067.31h2.24v0.8h-2.24Z M118.74 1067.61h0.40v150.57h-0.40Z M119.39 1069.72h1.15v148.46h-1.15Z M119.39 1069.72h2.24v0.8h-2.24Z M121.22 1070.02h0.40v148.16h-0.40Z M124.36 1064.91h1.15v153.28h-1.15Z M124.36 1064.91h2.24v0.8h-2.24Z M126.20 1065.21h0.40v152.98h-0.40Z M126.85 1069.12h1.15v149.06h-1.15Z M126.85 1069.12h2.24v0.8h-2.24Z M128.69 1069.42h0.40v148.76h-0.40Z M131.82 1111.88h1.15v106.30h-1.15Z M131.82 1111.88h2.24v0.8h-2.24Z M133.66 1112.18h0.40v106.00h-0.40Z M139.29 1078.16h1.15v140.03h-1.15Z M139.29 1078.16h2.24v0.8h-2.24Z M141.12 1078.46h0.40v139.73h-0.40Z M141.78 1071.53h1.15v146.66h-1.15Z M141.78 1071.53h2.24v0.8h-2.24Z M143.61 1071.83h0.40v146.36h-0.40Z M146.75 1071.53h1.15v146.66h-1.15Z M146.75 1071.53h2.24v0.8h-2.24Z M148.59 1071.83h0.40v146.36h-0.40Z M149.24 1075.75h1.15v142.44h-1.15Z M149.24 1075.75h2.24v0.8h-2.24Z M151.07 1076.05h0.40v142.14h-0.40Z M154.21 1064.91h1.15v153.28h-1.15Z M154.21 1064.91h2.24v0.8h-2.24Z M156.05 1065.21h0.40v152.98h-0.40Z M156.70 1070.33h1.15v147.86h-1.15Z M156.70 1070.33h2.24v0.8h-2.24Z M158.54 1070.63h0.40v147.56h-0.40Z M161.67 1063.70h1.15v154.49h-1.15Z M161.67 1063.70h2.24v0.8h-2.24Z M163.51 1064.00h0.40v154.19h-0.40Z M169.14 1076.95h1.15v141.23h-1.15Z M169.14 1076.95h2.24v0.8h-2.24Z M170.97 1077.25h0.40v140.93h-0.40Z M171.62 1073.34h1.15v144.85h-1.15Z M171.62 1073.34h2.24v0.8h-2.24Z M173.46 1073.64h0.40v144.55h-0.40Z M176.60 1067.31h1.15v150.87h-1.15Z M176.60 1067.31h2.24v0.8h-2.24Z M178.44 1067.61h0.40v150.57h-0.40Z M179.09 1078.16h1.15v140.03h-1.15Z M179.09 1078.16h2.24v0.8h-2.24Z M180.93 1078.46h0.40v139.73h-0.40Z M184.06 1078.16h1.15v140.03h-1.15Z M184.06 1078.16h2.24v0.8h-2.24Z M185.90 1078.46h0.40v139.73h-0.40Z M186.55 1187.17h1.15v31.02h-1.15Z M186.55 1187.17h2.24v0.8h-2.24Z M188.39 1187.47h0.40v30.72h-0.40Z M194.01 1073.34h1.15v144.85h-1.15Z M194.01 1073.34h2.24v0.8h-2.24Z M195.85 1073.64h0.40v144.55h-0.40Z M198.99 1076.95h1.15v141.23h-1.15Z M198.99 1076.95h2.24v0.8h-2.24Z M200.82 1077.25h0.40v140.93h-0.40Z M201.47 1076.95h1.15v141.23h-1.15Z M201.47 1076.95h2.24v0.8h-2.24Z M203.31 1077.25h0.40v140.93h-0.40Z M206.45 1195.60h1.15v22.58h-1.15Z M206.45 1195.60h2.24v0.8h-2.24Z M208.29 1195.90h0.40v22.28h-0.40Z M208.94 1215.78h1.15v2.41h-1.15Z M208.94 1215.78h2.24v0.8h-2.24Z M210.77 1216.08h0.40v2.11h-0.40Z M213.91 1069.72h1.15v148.46h-1.15Z M213.91 1069.72h2.24v0.8h-2.24Z M215.75 1070.02h0.40v148.16h-0.40Z M216.40 1072.13h1.15v146.05h-1.15Z M216.40 1072.13h2.24v0.8h-2.24Z M218.24 1072.43h0.40v145.75h-0.40Z M223.86 1183.56h1.15v34.63h-1.15Z M223.86 1183.56h2.24v0.8h-2.24Z M225.70 1183.86h0.40v34.33h-0.40Z M228.84 1216.08h1.15v2.11h-1.15Z M228.84 1216.08h2.24v0.8h-2.24Z M230.67 1216.38h0.40v1.81h-0.40Z M231.32 1217.89h1.15v0.70h-1.15Z M231.32 1217.89h2.24v0.8h-2.24Z M233.16 1218.19h0.40v0.40h-0.40Z M236.30 1092.01h1.15v126.18h-1.15Z M236.30 1092.01h2.24v0.8h-2.24Z M238.14 1092.31h0.40v125.88h-0.40Z M238.79 1072.13h1.15v146.05h-1.15Z M238.79 1072.13h2.24v0.8h-2.24Z M240.62 1072.43h0.40v145.75h-0.40Z M243.76 1079.36h1.15v138.83h-1.15Z M243.76 1079.36h2.24v0.8h-2.24Z M245.60 1079.66h0.40v138.53h-0.40Z M246.25 1088.39h1.15v129.79h-1.15Z M246.25 1088.39h2.24v0.8h-2.24Z M248.09 1088.69h0.40v129.49h-0.40Z M253.71 1187.17h1.15v31.02h-1.15Z M253.71 1187.17h2.24v0.8h-2.24Z M255.55 1187.47h0.40v30.72h-0.40Z M258.69 1072.13h1.15v146.05h-1.15Z M258.69 1072.13h2.24v0.8h-2.24Z M260.53 1072.43h0.40v145.75h-0.40Z M261.18 1079.36h1.15v138.83h-1.15Z M261.18 1079.36h2.24v0.8h-2.24Z M263.01 1079.66h0.40v138.53h-0.40Z M266.15 1155.25h1.15v62.94h-1.15Z M266.15 1155.25h2.24v0.8h-2.24Z M267.99 1155.55h0.40v62.64h-0.40Z M268.64 1072.73h1.15v145.45h-1.15Z M268.64 1072.73h2.24v0.8h-2.24Z M270.48 1073.03h0.40v145.15h-0.40Z M273.61 1070.33h1.15v147.86h-1.15Z M273.61 1070.33h2.24v0.8h-2.24Z M275.45 1070.63h0.40v147.56h-0.40Z M276.10 1072.73h1.15v145.45h-1.15Z M276.10 1072.73h2.24v0.8h-2.24Z M277.94 1073.03h0.40v145.15h-0.40Z M281.08 1072.73h1.15v145.45h-1.15Z M281.08 1072.73h2.24v0.8h-2.24Z M282.91 1073.03h0.40v145.15h-0.40Z M283.56 1074.54h1.15v143.64h-1.15Z M283.56 1074.54h2.24v0.8h-2.24Z M285.40 1074.84h0.40v143.34h-0.40Z M288.54 1079.36h1.15v138.83h-1.15Z M288.54 1079.36h2.24v0.8h-2.24Z M290.38 1079.66h0.40v138.53h-0.40Z M291.02 1073.94h1.15v144.25h-1.15Z M291.02 1073.94h2.24v0.8h-2.24Z M292.86 1074.24h0.40v143.95h-0.40Z M296.00 1069.72h1.15v148.46h-1.15Z M296.00 1069.72h2.24v0.8h-2.24Z M297.84 1070.02h0.40v148.16h-0.40Z M298.49 1217.89h1.15v2.11h-1.15Z M298.49 1217.89h2.24v0.8h-2.24Z M300.33 1218.19h0.40v1.81h-0.40Z M303.46 1090.20h1.15v127.98h-1.15Z M303.46 1090.20h2.24v0.8h-2.24Z M305.30 1090.50h0.40v127.68h-0.40Z M310.93 1077.55h1.15v140.63h-1.15Z M310.93 1077.55h2.24v0.8h-2.24Z M312.76 1077.85h0.40v140.33h-0.40Z M313.41 1073.94h1.15v144.25h-1.15Z M313.41 1073.94h2.24v0.8h-2.24Z M315.25 1074.24h0.40v143.95h-0.40Z M318.39 1081.77h1.15v136.42h-1.15Z M318.39 1081.77h2.24v0.8h-2.24Z M320.23 1082.07h0.40v136.12h-0.40Z M320.88 1217.89h1.15v0.70h-1.15Z M320.88 1217.89h2.24v0.8h-2.24Z M322.71 1218.19h0.40v0.40h-0.40Z M325.85 1073.94h1.15v144.25h-1.15Z M325.85 1073.94h2.24v0.8h-2.24Z M327.69 1074.24h0.40v143.95h-0.40Z M328.34 1074.54h1.15v143.64h-1.15Z M328.34 1074.54h2.24v0.8h-2.24Z M330.18 1074.84h0.40v143.34h-0.40Z M333.31 1082.97h1.15v135.21h-1.15Z M333.31 1082.97h2.24v0.8h-2.24Z M335.15 1083.27h0.40v134.91h-0.40Z M340.77 1075.14h1.15v143.04h-1.15Z M340.77 1075.14h2.24v0.8h-2.24Z M342.61 1075.44h0.40v142.74h-0.40Z M343.26 1062.50h1.15v155.69h-1.15Z M343.26 1062.50h2.24v0.8h-2.24Z M345.10 1062.80h0.40v155.39h-0.40Z M348.24 1075.14h1.15v143.04h-1.15Z M348.24 1075.14h2.24v0.8h-2.24Z M350.07 1075.44h0.40v142.74h-0.40Z M350.73 1075.14h1.15v143.04h-1.15Z M350.73 1075.14h2.24v0.8h-2.24Z M352.56 1075.44h0.40v142.74h-0.40Z M355.70 1076.35h1.15v141.84h-1.15Z M355.70 1076.35h2.24v0.8h-2.24Z M357.54 1076.65h0.40v141.54h-0.40Z M358.19 1070.93h1.15v147.26h-1.15Z M358.19 1070.93h2.24v0.8h-2.24Z M360.03 1071.23h0.40v146.96h-0.40Z M363.16 1149.83h1.15v68.36h-1.15Z M363.16 1149.83h2.24v0.8h-2.24Z M365.00 1150.13h0.40v68.06h-0.40Z M370.62 1070.93h1.15v147.26h-1.15Z M370.62 1070.93h2.24v0.8h-2.24Z M372.46 1071.23h0.40v146.96h-0.40Z M373.11 1066.11h1.15v152.08h-1.15Z M373.11 1066.11h2.24v0.8h-2.24Z M374.95 1066.41h0.40v151.78h-0.40Z M378.09 1067.92h1.15v150.27h-1.15Z M378.09 1067.92h2.24v0.8h-2.24Z M379.93 1068.22h0.40v149.97h-0.40Z M380.58 1073.94h1.15v144.25h-1.15Z M380.58 1073.94h2.24v0.8h-2.24Z M382.41 1074.24h0.40v143.95h-0.40Z M385.55 1081.77h1.15v136.42h-1.15Z M385.55 1081.77h2.24v0.8h-2.24Z M387.39 1082.07h0.40v136.12h-0.40Z M388.04 1069.72h1.15v148.46h-1.15Z M388.04 1069.72h2.24v0.8h-2.24Z M389.88 1070.02h0.40v148.16h-0.40Z M400.48 1071.53h1.15v146.66h-1.15Z M400.48 1071.53h2.24v0.8h-2.24Z M402.31 1071.83h0.40v146.36h-0.40Z M402.96 1064.91h1.15v153.28h-1.15Z M402.96 1064.91h2.24v0.8h-2.24Z M404.80 1065.21h0.40v152.98h-0.40Z" fill="#000000"/>
<path d="M104.46 1078.46h2.24v139.73h-2.24Z M106.95 1064.00h2.24v154.19h-2.24Z M134.31 1066.41h2.24v151.78h-2.24Z M164.16 1077.85h2.24v140.33h-2.24Z M191.53 1080.26h2.24v137.92h-2.24Z M221.38 1075.44h2.24v142.74h-2.24Z M248.74 1066.41h2.24v151.78h-2.24Z M251.22 1082.07h2.24v136.12h-2.24Z M278.59 1077.85h2.24v140.33h-2.24Z M305.95 1164.58h2.24v53.60h-2.24Z M308.44 1076.05h2.24v142.14h-2.24Z M335.80 1067.01h2.24v151.17h-2.24Z M365.65 1168.80h2.24v49.39h-2.24Z M393.01 1060.39h2.24v157.80h-2.24Z M395.50 1071.23h2.24v146.96h-2.24Z" fill="#8c8cd0"/>
<path d="M104.46 1078.16h0.90v140.03h-0.90Z M104.46 1078.16h2.24v0.8h-2.24Z M106.30 1078.46h0.40v139.73h-0.40Z M106.95 1063.70h0.90v154.49h-0.90Z M106.95 1063.70h2.24v0.8h-2.24Z M108.79 1064.00h0.40v154.19h-0.40Z M134.31 1066.11h0.90v152.08h-0.90Z M134.31 1066.11h2.24v0.8h-2.24Z M136.15 1066.41h0.40v151.78h-0.40Z M164.16 1077.55h0.90v140.63h-0.90Z M164.16 1077.55h2.24v0.8h-2.24Z M166.00 1077.85h0.40v140.33h-0.40Z M191.53 1079.96h0.90v138.22h-0.90Z M191.53 1079.96h2.24v0.8h-2.24Z M193.36 1080.26h0.40v137.92h-0.40Z M221.38 1075.14h0.90v143.04h-0.90Z M221.38 1075.14h2.24v0.8h-2.24Z M223.21 1075.44h0.40v142.74h-0.40Z M248.74 1066.11h0.90v152.08h-0.90Z M248.74 1066.11h2.24v0.8h-2.24Z M250.57 1066.41h0.40v151.78h-0.40Z M251.22 1081.77h0.90v136.42h-0.90Z M251.22 1081.77h2.24v0.8h-2.24Z M253.06 1082.07h0.40v136.12h-0.40Z M278.59 1077.55h0.90v140.63h-0.90Z M278.59 1077.55h2.24v0.8h-2.24Z M280.43 1077.85h0.40v140.33h-0.40Z M305.95 1164.28h0.90v53.90h-0.90Z M305.95 1164.28h2.24v0.8h-2.24Z M307.79 1164.58h0.40v53.60h-0.40Z M308.44 1075.75h0.90v142.44h-0.90Z M308.44 1075.75h2.24v0.8h-2.24Z M310.28 1076.05h0.40v142.14h-0.40Z M335.80 1066.71h0.90v151.47h-0.90Z M335.80 1066.71h2.24v0.8h-2.24Z M337.64 1067.01h0.40v151.17h-0.40Z M365.65 1168.50h0.90v49.69h-0.90Z M365.65 1168.50h2.24v0.8h-2.24Z M367.49 1168.80h0.40v49.39h-0.40Z M393.01 1060.09h0.90v158.10h-0.90Z M393.01 1060.09h2.24v0.8h-2.24Z M394.85 1060.39h0.40v157.80h-0.40Z M395.50 1070.93h0.90v147.26h-0.90Z M395.50 1070.93h2.24v0.8h-2.24Z M397.34 1071.23h0.40v146.96h-0.40Z" fill="#1a1a50"/>
<path d="M91.9 1248.5H410.3 M91.9 1218.5H410.3 M91.9 1188.5H410.3 M91.9 1158.5H410.3 M91.9 1128.5H410.3 M91.9 1098.5H410.3 M91.9 1068.5H410.3 M91.9 1038.5H410.3" stroke="#000" stroke-opacity="0.55" stroke-width="1"/>
<line x1="91.9" y1="1037.5" x2="91.9" y2="1248.3" stroke="#222" stroke-width="1.2"/>
<line x1="91.9" y1="1218.5" x2="410.3" y2="1218.5" stroke="#111" stroke-width="1.2"/>
<g clip-path="url(#clip140146022124928)"><text x="92.8" y="1238.7" font-size="11" text-anchor="middle" fill="#111">1</text><text x="117.6" y="1238.7" font-size="11" text-anchor="middle" fill="#111">11</text><text x="142.5" y="1238.7" font-size="11" text-anchor="middle" fill="#111">21</text><text x="167.4" y="1238.7" font-size="11" text-anchor="middle" fill="#111">31</text><text x="192.3" y="1238.7" font-size="11" text-anchor="middle" fill="#111">41</text><text x="217.1" y="1238.7" font-size="11" text-anchor="middle" fill="#111">51</text><text x="242.0" y="1238.7" font-size="11" text-anchor="middle" fill="#111">61</text><text x="266.9" y="1238.7" font-size="11" text-anchor="middle" fill="#111">71</text><text x="291.8" y="1238.7" font-size="11" text-anchor="middle" fill="#111">81</text><text x="316.6" y="1238.7" font-size="11" text-anchor="middle" fill="#111">91</text><text x="341.5" y="1238.7" font-size="11" text-anchor="middle" fill="#111">101</text><text x="366.4" y="1238.7" font-size="11" text-anchor="middle" fill="#111">111</text><text x="391.3" y="1238.7" font-size="11" text-anchor="middle" fill="#111">121</text></g>
<rect x="418.3" y="1132.7" width="56.19999999999999" height="18.5" fill="#fff" stroke="#222" stroke-width="1"/>
<rect x="422.1" y="1139.2" width="7.2" height="7.2" fill="#9999ff" stroke="#202060" stroke-width="1"/>
<text x="433.6" y="1146.8" font-size="10.7" fill="#111" textLength="36" lengthAdjust="spacingAndGlyphs">Series1</text>
<clipPath id="clip140146022124736"><rect x="591.6" y="1057.8" width="363.29999999999995" height="242.5"/></clipPath>
<line x1="562.2" y1="1005.9" x2="562.2" y2="1281.4" stroke="#222" stroke-width="1.3"/>
<line x1="562.2" y1="1006" x2="965.9" y2="1006" stroke="#111" stroke-width="1.3"/>
<text x="667.5" y="1026.8" font-size="12.2" font-weight="bold" fill="#111" textLength="187.5" lengthAdjust="spacingAndGlyphs">chip 2 gain vs channel m(mV/fC)</text>
<rect x="591.1" y="1057.8" width="363.29999999999995" height="202.5" fill="#c0c0c0" stroke="#707070" stroke-width="1"/>
<line x1="587.1" y1="1260.5" x2="954.4" y2="1260.5" stroke="#1a1a1a" stroke-width="1"/>
<text x="582.5" y="1264.3" font-size="11" text-anchor="end" fill="#111">-5</text>
<line x1="587.1" y1="1227.5" x2="954.4" y2="1227.5" stroke="#1a1a1a" stroke-width="1"/>
<text x="582.5" y="1230.5" font-size="11" text-anchor="end" fill="#111">0</text>
<line x1="587.1" y1="1193.5" x2="954.4" y2="1193.5" stroke="#1a1a1a" stroke-width="1"/>
<text x="582.5" y="1196.8" font-size="11" text-anchor="end" fill="#111">5</text>
<line x1="587.1" y1="1159.5" x2="954.4" y2="1159.5" stroke="#1a1a1a" stroke-width="1"/>
<text x="582.5" y="1163.0" font-size="11" text-anchor="end" fill="#111">10</text>
<line x1="587.1" y1="1125.5" x2="954.4" y2="1125.5" stroke="#1a1a1a" stroke-width="1"/>
<text x="582.5" y="1129.3" font-size="11" text-anchor="end" fill="#111">15</text>
<line x1="587.1" y1="1092.5" x2="954.4" y2="1092.5" stroke="#1a1a1a" stroke-width="1"/>
<text x="582.5" y="1095.5" font-size="11" text-anchor="end" fill="#111">20</text>
<line x1="587.1" y1="1058.5" x2="954.4" y2="1058.5" stroke="#1a1a1a" stroke-width="1"/>
<text x="582.5" y="1061.8" font-size="11" text-anchor="end" fill="#111">25</text>
<path d="M591.10 1226.5v3.8 M593.94 1226.5v3.8 M596.78 1226.5v3.8 M599.61 1226.5v3.8 M602.45 1226.5v3.8 M605.29 1226.5v3.8 M608.13 1226.5v3.8 M610.97 1226.5v3.8 M613.81 1226.5v3.8 M616.64 1226.5v3.8 M619.48 1226.5v3.8 M622.32 1226.5v3.8 M625.16 1226.5v3.8 M628.00 1226.5v3.8 M630.84 1226.5v3.8 M633.67 1226.5v3.8 M636.51 1226.5v3.8 M639.35 1226.5v3.8 M642.19 1226.5v3.8 M645.03 1226.5v3.8 M647.87 1226.5v3.8 M650.70 1226.5v3.8 M653.54 1226.5v3.8 M656.38 1226.5v3.8 M659.22 1226.5v3.8 M662.06 1226.5v3.8 M664.90 1226.5v3.8 M667.73 1226.5v3.8 M670.57 1226.5v3.8 M673.41 1226.5v3.8 M676.25 1226.5v3.8 M679.09 1226.5v3.8 M681.92 1226.5v3.8 M684.76 1226.5v3.8 M687.60 1226.5v3.8 M690.44 1226.5v3.8 M693.28 1226.5v3.8 M696.12 1226.5v3.8 M698.95 1226.5v3.8 M701.79 1226.5v3.8 M704.63 1226.5v3.8 M707.47 1226.5v3.8 M710.31 1226.5v3.8 M713.15 1226.5v3.8 M715.98 1226.5v3.8 M718.82 1226.5v3.8 M721.66 1226.5v3.8 M724.50 1226.5v3.8 M727.34 1226.5v3.8 M730.18 1226.5v3.8 M733.01 1226.5v3.8 M735.85 1226.5v3.8 M738.69 1226.5v3.8 M741.53 1226.5v3.8 M744.37 1226.5v3.8 M747.21 1226.5v3.8 M750.04 1226.5v3.8 M752.88 1226.5v3.8 M755.72 1226.5v3.8 M758.56 1226.5v3.8 M761.40 1226.5v3.8 M764.24 1226.5v3.8 M767.07 1226.5v3.8 M769.91 1226.5v3.8 M772.75 1226.5v3.8 M775.59 1226.5v3.8 M778.43 1226.5v3.8 M781.26 1226.5v3.8 M784.10 1226.5v3.8 M786.94 1226.5v3.8 M789.78 1226.5v3.8 M792.62 1226.5v3.8 M795.46 1226.5v3.8 M798.29 1226.5v3.8 M801.13 1226.5v3.8 M803.97 1226.5v3.8 M806.81 1226.5v3.8 M809.65 1226.5v3.8 M812.49 1226.5v3.8 M815.32 1226.5v3.8 M818.16 1226.5v3.8 M821.00 1226.5v3.8 M823.84 1226.5v3.8 M826.68 1226.5v3.8 M829.52 1226.5v3.8 M832.35 1226.5v3.8 M835.19 1226.5v3.8 M838.03 1226.5v3.8 M840.87 1226.5v3.8 M843.71 1226.5v3.8 M846.55 1226.5v3.8 M849.38 1226.5v3.8 M852.22 1226.5v3.8 M855.06 1226.5v3.8 M857.90 1226.5v3.8 M860.74 1226.5v3.8 M863.58 1226.5v3.8 M866.41 1226.5v3.8 M869.25 1226.5v3.8 M872.09 1226.5v3.8 M874.93 1226.5v3.8 M877.77 1226.5v3.8 M880.60 1226.5v3.8 M883.44 1226.5v3.8 M886.28 1226.5v3.8 M889.12 1226.5v3.8 M891.96 1226.5v3.8 M894.80 1226.5v3.8 M897.63 1226.5v3.8 M900.47 1226.5v3.8 M903.31 1226.5v3.8 M906.15 1226.5v3.8 M908.99 1226.5v3.8 M911.83 1226.5v3.8 M914.66 1226.5v3.8 M917.50 1226.5v3.8 M920.34 1226.5v3.8 M923.18 1226.5v3.8 M926.02 1226.5v3.8 M928.86 1226.5v3.8 M931.69 1226.5v3.8 M934.53 1226.5v3.8 M937.37 1226.5v3.8 M940.21 1226.5v3.8 M943.05 1226.5v3.8 M945.89 1226.5v3.8 M948.72 1226.5v3.8 M951.56 1226.5v3.8 M954.40 1226.5v3.8" stroke="#1a1a1a" stroke-width="0.9"/>
<path d="M591.23 1090.20h2.59v136.35h-2.59Z M596.90 1119.90h2.59v106.65h-2.59Z M599.74 1146.22h2.59v80.33h-2.59Z M605.42 1088.17h2.59v138.38h-2.59Z M608.25 1204.95h2.59v21.60h-2.59Z M613.93 1090.20h2.59v136.35h-2.59Z M616.77 1191.45h2.59v35.10h-2.59Z M622.45 1142.17h2.59v84.38h-2.59Z M625.28 1086.15h2.59v140.40h-2.59Z M630.96 1115.17h2.59v111.38h-2.59Z M633.80 1185.38h2.59v41.17h-2.59Z M639.48 1166.47h2.59v60.08h-2.59Z M642.31 1118.55h2.59v108.00h-2.59Z M647.99 1097.62h2.59v128.92h-2.59Z M650.83 1144.20h2.59v82.35h-2.59Z M656.51 1146.22h2.59v80.33h-2.59Z M659.34 1091.55h2.59v135.00h-2.59Z M665.02 1122.60h2.59v103.95h-2.59Z M667.86 1226.55h2.59v21.60h-2.59Z M673.54 1136.10h2.59v90.45h-2.59Z M676.37 1125.97h2.59v100.58h-2.59Z M682.05 1088.17h2.59v138.38h-2.59Z M684.89 1200.90h2.59v25.65h-2.59Z M690.56 1154.33h2.59v72.22h-2.59Z M693.40 1091.55h2.59v135.00h-2.59Z M699.08 1173.90h2.59v52.65h-2.59Z M701.92 1129.35h2.59v97.20h-2.59Z M707.59 1134.08h2.59v92.47h-2.59Z M710.43 1119.22h2.59v107.33h-2.59Z M716.11 1222.50h2.59v4.05h-2.59Z M718.95 1224.52h2.59v2.03h-2.59Z M724.62 1091.55h2.59v135.00h-2.59Z M727.46 1119.22h2.59v107.33h-2.59Z M733.14 1115.85h2.59v110.70h-2.59Z M735.98 1220.47h2.59v6.08h-2.59Z M741.65 1101.00h2.59v125.55h-2.59Z M744.49 1226.55h2.59v8.78h-2.59Z M750.17 1196.85h2.59v29.70h-2.59Z M753.01 1142.85h2.59v83.70h-2.59Z M758.68 1155.00h2.59v71.55h-2.59Z M761.52 1177.27h2.59v49.28h-2.59Z M767.20 1125.30h2.59v101.25h-2.59Z M770.04 1167.15h2.59v59.40h-2.59Z M775.71 1138.12h2.59v88.42h-2.59Z M778.55 1120.58h2.59v105.97h-2.59Z M784.23 1094.92h2.59v131.62h-2.59Z M787.07 1145.55h2.59v81.00h-2.59Z M792.74 1188.08h2.59v38.47h-2.59Z M795.58 1138.12h2.59v88.42h-2.59Z M801.26 1138.80h2.59v87.75h-2.59Z M804.10 1105.05h2.59v121.50h-2.59Z M809.77 1132.05h2.59v94.50h-2.59Z M812.61 1121.92h2.59v104.62h-2.59Z M818.29 1095.60h2.59v130.95h-2.59Z M821.13 1125.97h2.59v100.58h-2.59Z M826.80 1226.55h2.59v20.25h-2.59Z M829.64 1097.62h2.59v128.92h-2.59Z M835.32 1127.33h2.59v99.22h-2.59Z M838.16 1150.95h2.59v75.60h-2.59Z M843.83 1137.45h2.59v89.10h-2.59Z M846.67 1120.58h2.59v105.97h-2.59Z M852.35 1091.55h2.59v135.00h-2.59Z M855.19 1117.88h2.59v108.67h-2.59Z M860.86 1134.08h2.59v92.47h-2.59Z M863.70 1159.72h2.59v66.83h-2.59Z M869.38 1116.52h2.59v110.03h-2.59Z M872.21 1172.55h2.59v54.00h-2.59Z M877.89 1125.97h2.59v100.58h-2.59Z M880.73 1121.25h2.59v105.30h-2.59Z M886.41 1098.30h2.59v128.25h-2.59Z M889.24 1146.90h2.59v79.65h-2.59Z M894.92 1133.40h2.59v93.15h-2.59Z M897.76 1090.20h2.59v136.35h-2.59Z M903.44 1121.25h2.59v105.30h-2.59Z M906.27 1136.77h2.59v89.78h-2.59Z M911.95 1125.30h2.59v101.25h-2.59Z M914.79 1125.30h2.59v101.25h-2.59Z M920.47 1098.97h2.59v127.58h-2.59Z M923.30 1115.85h2.59v110.70h-2.59Z M928.98 1119.22h2.59v107.33h-2.59Z M931.82 1091.55h2.59v135.00h-2.59Z M937.50 1119.22h2.59v107.33h-2.59Z M940.33 1139.47h2.59v87.08h-2.59Z M946.01 1135.42h2.59v91.12h-2.59Z M948.85 1118.55h2.59v108.00h-2.59Z" fill="#8c8cc6"/>
<path d="M591.23 1089.90h0.90v136.65h-0.90Z M591.23 1089.90h2.59v0.8h-2.59Z M593.41 1090.20h0.40v136.35h-0.40Z M596.90 1119.60h0.90v106.95h-0.90Z M596.90 1119.60h2.59v0.8h-2.59Z M599.09 1119.90h0.40v106.65h-0.40Z M599.74 1145.92h0.90v80.63h-0.90Z M599.74 1145.92h2.59v0.8h-2.59Z M601.93 1146.22h0.40v80.33h-0.40Z M605.42 1087.88h0.90v138.68h-0.90Z M605.42 1087.88h2.59v0.8h-2.59Z M607.60 1088.17h0.40v138.38h-0.40Z M608.25 1204.65h0.90v21.90h-0.90Z M608.25 1204.65h2.59v0.8h-2.59Z M610.44 1204.95h0.40v21.60h-0.40Z M613.93 1089.90h0.90v136.65h-0.90Z M613.93 1089.90h2.59v0.8h-2.59Z M616.12 1090.20h0.40v136.35h-0.40Z M616.77 1191.15h0.90v35.40h-0.90Z M616.77 1191.15h2.59v0.8h-2.59Z M618.96 1191.45h0.40v35.10h-0.40Z M622.45 1141.88h0.90v84.67h-0.90Z M622.45 1141.88h2.59v0.8h-2.59Z M624.63 1142.17h0.40v84.38h-0.40Z M625.28 1085.85h0.90v140.70h-0.90Z M625.28 1085.85h2.59v0.8h-2.59Z M627.47 1086.15h0.40v140.40h-0.40Z M630.96 1114.88h0.90v111.67h-0.90Z M630.96 1114.88h2.59v0.8h-2.59Z M633.15 1115.17h0.40v111.38h-0.40Z M633.80 1185.08h0.90v41.47h-0.90Z M633.80 1185.08h2.59v0.8h-2.59Z M635.99 1185.38h0.40v41.17h-0.40Z M639.48 1166.17h0.90v60.38h-0.90Z M639.48 1166.17h2.59v0.8h-2.59Z M641.66 1166.47h0.40v60.08h-0.40Z M642.31 1118.25h0.90v108.30h-0.90Z M642.31 1118.25h2.59v0.8h-2.59Z M644.50 1118.55h0.40v108.00h-0.40Z M647.99 1097.33h0.90v129.22h-0.90Z M647.99 1097.33h2.59v0.8h-2.59Z M650.18 1097.62h0.40v128.92h-0.40Z M650.83 1143.90h0.90v82.65h-0.90Z M650.83 1143.90h2.59v0.8h-2.59Z M653.02 1144.20h0.40v82.35h-0.40Z M656.51 1145.92h0.90v80.63h-0.90Z M656.51 1145.92h2.59v0.8h-2.59Z M658.69 1146.22h0.40v80.33h-0.40Z M659.34 1091.25h0.90v135.30h-0.90Z M659.34 1091.25h2.59v0.8h-2.59Z M661.53 1091.55h0.40v135.00h-0.40Z M665.02 1122.30h0.90v104.25h-0.90Z M665.02 1122.30h2.59v0.8h-2.59Z M667.21 1122.60h0.40v103.95h-0.40Z M667.86 1226.25h0.90v21.90h-0.90Z M667.86 1226.25h2.59v0.8h-2.59Z M670.05 1226.55h0.40v21.60h-0.40Z M673.54 1135.80h0.90v90.75h-0.90Z M673.54 1135.80h2.59v0.8h-2.59Z M675.72 1136.10h0.40v90.45h-0.40Z M676.37 1125.67h0.90v100.88h-0.90Z M676.37 1125.67h2.59v0.8h-2.59Z M678.56 1125.97h0.40v100.58h-0.40Z M682.05 1087.88h0.90v138.68h-0.90Z M682.05 1087.88h2.59v0.8h-2.59Z M684.24 1088.17h0.40v138.38h-0.40Z M684.89 1200.60h0.90v25.95h-0.90Z M684.89 1200.60h2.59v0.8h-2.59Z M687.08 1200.90h0.40v25.65h-0.40Z M690.56 1154.03h0.90v72.52h-0.90Z M690.56 1154.03h2.59v0.8h-2.59Z M692.75 1154.33h0.40v72.22h-0.40Z M693.40 1091.25h0.90v135.30h-0.90Z M693.40 1091.25h2.59v0.8h-2.59Z M695.59 1091.55h0.40v135.00h-0.40Z M699.08 1173.60h0.90v52.95h-0.90Z M699.08 1173.60h2.59v0.8h-2.59Z M701.27 1173.90h0.40v52.65h-0.40Z M701.92 1129.05h0.90v97.50h-0.90Z M701.92 1129.05h2.59v0.8h-2.59Z M704.11 1129.35h0.40v97.20h-0.40Z M707.59 1133.78h0.90v92.77h-0.90Z M707.59 1133.78h2.59v0.8h-2.59Z M709.78 1134.08h0.40v92.47h-0.40Z M710.43 1118.92h0.90v107.63h-0.90Z M710.43 1118.92h2.59v0.8h-2.59Z M712.62 1119.22h0.40v107.33h-0.40Z M716.11 1222.20h0.90v4.35h-0.90Z M716.11 1222.20h2.59v0.8h-2.59Z M718.30 1222.50h0.40v4.05h-0.40Z M718.95 1224.22h0.90v2.33h-0.90Z M718.95 1224.22h2.59v0.8h-2.59Z M721.14 1224.52h0.40v2.03h-0.40Z M724.62 1091.25h0.90v135.30h-0.90Z M724.62 1091.25h2.59v0.8h-2.59Z M726.81 1091.55h0.40v135.00h-0.40Z M727.46 1118.92h0.90v107.63h-0.90Z M727.46 1118.92h2.59v0.8h-2.59Z M729.65 1119.22h0.40v107.33h-0.40Z M733.14 1115.55h0.90v111.00h-0.90Z M733.14 1115.55h2.59v0.8h-2.59Z M735.33 1115.85h0.40v110.70h-0.40Z M735.98 1220.17h0.90v6.38h-0.90Z M735.98 1220.17h2.59v0.8h-2.59Z M738.17 1220.47h0.40v6.08h-0.40Z M741.65 1100.70h0.90v125.85h-0.90Z M741.65 1100.70h2.59v0.8h-2.59Z M743.84 1101.00h0.40v125.55h-0.40Z M744.49 1226.25h0.90v9.08h-0.90Z M744.49 1226.25h2.59v0.8h-2.59Z M746.68 1226.55h0.40v8.78h-0.40Z M750.17 1196.55h0.90v30.00h-0.90Z M750.17 1196.55h2.59v0.8h-2.59Z M752.36 1196.85h0.40v29.70h-0.40Z M753.01 1142.55h0.90v84.00h-0.90Z M753.01 1142.55h2.59v0.8h-2.59Z M755.20 1142.85h0.40v83.70h-0.40Z M758.68 1154.70h0.90v71.85h-0.90Z M758.68 1154.70h2.59v0.8h-2.59Z M760.87 1155.00h0.40v71.55h-0.40Z M761.52 1176.97h0.90v49.58h-0.90Z M761.52 1176.97h2.59v0.8h-2.59Z M763.71 1177.27h0.40v49.28h-0.40Z M767.20 1125.00h0.90v101.55h-0.90Z M767.20 1125.00h2.59v0.8h-2.59Z M769.39 1125.30h0.40v101.25h-0.40Z M770.04 1166.85h0.90v59.70h-0.90Z M770.04 1166.85h2.59v0.8h-2.59Z M772.23 1167.15h0.40v59.40h-0.40Z M775.71 1137.83h0.90v88.72h-0.90Z M775.71 1137.83h2.59v0.8h-2.59Z M777.90 1138.12h0.40v88.42h-0.40Z M778.55 1120.28h0.90v106.27h-0.90Z M778.55 1120.28h2.59v0.8h-2.59Z M780.74 1120.58h0.40v105.97h-0.40Z M784.23 1094.62h0.90v131.93h-0.90Z M784.23 1094.62h2.59v0.8h-2.59Z M786.42 1094.92h0.40v131.62h-0.40Z M787.07 1145.25h0.90v81.30h-0.90Z M787.07 1145.25h2.59v0.8h-2.59Z M789.25 1145.55h0.40v81.00h-0.40Z M792.74 1187.78h0.90v38.77h-0.90Z M792.74 1187.78h2.59v0.8h-2.59Z M794.93 1188.08h0.40v38.47h-0.40Z M795.58 1137.83h0.90v88.72h-0.90Z M795.58 1137.83h2.59v0.8h-2.59Z M797.77 1138.12h0.40v88.42h-0.40Z M801.26 1138.50h0.90v88.05h-0.90Z M801.26 1138.50h2.59v0.8h-2.59Z M803.45 1138.80h0.40v87.75h-0.40Z M804.10 1104.75h0.90v121.80h-0.90Z M804.10 1104.75h2.59v0.8h-2.59Z M806.28 1105.05h0.40v121.50h-0.40Z M809.77 1131.75h0.90v94.80h-0.90Z M809.77 1131.75h2.59v0.8h-2.59Z M811.96 1132.05h0.40v94.50h-0.40Z M812.61 1121.62h0.90v104.92h-0.90Z M812.61 1121.62h2.59v0.8h-2.59Z M814.80 1121.92h0.40v104.62h-0.40Z M818.29 1095.30h0.90v131.25h-0.90Z M818.29 1095.30h2.59v0.8h-2.59Z M820.48 1095.60h0.40v130.95h-0.40Z M821.13 1125.67h0.90v100.88h-0.90Z M821.13 1125.67h2.59v0.8h-2.59Z M823.31 1125.97h0.40v100.58h-0.40Z M826.80 1226.25h0.90v20.55h-0.90Z M826.80 1226.25h2.59v0.8h-2.59Z M828.99 1226.55h0.40v20.25h-0.40Z M829.64 1097.33h0.90v129.22h-0.90Z M829.64 1097.33h2.59v0.8h-2.59Z M831.83 1097.62h0.40v128.92h-0.40Z M835.32 1127.03h0.90v99.52h-0.90Z M835.32 1127.03h2.59v0.8h-2.59Z M837.51 1127.33h0.40v99.22h-0.40Z M838.16 1150.65h0.90v75.90h-0.90Z M838.16 1150.65h2.59v0.8h-2.59Z M840.34 1150.95h0.40v75.60h-0.40Z M843.83 1137.15h0.90v89.40h-0.90Z M843.83 1137.15h2.59v0.8h-2.59Z M846.02 1137.45h0.40v89.10h-0.40Z M846.67 1120.28h0.90v106.27h-0.90Z M846.67 1120.28h2.59v0.8h-2.59Z M848.86 1120.58h0.40v105.97h-0.40Z M852.35 1091.25h0.90v135.30h-0.90Z M852.35 1091.25h2.59v0.8h-2.59Z M854.54 1091.55h0.40v135.00h-0.40Z M855.19 1117.58h0.90v108.97h-0.90Z M855.19 1117.58h2.59v0.8h-2.59Z M857.37 1117.88h0.40v108.67h-0.40Z M860.86 1133.78h0.90v92.77h-0.90Z M860.86 1133.78h2.59v0.8h-2.59Z M863.05 1134.08h0.40v92.47h-0.40Z M863.70 1159.42h0.90v67.13h-0.90Z M863.70 1159.42h2.59v0.8h-2.59Z M865.89 1159.72h0.40v66.83h-0.40Z M869.38 1116.22h0.90v110.33h-0.90Z M869.38 1116.22h2.59v0.8h-2.59Z M871.56 1116.52h0.40v110.03h-0.40Z M872.21 1172.25h0.90v54.30h-0.90Z M872.21 1172.25h2.59v0.8h-2.59Z M874.40 1172.55h0.40v54.00h-0.40Z M877.89 1125.67h0.90v100.88h-0.90Z M877.89 1125.67h2.59v0.8h-2.59Z M880.08 1125.97h0.40v100.58h-0.40Z M880.73 1120.95h0.90v105.60h-0.90Z M880.73 1120.95h2.59v0.8h-2.59Z M882.92 1121.25h0.40v105.30h-0.40Z M886.41 1098.00h0.90v128.55h-0.90Z M886.41 1098.00h2.59v0.8h-2.59Z M888.59 1098.30h0.40v128.25h-0.40Z M889.24 1146.60h0.90v79.95h-0.90Z M889.24 1146.60h2.59v0.8h-2.59Z M891.43 1146.90h0.40v79.65h-0.40Z M894.92 1133.10h0.90v93.45h-0.90Z M894.92 1133.10h2.59v0.8h-2.59Z M897.11 1133.40h0.40v93.15h-0.40Z M897.76 1089.90h0.90v136.65h-0.90Z M897.76 1089.90h2.59v0.8h-2.59Z M899.95 1090.20h0.40v136.35h-0.40Z M903.44 1120.95h0.90v105.60h-0.90Z M903.44 1120.95h2.59v0.8h-2.59Z M905.62 1121.25h0.40v105.30h-0.40Z M906.27 1136.47h0.90v90.08h-0.90Z M906.27 1136.47h2.59v0.8h-2.59Z M908.46 1136.77h0.40v89.78h-0.40Z M911.95 1125.00h0.90v101.55h-0.90Z M911.95 1125.00h2.59v0.8h-2.59Z M914.14 1125.30h0.40v101.25h-0.40Z M914.79 1125.00h0.90v101.55h-0.90Z M914.79 1125.00h2.59v0.8h-2.59Z M916.98 1125.30h0.40v101.25h-0.40Z M920.47 1098.67h0.90v127.88h-0.90Z M920.47 1098.67h2.59v0.8h-2.59Z M922.65 1098.97h0.40v127.58h-0.40Z M923.30 1115.55h0.90v111.00h-0.90Z M923.30 1115.55h2.59v0.8h-2.59Z M925.49 1115.85h0.40v110.70h-0.40Z M928.98 1118.92h0.90v107.63h-0.90Z M928.98 1118.92h2.59v0.8h-2.59Z M931.17 1119.22h0.40v107.33h-0.40Z M931.82 1091.25h0.90v135.30h-0.90Z M931.82 1091.25h2.59v0.8h-2.59Z M934.01 1091.55h0.40v135.00h-0.40Z M937.50 1118.92h0.90v107.63h-0.90Z M937.50 1118.92h2.59v0.8h-2.59Z M939.68 1119.22h0.40v107.33h-0.40Z M940.33 1139.17h0.90v87.38h-0.90Z M940.33 1139.17h2.59v0.8h-2.59Z M942.52 1139.47h0.40v87.08h-0.40Z M946.01 1135.12h0.90v91.42h-0.90Z M946.01 1135.12h2.59v0.8h-2.59Z M948.20 1135.42h0.40v91.12h-0.40Z M948.85 1118.25h0.90v108.30h-0.90Z M948.85 1118.25h2.59v0.8h-2.59Z M951.04 1118.55h0.40v108.00h-0.40Z" fill="#18185a"/>
<path d="M594.06 1127.33h2.59v99.22h-2.59Z M602.58 1098.97h2.59v127.58h-2.59Z M611.09 1094.92h2.59v131.62h-2.59Z M619.61 1118.55h2.59v108.00h-2.59Z M628.12 1226.55h2.59v20.25h-2.59Z M636.64 1085.47h2.59v141.08h-2.59Z M645.15 1148.92h2.59v77.62h-2.59Z M653.67 1123.95h2.59v102.60h-2.59Z M662.18 1138.80h2.59v87.75h-2.59Z M670.70 1101.67h2.59v124.88h-2.59Z M679.21 1129.35h2.59v97.20h-2.59Z M687.73 1117.20h2.59v109.35h-2.59Z M696.24 1113.15h2.59v113.40h-2.59Z M704.76 1091.55h2.59v135.00h-2.59Z M713.27 1146.22h2.59v80.33h-2.59Z M721.79 1212.38h2.59v14.17h-2.59Z M730.30 1146.22h2.59v80.33h-2.59Z M738.82 1091.55h2.59v135.00h-2.59Z M747.33 1091.55h2.59v135.00h-2.59Z M755.85 1123.27h2.59v103.28h-2.59Z M764.36 1144.20h2.59v82.35h-2.59Z M772.88 1100.33h2.59v126.22h-2.59Z M781.39 1173.90h2.59v52.65h-2.59Z M789.90 1123.95h2.59v102.60h-2.59Z M798.42 1109.77h2.59v116.78h-2.59Z M806.93 1125.97h2.59v100.58h-2.59Z M815.45 1226.55h2.59v20.92h-2.59Z M823.96 1127.33h2.59v99.22h-2.59Z M832.48 1133.40h2.59v93.15h-2.59Z M840.99 1089.52h2.59v137.03h-2.59Z M849.51 1150.27h2.59v76.28h-2.59Z M858.02 1133.40h2.59v93.15h-2.59Z M866.54 1177.95h2.59v48.60h-2.59Z M875.05 1089.52h2.59v137.03h-2.59Z M883.57 1130.02h2.59v96.53h-2.59Z M892.08 1120.58h2.59v105.97h-2.59Z M900.60 1113.15h2.59v113.40h-2.59Z M909.11 1102.35h2.59v124.20h-2.59Z M917.63 1157.02h2.59v69.53h-2.59Z M926.14 1182.67h2.59v43.88h-2.59Z M934.66 1133.40h2.59v93.15h-2.59Z M943.17 1096.27h2.59v130.28h-2.59Z" fill="#8a8a94"/>
<path d="M594.06 1127.03h1.30v99.52h-1.30Z M594.06 1127.03h2.59v0.8h-2.59Z M596.25 1127.33h0.40v99.22h-0.40Z M602.58 1098.67h1.30v127.88h-1.30Z M602.58 1098.67h2.59v0.8h-2.59Z M604.77 1098.97h0.40v127.58h-0.40Z M611.09 1094.62h1.30v131.93h-1.30Z M611.09 1094.62h2.59v0.8h-2.59Z M613.28 1094.92h0.40v131.62h-0.40Z M619.61 1118.25h1.30v108.30h-1.30Z M619.61 1118.25h2.59v0.8h-2.59Z M621.80 1118.55h0.40v108.00h-0.40Z M628.12 1226.25h1.30v20.55h-1.30Z M628.12 1226.25h2.59v0.8h-2.59Z M630.31 1226.55h0.40v20.25h-0.40Z M636.64 1085.17h1.30v141.38h-1.30Z M636.64 1085.17h2.59v0.8h-2.59Z M638.83 1085.47h0.40v141.08h-0.40Z M645.15 1148.62h1.30v77.92h-1.30Z M645.15 1148.62h2.59v0.8h-2.59Z M647.34 1148.92h0.40v77.62h-0.40Z M653.67 1123.65h1.30v102.90h-1.30Z M653.67 1123.65h2.59v0.8h-2.59Z M655.86 1123.95h0.40v102.60h-0.40Z M662.18 1138.50h1.30v88.05h-1.30Z M662.18 1138.50h2.59v0.8h-2.59Z M664.37 1138.80h0.40v87.75h-0.40Z M670.70 1101.38h1.30v125.17h-1.30Z M670.70 1101.38h2.59v0.8h-2.59Z M672.89 1101.67h0.40v124.88h-0.40Z M679.21 1129.05h1.30v97.50h-1.30Z M679.21 1129.05h2.59v0.8h-2.59Z M681.40 1129.35h0.40v97.20h-0.40Z M687.73 1116.90h1.30v109.65h-1.30Z M687.73 1116.90h2.59v0.8h-2.59Z M689.91 1117.20h0.40v109.35h-0.40Z M696.24 1112.85h1.30v113.70h-1.30Z M696.24 1112.85h2.59v0.8h-2.59Z M698.43 1113.15h0.40v113.40h-0.40Z M704.76 1091.25h1.30v135.30h-1.30Z M704.76 1091.25h2.59v0.8h-2.59Z M706.94 1091.55h0.40v135.00h-0.40Z M713.27 1145.92h1.30v80.63h-1.30Z M713.27 1145.92h2.59v0.8h-2.59Z M715.46 1146.22h0.40v80.33h-0.40Z M721.79 1212.08h1.30v14.47h-1.30Z M721.79 1212.08h2.59v0.8h-2.59Z M723.97 1212.38h0.40v14.17h-0.40Z M730.30 1145.92h1.30v80.63h-1.30Z M730.30 1145.92h2.59v0.8h-2.59Z M732.49 1146.22h0.40v80.33h-0.40Z M738.82 1091.25h1.30v135.30h-1.30Z M738.82 1091.25h2.59v0.8h-2.59Z M741.00 1091.55h0.40v135.00h-0.40Z M747.33 1091.25h1.30v135.30h-1.30Z M747.33 1091.25h2.59v0.8h-2.59Z M749.52 1091.55h0.40v135.00h-0.40Z M755.85 1122.97h1.30v103.58h-1.30Z M755.85 1122.97h2.59v0.8h-2.59Z M758.03 1123.27h0.40v103.28h-0.40Z M764.36 1143.90h1.30v82.65h-1.30Z M764.36 1143.90h2.59v0.8h-2.59Z M766.55 1144.20h0.40v82.35h-0.40Z M772.88 1100.03h1.30v126.52h-1.30Z M772.88 1100.03h2.59v0.8h-2.59Z M775.06 1100.33h0.40v126.22h-0.40Z M781.39 1173.60h1.30v52.95h-1.30Z M781.39 1173.60h2.59v0.8h-2.59Z M783.58 1173.90h0.40v52.65h-0.40Z M789.90 1123.65h1.30v102.90h-1.30Z M789.90 1123.65h2.59v0.8h-2.59Z M792.09 1123.95h0.40v102.60h-0.40Z M798.42 1109.47h1.30v117.08h-1.30Z M798.42 1109.47h2.59v0.8h-2.59Z M800.61 1109.77h0.40v116.78h-0.40Z M806.93 1125.67h1.30v100.88h-1.30Z M806.93 1125.67h2.59v0.8h-2.59Z M809.12 1125.97h0.40v100.58h-0.40Z M815.45 1226.25h1.30v21.22h-1.30Z M815.45 1226.25h2.59v0.8h-2.59Z M817.64 1226.55h0.40v20.92h-0.40Z M823.96 1127.03h1.30v99.52h-1.30Z M823.96 1127.03h2.59v0.8h-2.59Z M826.15 1127.33h0.40v99.22h-0.40Z M832.48 1133.10h1.30v93.45h-1.30Z M832.48 1133.10h2.59v0.8h-2.59Z M834.67 1133.40h0.40v93.15h-0.40Z M840.99 1089.22h1.30v137.33h-1.30Z M840.99 1089.22h2.59v0.8h-2.59Z M843.18 1089.52h0.40v137.03h-0.40Z M849.51 1149.97h1.30v76.58h-1.30Z M849.51 1149.97h2.59v0.8h-2.59Z M851.70 1150.27h0.40v76.28h-0.40Z M858.02 1133.10h1.30v93.45h-1.30Z M858.02 1133.10h2.59v0.8h-2.59Z M860.21 1133.40h0.40v93.15h-0.40Z M866.54 1177.65h1.30v48.90h-1.30Z M866.54 1177.65h2.59v0.8h-2.59Z M868.73 1177.95h0.40v48.60h-0.40Z M875.05 1089.22h1.30v137.33h-1.30Z M875.05 1089.22h2.59v0.8h-2.59Z M877.24 1089.52h0.40v137.03h-0.40Z M883.57 1129.72h1.30v96.83h-1.30Z M883.57 1129.72h2.59v0.8h-2.59Z M885.76 1130.02h0.40v96.53h-0.40Z M892.08 1120.28h1.30v106.27h-1.30Z M892.08 1120.28h2.59v0.8h-2.59Z M894.27 1120.58h0.40v105.97h-0.40Z M900.60 1112.85h1.30v113.70h-1.30Z M900.60 1112.85h2.59v0.8h-2.59Z M902.79 1113.15h0.40v113.40h-0.40Z M909.11 1102.05h1.30v124.50h-1.30Z M909.11 1102.05h2.59v0.8h-2.59Z M911.30 1102.35h0.40v124.20h-0.40Z M917.63 1156.72h1.30v69.83h-1.30Z M917.63 1156.72h2.59v0.8h-2.59Z M919.82 1157.02h0.40v69.53h-0.40Z M926.14 1182.38h1.30v44.17h-1.30Z M926.14 1182.38h2.59v0.8h-2.59Z M928.33 1182.67h0.40v43.88h-0.40Z M934.66 1133.10h1.30v93.45h-1.30Z M934.66 1133.10h2.59v0.8h-2.59Z M936.85 1133.40h0.40v93.15h-0.40Z M943.17 1095.97h1.30v130.58h-1.30Z M943.17 1095.97h2.59v0.8h-2.59Z M945.36 1096.27h0.40v130.28h-0.40Z" fill="#000000"/>
<path d="M591.1 1260.5H954.4 M591.1 1227.5H954.4 M591.1 1193.5H954.4 M591.1 1159.5H954.4 M591.1 1125.5H954.4 M591.1 1092.5H954.4 M591.1 1058.5H954.4" stroke="#000" stroke-opacity="0.55" stroke-width="1"/>
<line x1="591.1" y1="1057.8" x2="591.1" y2="1260.3" stroke="#222" stroke-width="1.2"/>
<line x1="591.1" y1="1227.5" x2="954.4" y2="1227.5" stroke="#111" stroke-width="1.2"/>
<g clip-path="url(#clip140146022124736)"><text x="592.1" y="1246.8" font-size="11" text-anchor="middle" fill="#111">1</text><text x="614.8" y="1246.8" font-size="11" text-anchor="middle" fill="#111">9</text><text x="637.5" y="1246.8" font-size="11" text-anchor="middle" fill="#111">17</text><text x="660.2" y="1246.8" font-size="11" text-anchor="middle" fill="#111">25</text><text x="682.9" y="1246.8" font-size="11" text-anchor="middle" fill="#111">33</text><text x="705.6" y="1246.8" font-size="11" text-anchor="middle" fill="#111">41</text><text x="728.3" y="1246.8" font-size="11" text-anchor="middle" fill="#111">49</text><text x="751.0" y="1246.8" font-size="11" text-anchor="middle" fill="#111">57</text><text x="773.7" y="1246.8" font-size="11" text-anchor="middle" fill="#111">65</text><text x="796.4" y="1246.8" font-size="11" text-anchor="middle" fill="#111">73</text><text x="819.2" y="1246.8" font-size="11" text-anchor="middle" fill="#111">81</text><text x="841.9" y="1246.8" font-size="11" text-anchor="middle" fill="#111">89</text><text x="864.6" y="1246.8" font-size="11" text-anchor="middle" fill="#111">97</text><text x="887.3" y="1246.8" font-size="11" text-anchor="middle" fill="#111">105</text><text x="910.0" y="1246.8" font-size="11" text-anchor="middle" fill="#111">113</text><text x="932.7" y="1246.8" font-size="11" text-anchor="middle" fill="#111">121</text></g>
</svg>
</body></html>
